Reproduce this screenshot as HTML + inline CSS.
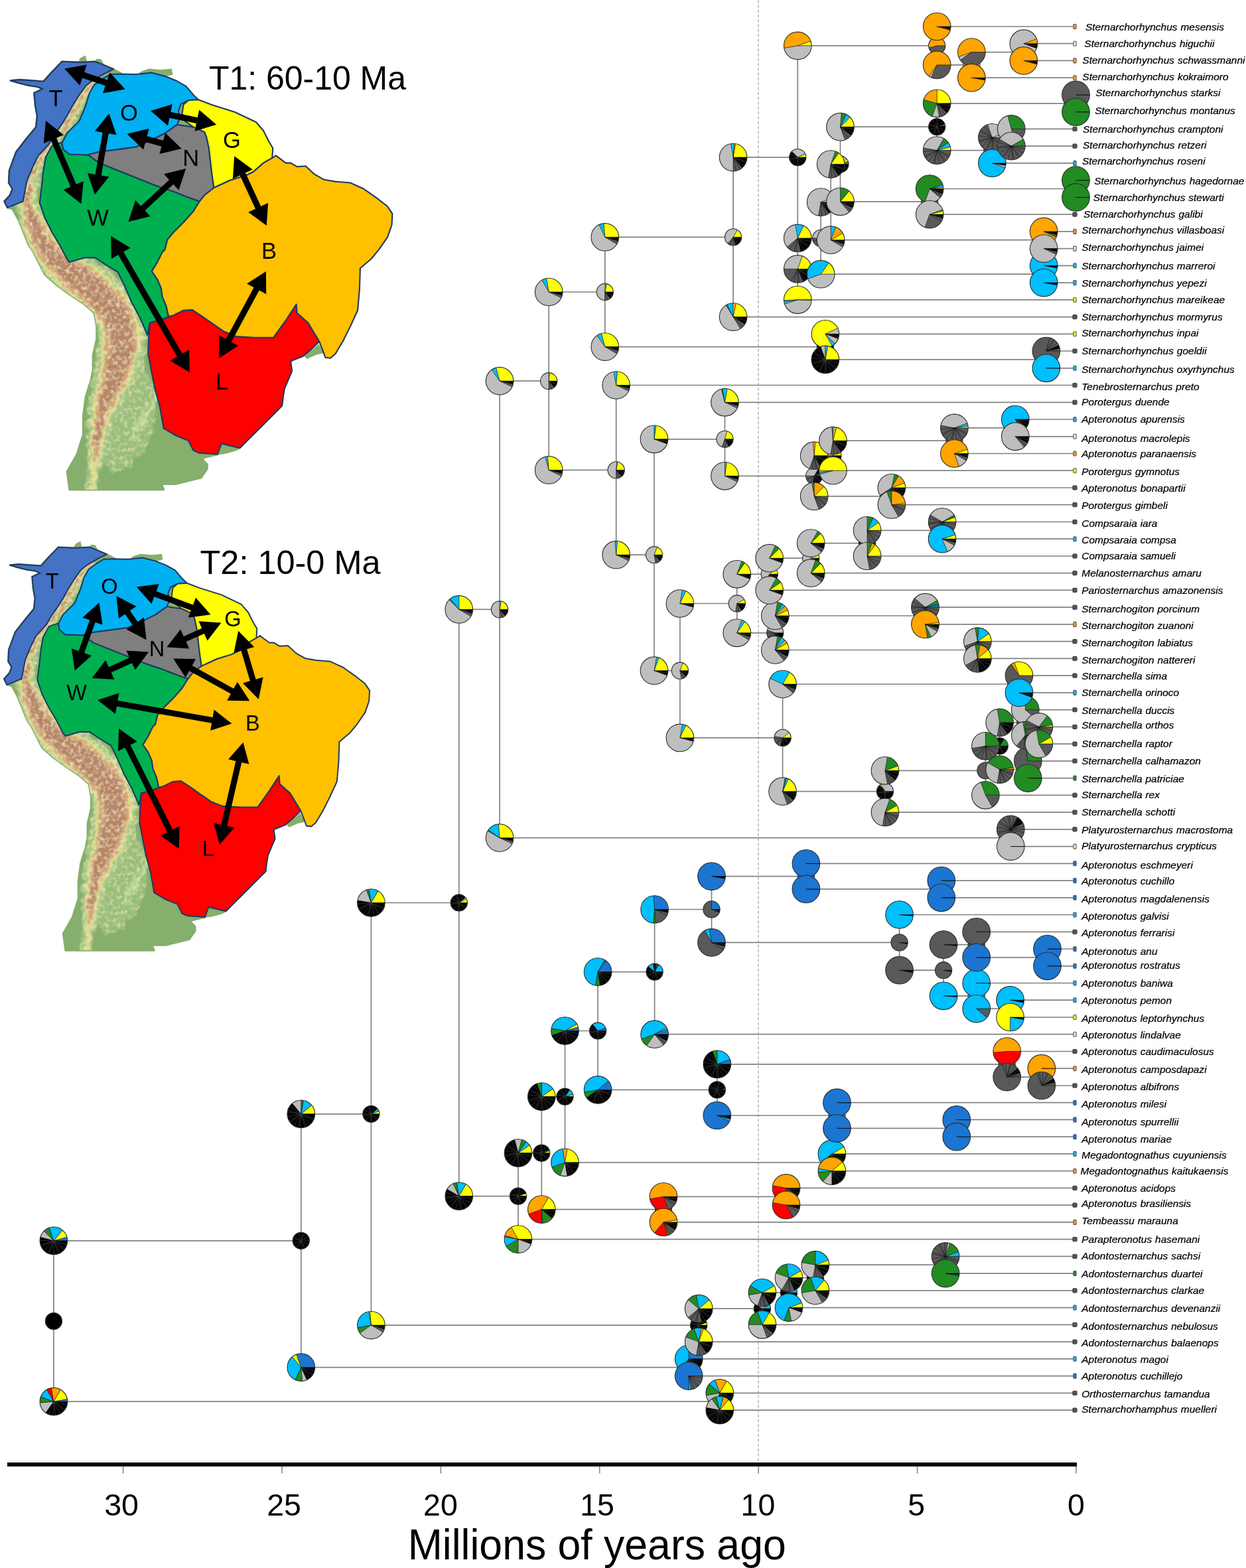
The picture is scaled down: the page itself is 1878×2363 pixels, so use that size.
<!DOCTYPE html>
<html lang="en"><head><meta charset="utf-8"><title>Apteronotidae biogeography</title>
<style>html,body{margin:0;padding:0;background:#fff;overflow:hidden}svg{display:block}</style></head>
<body><svg width="1878" height="2363" viewBox="0 0 1878 2363">
<rect width="1878" height="2363" fill="#fff"/>
<defs><filter id="tb" x="-5%" y="-5%" width="110%" height="110%"><feTurbulence type="fractalNoise" baseFrequency=".09" numOctaves="3" seed="4" result="n"/><feDisplacementMap in="SourceGraphic" in2="n" scale="14" xChannelSelector="R" yChannelSelector="G" result="d"/><feGaussianBlur in="d" stdDeviation="1.2" result="b"/><feTurbulence type="fractalNoise" baseFrequency=".16" numOctaves="2" seed="9" result="n2"/><feColorMatrix in="n2" type="matrix" values="0 0 0 0 .87  0 0 0 0 .78  0 0 0 0 .5  2.2 0 0 0 -1.0" result="sp"/><feComposite in="sp" in2="b" operator="in" result="sp2"/><feMerge><feMergeNode in="b"/><feMergeNode in="sp2"/></feMerge></filter><clipPath id="tc"><path d="M11.2 312.9L18.7 314.7L28 331.5L35.5 350.2L43 368.9L50.4 380L67.3 413.6L84.1 428.6L104.6 443.5L127 458.5L142 471.5L145.7 492.1L145.7 510.8L140.1 535.1L140.1 557.5L136.4 576.2L134.7 580L129.1 598.7L125.4 626.7L125.4 654.7L116 684.6L101.1 710.8L104.8 737.9L246.8 737.9L243.1 729.4L265.5 729.4L302.9 720.1L312.2 707L312.2 699.6L304.7 692.1L308.5 689.3L329 684.6L340 600L320 500L330 300L340 200L280 150L200 120L172 105L170.9 104.2L156.9 111.1L139.2 121.4L128.9 129.8L119.6 142.9L110.2 157.8L100.9 174.6L91.5 189.6L82.2 202.6L74.7 215.7L68.2 223.2L57.9 234.4L50.4 249.3L44.8 262.4L40.2 273.6L37.4 288.6L34.6 303.5Z"/></clipPath><g id="mp"><g fill="#86ae6c" stroke="#86ae6c" stroke-width="3" stroke-linejoin="round"><path d="M11.2 312.9L18.7 314.7L28 331.5L35.5 350.2L43 368.9L50.4 380L67.3 413.6L84.1 428.6L104.6 443.5L127 458.5L142 471.5L145.7 492.1L145.7 510.8L140.1 535.1L140.1 557.5L136.4 576.2L134.7 580L129.1 598.7L125.4 626.7L125.4 654.7L116 684.6L101.1 710.8L104.8 737.9L246.8 737.9L243.1 729.4L265.5 729.4L302.9 720.1L312.2 707L312.2 699.6L304.7 692.1L308.5 689.3L329 684.6L340 600L320 500L330 300L340 200L280 150L200 120L172 105L170.9 104.2L156.9 111.1L139.2 121.4L128.9 129.8L119.6 142.9L110.2 157.8L100.9 174.6L91.5 189.6L82.2 202.6L74.7 215.7L68.2 223.2L57.9 234.4L50.4 249.3L44.8 262.4L40.2 273.6L37.4 288.6L34.6 303.5Z"/><path d="M93.4 92.8L119.6 93.9L143.8 92.8L170.9 104.2L156.9 111.1L139.2 121.4L128.9 129.8L119.6 142.9L110.2 157.8L100.9 174.6L91.5 189.6L82.2 202.6L74.7 215.7L68.2 223.2L57.9 234.4L50.4 249.3L44.8 262.4L40.2 273.6L37.4 288.6L34.6 303.5L11.2 312.9L6.5 303.5L14.9 294.2L18.7 284.8L13.1 275.5L14 256.8L24.3 228.8L37.4 212L54.2 191.4L56 174.6L53.2 159.7L51.4 140.1L64.4 133.9L56 130.7L43 128.8L28 125.1L15.9 121.4L29.9 120.1L48.6 121.4L65.4 122.7L76.6 110.2Z"/></g><g fill="#86ae6c"><path d="M458.8 536.9L469.1 528.5L480.3 518.2L487.7 532.3L476.5 534.7L462.5 541Z"/><path d="M207.4 112L213 107.4L224.2 103.6L242.9 105.1L258.7 103.6L260.6 112.6L248.5 115.8L227.9 110.2Z"/><path d="M117.7 93.4L121.1 87.2L128.9 83.5L130.8 92.4Z"/><path d="M142.9 93.4L145.3 88.7L152.3 89.1L156.9 97.1Z"/><path d="M329 685L333.7 668.7L362.6 675.6L357 679L347.7 681.8L336.5 684.6Z"/></g><g clip-path="url(#tc)"><g filter="url(#tb)"><path d="M150 575L178 548L212 545L232 580L236 630L222 672L196 705L166 712L150 690L156 640Z" fill="#9cc27e" opacity=".8"/><path d="M143.5 112.2L127.2 126.1L112.5 144.7L103.2 162.3L95.6 176.6L86.2 191.1L68 209.3L50 235.9L36.4 267.1L23 305.8L26.8 344.3L37.6 373.8L52.1 399.2L70.6 423L114.8 464.4L143 493L147 512.2L144.4 539.8L139.6 575.9L133.1 604.9L131.3 636.7L131.1 666.1L132.1 693.7L131.1 719L130 739.2L146 740.8L148.9 721L153.9 696.3L160.9 669.9L168.7 643.3L178.9 619.1L194.4 595.1L212.4 556.2L223 509.4L208.2 453.8L165.2 407.6L112.4 374.4L99.9 362.8L86.4 346.2L73.2 325.7L57 304.2L57.6 272.9L66 244.1L82 220.7L99.8 202.9L112.4 187.4L120.8 171.7L129.5 155.3L140.8 137.9L154.5 123.8Z" fill="#a3c683"/><path d="M146.1 114.9L130.2 128.7L116.2 147L107 164.3L99.2 178.9L89.2 193.7L71.1 211.8L53.5 237.7L40.8 268.3L29.3 305.5L34.2 341.3L44.6 369.8L58.5 394.3L75.9 416.9L120.1 458.4L149.9 488.9L155 511.9L152.2 541.7L147.2 578.6L140.7 607.2L138 637.9L136.8 666.8L136.6 694.3L135 719.4L133.7 739.6L142.3 740.4L145 720.6L149.4 695.7L155.2 669.2L162 642.1L171.3 616.8L186.8 592.4L204.6 554.3L215 509.7L201.3 457.9L159.9 413.6L107.1 380.5L93.5 367.7L79.4 350.2L65.8 328.7L50.7 304.5L53.2 271.7L62.5 242.3L78.9 218.2L96.8 200.3L108.8 185.1L117 169.7L125.8 153L137.8 135.3L151.9 121.1Z" fill="#d9dc8c"/><path d="M147.7 116.6L132.1 130.4L118.4 148.4L109.3 165.6L101.4 180.4L91.1 195.3L73.1 213.4L55.8 238.9L43.6 269L33.2 305.3L38.9 339.5L48.9 367.4L62.5 391.3L79.1 413.1L123.4 454.7L154.2 486.3L160 511.7L157 542.8L151.9 580.2L145.5 608.7L142.3 638.6L140.3 667.3L139.5 694.6L146.5 695.4L151.7 668.7L157.7 641.4L166.5 615.3L182.1 590.8L199.8 553.2L210 509.9L197 460.5L156.6 417.3L103.9 384.3L89.5 370.7L75.1 352.6L61.1 330.5L46.8 304.7L50.4 271L60.2 241.1L76.9 216.6L94.9 198.7L106.6 183.6L114.7 168.4L123.6 151.6L135.9 133.6L150.3 119.4Z" fill="#d2a679"/><path d="M148.8 117.8L133.5 131.6L120.2 149.5L111.2 166.6L103.2 181.5L92.5 196.6L74.5 214.6L57.5 239.7L45.8 269.7L36.8 305.1L43.7 337.5L54 364.5L67.4 387.5L83.4 408.1L128.6 448.9L160.9 482.3L167.8 511.4L164 544.5L157.6 582.2L150.3 610.2L146.2 639.3L143.4 667.7L148.6 668.3L153.8 640.7L161.7 613.8L176.4 588.8L192.8 551.5L202.2 510.2L190.3 464.5L151.4 423.1L99.6 389.3L84.6 374.5L70 355.5L56.3 332.5L43.2 304.9L48.2 270.3L58.5 240.3L75.5 215.4L93.5 197.4L104.8 182.5L112.8 167.4L121.8 150.5L134.5 132.4L149.2 118.2Z" fill="#b78669"/><path d="M215 640L235 600L250 560M200 660L215 625M260 640L275 610" stroke="#b7d890" stroke-width="6" fill="none" stroke-linecap="round"/></g></g><path d="M93.4 92.8L119.6 93.9L143.8 92.8L170.9 104.2L156.9 111.1L139.2 121.4L128.9 129.8L119.6 142.9L110.2 157.8L100.9 174.6L91.5 189.6L82.2 202.6L74.7 215.7L68.2 223.2L57.9 234.4L50.4 249.3L44.8 262.4L40.2 273.6L37.4 288.6L34.6 303.5L11.2 312.9L6.5 303.5L14.9 294.2L18.7 284.8L13.1 275.5L14 256.8L24.3 228.8L37.4 212L54.2 191.4L56 174.6L53.2 159.7L51.4 140.1L64.4 133.9L56 130.7L43 128.8L28 125.1L15.9 121.4L29.9 120.1L48.6 121.4L65.4 122.7L76.6 110.2Z" fill="#4472C4" stroke="#1F3864" stroke-width="2.1" stroke-linejoin="round"/><path d="M78.5 219.4L69.1 236.3L65.4 256.8L63.5 275.5L59.8 305.4L67.3 327.8L78.5 350.2L89.7 368.9L100.9 390L104.6 394.9L127 388.4L143.8 388.4L158.8 398.7L177.5 409.9L186.8 428.6L198 454.7L211.1 479L222.3 505.2L226 486.5L242.9 481.8L254.1 477.1L250.3 460.3L244.7 447.3L242.9 434.2L237.3 421.1L228.8 409L237.3 394.9L244.7 380L248.5 376.4L252.2 361.4L261.5 350.2L276.5 335.3L291.4 318.5L300.8 303.5L280.2 296L261.5 288.6L233.5 279.2L205.5 268L177.5 256.8L149.4 245.6L134.5 234.4L130.8 233.5L104.6 232.5L95.3 225.1L93.4 215.7L95.3 213.8Z" fill="#00B050" stroke="#1F3864" stroke-width="2.1" stroke-linejoin="round"/><path d="M267.1 187.7L248.5 200.8L233.5 208.2L205.5 221.3L177.5 225.1L149.4 228.8L130.8 233.5L134.5 234.4L149.4 245.6L177.5 256.8L205.5 268L233.5 279.2L261.5 288.6L280.2 296L300.8 303.5L308.2 294.2L322.4 283L318.7 256.8L315 223.2L311.2 206.4L308.2 198.9L291.4 191.4L278.3 189.6Z" fill="#7F7F7F" stroke="#1F3864" stroke-width="2.1" stroke-linejoin="round"/><path d="M179.3 111.5L205.5 112L227.9 109.6L248.5 114.8L265.3 121.4L280.2 129.8L291.4 142.9L298.9 150.3L284 151.3L272.7 156.9L269 167.1L270.9 178.4L267.1 187.7L248.5 200.8L233.5 208.2L205.5 221.3L177.5 225.1L149.4 228.8L130.8 233.5L104.6 232.5L95.3 225.1L93.4 215.7L100.9 200.8L112.1 189.6L119.6 182.1L128.9 159.7L134.5 141L142 127.9L155.1 118.6L166.3 112Z" fill="#00B0F0" stroke="#1F3864" stroke-width="2.1" stroke-linejoin="round"/><path d="M298.9 150.3L318.7 157.8L354.2 169L385.9 184L397.1 197L404.6 212L411.2 223.2L410.2 238.1L397.1 245.6L382.2 258.7L371 264.3L346.7 271.8L322.4 283L318.7 256.8L314.9 223.2L311.2 206.4L308.2 198.9L291.4 191.4L278.3 182.1L274.6 170.9L276.5 157.8L283.9 151.3Z" fill="#FFFF00" stroke="#1F3864" stroke-width="2.1" stroke-linejoin="round"/><path d="M226 486.5L242.9 481.8L261.5 475.3L276.5 467.8L289.6 466.9L302.6 475.3L318.7 486.5L337.4 499.6L356 507L384.1 508.9L412.1 508.9L430.8 482.7L446.6 458.5L447.6 471.5L464.4 486.5L481.2 514.5L468.1 527.6L456.9 536.9L438.2 544.4L440.1 559.3L428.9 585.5L427 596.7L425.2 611.6L412.1 624.7L393.4 643.4L374.7 662.1L361.6 675.2L333.6 668.6L328 684.5L300 682.6L291.4 678.9L284 664L265.3 656.5L246.6 645.3L241 613.5L233.5 585.5L227.9 557.5L223.2 533.2L224.2 510.8Z" fill="#FF0000" stroke="#1F3864" stroke-width="2.1" stroke-linejoin="round"/><path d="M410.2 238.1L415.8 234.4L430.8 245.6L438.2 245.6L447.6 251.2L460.7 250.3L473.7 262.4L488.7 270.8L505.5 273.6L527.9 275.5L548.5 284.8L567.1 297.9L584 311L591.4 322.2L590.5 339L584 357.7L570.9 376.4L559.7 390L542.9 404.3L541.9 436L539.1 467.8L527.9 492.1L516.7 514.5L505.5 533.2L498 539.7L490.5 538.8L481.2 514.5L464.4 486.5L447.6 471.5L446.6 458.5L430.8 482.7L412.1 508.9L384.1 508.9L356 507L337.4 499.6L318.7 486.5L302.6 475.3L289.6 466.9L276.5 467.8L261.5 475.3L254.1 477.1L250.3 460.3L244.7 447.3L242.9 434.2L237.3 421.1L228.8 409L237.3 394.9L244.7 380L248.5 376.4L252.2 361.4L261.5 350.2L276.5 335.3L291.4 318.5L300.8 303.5L308.2 294.2L322.4 283L346.7 271.8L371 264.3L382.2 258.7L397.1 245.6Z" fill="#FFC000" stroke="#1F3864" stroke-width="2.1" stroke-linejoin="round"/></g></defs>
<g id="map1"><use href="#mp"/>
<path d="M97.1 103.6L120.3 128.8L124.1 117.5L158.8 129.3L155 140.5L188.7 134.5L165.5 109.3L161.7 120.6L127 108.8L130.8 97.6ZM227 167.1L253 189.4L255.4 177.7L295.9 186.1L293.5 197.8L326.2 187.7L300.2 165.4L297.8 177.1L257.3 168.7L259.7 157ZM191.5 201.7L216.1 225.5L219.2 214L243.5 220.7L240.4 232.1L273.7 224.1L249.1 200.3L246 211.8L221.7 205.1L224.8 193.7ZM164.4 170.9L143 197.6L154.7 199.7L143.6 262.9L131.8 260.8L142.9 293.2L164.3 266.5L152.6 264.4L163.7 201.2L175.5 203.3ZM69.1 182.1L65.7 216.2L76.6 211.5L106.4 281.4L95.5 286.1L122.4 307.2L125.8 273.1L114.9 277.8L85.1 207.9L96 203.2ZM280.2 254L247 262.3L255.1 271L212.3 310.6L204.2 301.8L193.4 334.3L226.6 326L218.5 317.3L261.3 277.7L269.4 286.5ZM353.2 235.3L350.9 269.5L361.7 264.4L385 314.7L374.2 319.7L401.8 340L404.1 305.8L393.3 310.9L370 260.6L380.8 255.6ZM167.2 355.8L167.9 390L178.2 384.1L266.8 537.5L256.5 543.5L285.8 561.2L285.1 527L274.8 532.9L186.2 379.5L196.5 373.5ZM400.9 409L372.1 427.6L382.6 433.2L340.5 511.1L330 505.5L330.3 539.7L359.1 521.1L348.6 515.5L390.7 437.6L401.2 443.2Z" fill="#000"/>
<g font-family="'Liberation Sans',sans-serif" font-size="34.5" text-anchor="middle" fill="#000">
<text x="84" y="159.9">T</text>
<text x="194.3" y="182.4">O</text>
<text x="287.7" y="250.4">N</text>
<text x="147.6" y="340.2">W</text>
<text x="349.5" y="223.4">G</text>
<text x="405.5" y="390.4">B</text>
<text x="334.6" y="586.7">L</text>
</g>
<text x="315" y="135.4" font-family="'Liberation Sans',sans-serif" font-size="50" textLength="297" lengthAdjust="spacingAndGlyphs" fill="#000">T1: 60-10 Ma</text>
</g>
<g id="map2"><use href="#mp" transform="translate(0 737.2) scale(.942)"/>
<path d="M205.9 884.6L228.4 910.1L232.4 899.3L287.8 920L283.8 930.8L317.5 926.3L295 900.8L291 911.6L235.6 890.9L239.6 880.1ZM149.5 907.9L124.4 930.8L135.2 934.6L118.6 981L107.8 977.2L112.8 1010.8L137.9 987.9L127.1 984.1L143.7 937.7L154.5 941.5ZM175.3 898.1L179 931.9L188.5 925.4L199.9 942.1L190.5 948.6L220.6 964.3L216.9 930.5L207.4 937L196 920.3L205.4 913.8ZM251.3 975.3L285.2 977.6L280.5 967.1L307.9 954.9L312.6 965.4L333.4 938.5L299.5 936.2L304.2 946.7L276.8 958.9L272.1 948.4ZM224.3 982.6L190.4 980.5L195.2 991L163.9 1005.3L159.1 994.9L138.5 1021.9L172.4 1024L167.6 1013.5L198.9 999.2L203.7 1009.6ZM261.1 992.4L279.6 1020.9L285.2 1010.9L347.9 1045.6L342.3 1055.7L376.3 1056.2L357.8 1027.7L352.2 1037.7L289.5 1003L295.1 992.9ZM359.2 950.8L352.4 984.1L363.4 980.8L376.9 1026.2L365.9 1029.5L389.8 1053.7L396.6 1020.4L385.6 1023.7L372.1 978.3L383.1 975ZM147.1 1055L173.9 1075.9L175.9 1064.6L319.1 1089.7L317.1 1101.1L349.4 1090.5L322.6 1069.6L320.6 1080.9L177.4 1055.8L179.4 1044.4ZM179 1097.9L178.1 1131.9L188.4 1126.7L252.2 1254.2L242 1259.3L269.7 1279L270.6 1245L260.3 1250.2L196.5 1122.7L206.7 1117.6ZM366.5 1118.7L344.2 1144.3L355.4 1146.9L333.3 1242.7L322.1 1240.1L331 1272.9L353.3 1247.3L342.1 1244.7L364.2 1148.9L375.4 1151.5Z" fill="#000"/>
<g font-family="'Liberation Sans',sans-serif" font-size="32.5" text-anchor="middle" fill="#000">
<text x="78.8" y="886.7">T</text>
<text x="165" y="895.2">O</text>
<text x="351" y="944.1">G</text>
<text x="236.6" y="989.2">N</text>
<text x="115.5" y="1055.3">W</text>
<text x="380.8" y="1101">B</text>
<text x="313.9" y="1289.7">L</text>
</g>
<text x="301.5" y="864.8" font-family="'Liberation Sans',sans-serif" font-size="50" textLength="272" lengthAdjust="spacingAndGlyphs" fill="#000">T2: 10-0 Ma</text>
</g>
<g id="tree">
<path d="M1143 0V2204" stroke="#a8a8a8" stroke-width="1.3" stroke-dasharray="4.4 2.9" fill="none"/>
<path d="M1084.8 2099.3V2125.1M1084.8 2099.3H1619.8M1084.8 2125.1H1619.8M1038.2 2047.8V2073.6M1038.2 2047.8H1619.8M1038.2 2073.6H1619.8M1425.1 1893.4V1919.1M1425.1 1893.4H1619.8M1425.1 1919.1H1619.8M1228.9 1906.2V1944.9M1228.9 1906.2H1425.1M1228.9 1944.9H1619.8M1189 1925.6V1970.6M1189 1925.6H1228.9M1189 1970.6H1619.8M1149 1948.1V1996.3M1149 1948.1H1189M1149 1996.3H1619.8M1053.2 1972.2V2022.1M1053.2 1972.2H1149M1053.2 2022.1H1619.8M1185 1790.4V1816.1M1185 1790.4H1619.8M1185 1816.1H1619.8M1000 1803.3V1841.9M1000 1803.3H1185M1000 1841.9H1619.8M1253.9 1738.9V1764.7M1253.9 1738.9H1619.8M1253.9 1764.7H1619.8M1441.8 1687.4V1713.2M1441.8 1687.4H1619.8M1441.8 1713.2H1619.8M1261.5 1661.7V1700.3M1261.5 1661.7H1619.8M1261.5 1700.3H1441.8M1569.9 1610.2V1636M1569.9 1610.2H1619.8M1569.9 1636H1619.8M1517.7 1584.5V1623.1M1517.7 1584.5H1619.8M1517.7 1623.1H1569.9M1080.8 1603.8V1681M1080.8 1603.8H1517.7M1080.8 1681H1261.5M1522.6 1507.2V1533M1522.6 1507.2H1619.8M1522.6 1533H1619.8M1471.7 1481.5V1520.1M1471.7 1481.5H1619.8M1471.7 1520.1H1522.6M1578.5 1430V1455.8M1578.5 1430H1619.8M1578.5 1455.8H1619.8M1471.7 1404.3V1442.9M1471.7 1404.3H1619.8M1471.7 1442.9H1578.5M1422.1 1423.6V1500.8M1422.1 1423.6H1471.7M1422.1 1500.8H1471.7M1355.6 1378.5V1462.2M1355.6 1378.5H1619.8M1355.6 1462.2H1422.1M1418.8 1327.1V1352.8M1418.8 1327.1H1619.8M1418.8 1352.8H1619.8M1214.9 1301.3V1339.9M1214.9 1301.3H1619.8M1214.9 1339.9H1418.8M1072.5 1320.6V1420.4M1072.5 1320.6H1214.9M1072.5 1420.4H1355.6M986.6 1370.5V1558.7M986.6 1370.5H1072.5M986.6 1558.7H1619.8M901.1 1464.6V1642.4M901.1 1464.6H986.6M901.1 1642.4H1080.8M851.5 1553.5V1751.8M851.5 1553.5H901.1M851.5 1751.8H1253.9M816.3 1652.6V1822.6M816.3 1652.6H851.5M816.3 1822.6H1000M781 1737.6V1867.6M781 1737.6H816.3M781 1867.6H1619.8M1523.3 1249.8V1275.6M1523.3 1249.8H1619.8M1523.3 1275.6H1619.8M1549.3 1146.9V1172.6M1549.3 1146.9H1619.8M1549.3 1172.6H1619.8M1565.9 1095.4V1121.1M1565.9 1095.4H1619.8M1565.9 1121.1H1619.8M1545.3 1069.6V1108.2M1545.3 1069.6H1619.8M1545.3 1108.2H1565.9M1506.7 1088.9V1159.7M1506.7 1088.9H1545.3M1506.7 1159.7H1549.3M1485.4 1124.3V1198.3M1485.4 1124.3H1506.7M1485.4 1198.3H1619.8M1334 1161.3V1224.1M1334 1161.3H1485.4M1334 1224.1H1619.8M1536 1018.1V1043.9M1536 1018.1H1619.8M1536 1043.9H1619.8M1179.6 1031V1192.7M1179.6 1031H1536M1179.6 1192.7H1334M1473.4 966.7V992.4M1473.4 966.7H1619.8M1473.4 992.4H1619.8M1394.5 915.2V940.9M1394.5 915.2H1619.8M1394.5 940.9H1619.8M1168.3 928V979.5M1168.3 928H1394.5M1168.3 979.5H1473.4M1420.1 786.5V812.2M1420.1 786.5H1619.8M1420.1 812.2H1619.8M1307.1 799.3V838M1307.1 799.3H1420.1M1307.1 838H1619.8M1222.2 818.6V863.7M1222.2 818.6H1307.1M1222.2 863.7H1619.8M1159.7 841.2V889.4M1159.7 841.2H1222.2M1159.7 889.4H1619.8M1110.8 865.3V953.8M1110.8 865.3H1159.7M1110.8 953.8H1168.3M1024.9 909.5V1111.9M1024.9 909.5H1110.8M1024.9 1111.9H1179.6M1343.9 735V760.7M1343.9 735H1619.8M1343.9 760.7H1619.8M1530.3 632V657.8M1530.3 632H1619.8M1530.3 657.8H1619.8M1438.4 644.9V683.5M1438.4 644.9H1530.3M1438.4 683.5H1619.8M1255.5 664.2V709.2M1255.5 664.2H1438.4M1255.5 709.2H1619.8M1227.2 686.7V747.9M1227.2 686.7H1255.5M1227.2 747.9H1343.9M1092.5 606.3V717.3M1092.5 606.3H1619.8M1092.5 717.3H1227.2M986 661.8V1010.7M986 661.8H1092.5M986 1010.7H1024.9M928.7 580.5V836.2M928.7 580.5H1619.8M928.7 836.2H986M1576.9 529V554.8M1576.9 529H1619.8M1576.9 554.8H1619.8M1243.9 503.3V541.9M1243.9 503.3H1619.8M1243.9 541.9H1576.9M1573.2 400.3V426.1M1573.2 400.3H1619.8M1573.2 426.1H1619.8M1573.2 348.9V374.6M1573.2 348.9H1619.8M1573.2 374.6H1619.8M1621.5 271.6V297.4M1621.5 271.6H1619.8M1621.5 297.4H1619.8M1401.2 284.5V323.1M1401.2 284.5H1621.5M1401.2 323.1H1619.8M1524.3 194.4V220.1M1524.3 194.4H1619.8M1524.3 220.1H1619.8M1495.4 207.3V245.9M1495.4 207.3H1524.3M1495.4 245.9H1619.8M1621.5 142.9V168.7M1621.5 142.9H1619.8M1621.5 168.7H1619.8M1412.2 155.8V226.6M1412.2 155.8H1621.5M1412.2 226.6H1495.4M1266.5 191.2V303.8M1266.5 191.2H1412.2M1266.5 303.8H1401.2M1252.2 247.5V361.7M1252.2 247.5H1266.5M1252.2 361.7H1573.2M1237.2 304.6V413.2M1237.2 304.6H1252.2M1237.2 413.2H1573.2M1202.3 358.9V451.8M1202.3 358.9H1237.2M1202.3 451.8H1619.8M1542.9 65.7V91.4M1542.9 65.7H1619.8M1542.9 91.4H1619.8M1464.4 78.6V117.2M1464.4 78.6H1542.9M1464.4 117.2H1619.8M1412.2 40V97.9M1412.2 40H1619.8M1412.2 97.9H1464.4M1202.3 68.9V405.4M1202.3 68.9H1412.2M1202.3 405.4H1202.3M1105.1 237.1V477.6M1105.1 237.1H1202.3M1105.1 477.6H1619.8M911.8 357.4V522.6M911.8 357.4H1105.1M911.8 522.6H1243.9M827.2 440V708.4M827.2 440H911.8M827.2 708.4H928.7M753.1 574.2V1262.7M753.1 574.2H827.2M753.1 1262.7H1523.3M691.8 918.4V1802.6M691.8 918.4H753.1M691.8 1802.6H781M559.4 1360.5V1997.1M559.4 1360.5H691.8M559.4 1997.1H1053.2M453.8 1678.8V2060.7M453.8 1678.8H559.4M453.8 2060.7H1038.2M80.9 1869.8V2112.2M80.9 1869.8H453.8M80.9 2112.2H1084.8" stroke="#828282" stroke-width="1.7" fill="none"/>
<rect x="1617.9" y="36.5" width="4.2" height="7" rx="1" fill="#FFA500" stroke="#555" stroke-width="1.1"/>
<rect x="1617.9" y="62.2" width="4.2" height="7" rx="1" fill="#E8E8E8" stroke="#555" stroke-width="1.1"/>
<rect x="1617.9" y="87.9" width="4.2" height="7" rx="1" fill="#FFA500" stroke="#555" stroke-width="1.1"/>
<rect x="1617.9" y="113.7" width="4.2" height="7" rx="1" fill="#FFA500" stroke="#555" stroke-width="1.1"/>
<rect x="1616.9" y="139.8" width="6.2" height="6.2" rx="1" fill="#555" stroke="#3a3a3a" stroke-width="1"/>
<rect x="1617.9" y="165.2" width="4.2" height="7" rx="1" fill="#228B22" stroke="#555" stroke-width="1.1"/>
<rect x="1616.9" y="191.3" width="6.2" height="6.2" rx="1" fill="#555" stroke="#3a3a3a" stroke-width="1"/>
<rect x="1616.9" y="217" width="6.2" height="6.2" rx="1" fill="#555" stroke="#3a3a3a" stroke-width="1"/>
<rect x="1617.9" y="242.4" width="4.2" height="7" rx="1" fill="#00BFFF" stroke="#555" stroke-width="1.1"/>
<rect x="1617.9" y="268.1" width="4.2" height="7" rx="1" fill="#228B22" stroke="#555" stroke-width="1.1"/>
<rect x="1617.9" y="293.9" width="4.2" height="7" rx="1" fill="#228B22" stroke="#555" stroke-width="1.1"/>
<rect x="1616.9" y="320" width="6.2" height="6.2" rx="1" fill="#555" stroke="#3a3a3a" stroke-width="1"/>
<rect x="1617.9" y="345.4" width="4.2" height="7" rx="1" fill="#FFA500" stroke="#555" stroke-width="1.1"/>
<rect x="1617.9" y="371.1" width="4.2" height="7" rx="1" fill="#E8E8E8" stroke="#555" stroke-width="1.1"/>
<rect x="1617.9" y="396.8" width="4.2" height="7" rx="1" fill="#00BFFF" stroke="#555" stroke-width="1.1"/>
<rect x="1617.9" y="422.6" width="4.2" height="7" rx="1" fill="#00BFFF" stroke="#555" stroke-width="1.1"/>
<rect x="1617.9" y="448.3" width="4.2" height="7" rx="1" fill="#FFFF00" stroke="#555" stroke-width="1.1"/>
<rect x="1616.9" y="474.5" width="6.2" height="6.2" rx="1" fill="#555" stroke="#3a3a3a" stroke-width="1"/>
<rect x="1617.9" y="499.8" width="4.2" height="7" rx="1" fill="#FFFF00" stroke="#555" stroke-width="1.1"/>
<rect x="1616.9" y="525.9" width="6.2" height="6.2" rx="1" fill="#555" stroke="#3a3a3a" stroke-width="1"/>
<rect x="1617.9" y="551.3" width="4.2" height="7" rx="1" fill="#00BFFF" stroke="#555" stroke-width="1.1"/>
<rect x="1616.9" y="577.4" width="6.2" height="6.2" rx="1" fill="#555" stroke="#3a3a3a" stroke-width="1"/>
<rect x="1616.9" y="603.2" width="6.2" height="6.2" rx="1" fill="#555" stroke="#3a3a3a" stroke-width="1"/>
<rect x="1617.9" y="628.5" width="4.2" height="7" rx="1" fill="#00BFFF" stroke="#555" stroke-width="1.1"/>
<rect x="1617.9" y="654.3" width="4.2" height="7" rx="1" fill="#E8E8E8" stroke="#555" stroke-width="1.1"/>
<rect x="1617.9" y="680" width="4.2" height="7" rx="1" fill="#FFA500" stroke="#555" stroke-width="1.1"/>
<rect x="1617.9" y="705.7" width="4.2" height="7" rx="1" fill="#FFFF00" stroke="#555" stroke-width="1.1"/>
<rect x="1616.9" y="731.9" width="6.2" height="6.2" rx="1" fill="#555" stroke="#3a3a3a" stroke-width="1"/>
<rect x="1616.9" y="757.6" width="6.2" height="6.2" rx="1" fill="#555" stroke="#3a3a3a" stroke-width="1"/>
<rect x="1616.9" y="783.4" width="6.2" height="6.2" rx="1" fill="#555" stroke="#3a3a3a" stroke-width="1"/>
<rect x="1617.9" y="808.7" width="4.2" height="7" rx="1" fill="#00BFFF" stroke="#555" stroke-width="1.1"/>
<rect x="1616.9" y="834.9" width="6.2" height="6.2" rx="1" fill="#555" stroke="#3a3a3a" stroke-width="1"/>
<rect x="1616.9" y="860.6" width="6.2" height="6.2" rx="1" fill="#555" stroke="#3a3a3a" stroke-width="1"/>
<rect x="1616.9" y="886.3" width="6.2" height="6.2" rx="1" fill="#555" stroke="#3a3a3a" stroke-width="1"/>
<rect x="1616.9" y="912.1" width="6.2" height="6.2" rx="1" fill="#555" stroke="#3a3a3a" stroke-width="1"/>
<rect x="1617.9" y="937.4" width="4.2" height="7" rx="1" fill="#FFA500" stroke="#555" stroke-width="1.1"/>
<rect x="1616.9" y="963.6" width="6.2" height="6.2" rx="1" fill="#555" stroke="#3a3a3a" stroke-width="1"/>
<rect x="1616.9" y="989.3" width="6.2" height="6.2" rx="1" fill="#555" stroke="#3a3a3a" stroke-width="1"/>
<rect x="1616.9" y="1015" width="6.2" height="6.2" rx="1" fill="#555" stroke="#3a3a3a" stroke-width="1"/>
<rect x="1617.9" y="1040.4" width="4.2" height="7" rx="1" fill="#00BFFF" stroke="#555" stroke-width="1.1"/>
<rect x="1616.9" y="1066.5" width="6.2" height="6.2" rx="1" fill="#555" stroke="#3a3a3a" stroke-width="1"/>
<rect x="1616.9" y="1092.3" width="6.2" height="6.2" rx="1" fill="#555" stroke="#3a3a3a" stroke-width="1"/>
<rect x="1616.9" y="1118" width="6.2" height="6.2" rx="1" fill="#555" stroke="#3a3a3a" stroke-width="1"/>
<rect x="1616.9" y="1143.8" width="6.2" height="6.2" rx="1" fill="#555" stroke="#3a3a3a" stroke-width="1"/>
<rect x="1617.9" y="1169.1" width="4.2" height="7" rx="1" fill="#228B22" stroke="#555" stroke-width="1.1"/>
<rect x="1616.9" y="1195.2" width="6.2" height="6.2" rx="1" fill="#555" stroke="#3a3a3a" stroke-width="1"/>
<rect x="1616.9" y="1221" width="6.2" height="6.2" rx="1" fill="#555" stroke="#3a3a3a" stroke-width="1"/>
<rect x="1616.9" y="1246.7" width="6.2" height="6.2" rx="1" fill="#555" stroke="#3a3a3a" stroke-width="1"/>
<rect x="1617.9" y="1272.1" width="4.2" height="7" rx="1" fill="#E8E8E8" stroke="#555" stroke-width="1.1"/>
<rect x="1617.9" y="1297.8" width="4.2" height="7" rx="1" fill="#1C75D0" stroke="#555" stroke-width="1.1"/>
<rect x="1617.9" y="1323.6" width="4.2" height="7" rx="1" fill="#1C75D0" stroke="#555" stroke-width="1.1"/>
<rect x="1617.9" y="1349.3" width="4.2" height="7" rx="1" fill="#1C75D0" stroke="#555" stroke-width="1.1"/>
<rect x="1617.9" y="1375" width="4.2" height="7" rx="1" fill="#00BFFF" stroke="#555" stroke-width="1.1"/>
<rect x="1616.9" y="1401.2" width="6.2" height="6.2" rx="1" fill="#555" stroke="#3a3a3a" stroke-width="1"/>
<rect x="1617.9" y="1426.5" width="4.2" height="7" rx="1" fill="#1C75D0" stroke="#555" stroke-width="1.1"/>
<rect x="1617.9" y="1452.3" width="4.2" height="7" rx="1" fill="#1C75D0" stroke="#555" stroke-width="1.1"/>
<rect x="1617.9" y="1478" width="4.2" height="7" rx="1" fill="#00BFFF" stroke="#555" stroke-width="1.1"/>
<rect x="1617.9" y="1503.7" width="4.2" height="7" rx="1" fill="#00BFFF" stroke="#555" stroke-width="1.1"/>
<rect x="1617.9" y="1529.5" width="4.2" height="7" rx="1" fill="#FFFF00" stroke="#555" stroke-width="1.1"/>
<rect x="1617.9" y="1555.2" width="4.2" height="7" rx="1" fill="#E8E8E8" stroke="#555" stroke-width="1.1"/>
<rect x="1616.9" y="1581.4" width="6.2" height="6.2" rx="1" fill="#555" stroke="#3a3a3a" stroke-width="1"/>
<rect x="1617.9" y="1606.7" width="4.2" height="7" rx="1" fill="#FFA500" stroke="#555" stroke-width="1.1"/>
<rect x="1616.9" y="1632.9" width="6.2" height="6.2" rx="1" fill="#555" stroke="#3a3a3a" stroke-width="1"/>
<rect x="1617.9" y="1658.2" width="4.2" height="7" rx="1" fill="#1C75D0" stroke="#555" stroke-width="1.1"/>
<rect x="1617.9" y="1683.9" width="4.2" height="7" rx="1" fill="#1C75D0" stroke="#555" stroke-width="1.1"/>
<rect x="1617.9" y="1709.7" width="4.2" height="7" rx="1" fill="#1C75D0" stroke="#555" stroke-width="1.1"/>
<rect x="1617.9" y="1735.4" width="4.2" height="7" rx="1" fill="#00BFFF" stroke="#555" stroke-width="1.1"/>
<rect x="1617.9" y="1761.2" width="4.2" height="7" rx="1" fill="#FFA500" stroke="#555" stroke-width="1.1"/>
<rect x="1616.9" y="1787.3" width="6.2" height="6.2" rx="1" fill="#555" stroke="#3a3a3a" stroke-width="1"/>
<rect x="1616.9" y="1813" width="6.2" height="6.2" rx="1" fill="#555" stroke="#3a3a3a" stroke-width="1"/>
<rect x="1617.9" y="1838.4" width="4.2" height="7" rx="1" fill="#FFA500" stroke="#555" stroke-width="1.1"/>
<rect x="1616.9" y="1864.5" width="6.2" height="6.2" rx="1" fill="#555" stroke="#3a3a3a" stroke-width="1"/>
<rect x="1616.9" y="1890.3" width="6.2" height="6.2" rx="1" fill="#555" stroke="#3a3a3a" stroke-width="1"/>
<rect x="1617.9" y="1915.6" width="4.2" height="7" rx="1" fill="#228B22" stroke="#555" stroke-width="1.1"/>
<rect x="1616.9" y="1941.8" width="6.2" height="6.2" rx="1" fill="#555" stroke="#3a3a3a" stroke-width="1"/>
<rect x="1617.9" y="1967.1" width="4.2" height="7" rx="1" fill="#00BFFF" stroke="#555" stroke-width="1.1"/>
<rect x="1616.9" y="1993.2" width="6.2" height="6.2" rx="1" fill="#555" stroke="#3a3a3a" stroke-width="1"/>
<rect x="1616.9" y="2019" width="6.2" height="6.2" rx="1" fill="#555" stroke="#3a3a3a" stroke-width="1"/>
<rect x="1617.9" y="2044.3" width="4.2" height="7" rx="1" fill="#00BFFF" stroke="#555" stroke-width="1.1"/>
<rect x="1617.9" y="2070.1" width="4.2" height="7" rx="1" fill="#1C75D0" stroke="#555" stroke-width="1.1"/>
<rect x="1616.9" y="2096.2" width="6.2" height="6.2" rx="1" fill="#555" stroke="#3a3a3a" stroke-width="1"/>
<rect x="1616.9" y="2122" width="6.2" height="6.2" rx="1" fill="#555" stroke="#3a3a3a" stroke-width="1"/>
<circle cx="1084.8" cy="2112.2" r="12.6" fill="#000000"/><circle cx="1084.8" cy="2112.2" r="12.6" fill="none" stroke="#2e2e2e" stroke-width="1.1"/>
<circle cx="1038.2" cy="2060.7" r="12.6" fill="#1C75D0"/><path d="M1038.2 2060.7L1050.8 2060.7A12.6 12.6 0 0 0 1025.6 2060.7Z" fill="#1C75D0"/><path d="M1038.2 2060.7L1025.6 2060.7A12.6 12.6 0 0 0 1036.2 2073.1Z" fill="#595959"/><path d="M1038.2 2060.7L1026.8 2066M1038.2 2060.7L1031.9 2071.6" stroke="#111" stroke-width=".6" fill="none"/><path d="M1038.2 2060.7L1036.2 2073.1A12.6 12.6 0 0 0 1050.8 2060.7Z" fill="#000000"/><path d="M1038.2 2060.7L1041.2 2072.9M1038.2 2060.7L1047.2 2069.5M1038.2 2060.7L1048.9 2067.3" stroke="#4a4a4a" stroke-width=".6" fill="none"/><path d="M1038.2 2060.7L1050.8 2060.7M1038.2 2060.7L1025.6 2060.7M1038.2 2060.7L1036.2 2073.1" stroke="#111" stroke-width=".7" fill="none"/><circle cx="1038.2" cy="2060.7" r="12.6" fill="none" stroke="#2e2e2e" stroke-width="1.1"/>
<circle cx="1425.1" cy="1906.2" r="12.6" fill="#595959"/><circle cx="1425.1" cy="1906.2" r="12.6" fill="none" stroke="#2e2e2e" stroke-width="1.1"/>
<circle cx="1228.9" cy="1925.6" r="12.6" fill="#000000"/><path d="M1228.9 1925.6L1241.5 1925.6A12.6 12.6 0 0 0 1240.7 1921.2Z" fill="#FFFF00"/><path d="M1228.9 1925.6L1240.7 1921.2A12.6 12.6 0 1 0 1241.5 1925.6Z" fill="#000000"/><path d="M1228.9 1925.6L1237.9 1916.8M1228.9 1925.6L1231.5 1913.2M1228.9 1925.6L1228.7 1913M1228.9 1925.6L1221.7 1915.2M1228.9 1925.6L1217.2 1920.9M1228.9 1925.6L1216.4 1923.6M1228.9 1925.6L1217.5 1930.9M1228.9 1925.6L1222.3 1936.3M1228.9 1925.6L1224.9 1937.5M1228.9 1925.6L1232.2 1937.7M1228.9 1925.6L1234.9 1936.6M1228.9 1925.6L1240 1931.5" stroke="#4a4a4a" stroke-width=".6" fill="none"/><path d="M1228.9 1925.6L1241.5 1925.6M1228.9 1925.6L1240.7 1921.2" stroke="#111" stroke-width=".7" fill="none"/><circle cx="1228.9" cy="1925.6" r="12.6" fill="none" stroke="#2e2e2e" stroke-width="1.1"/>
<circle cx="1189" cy="1948.1" r="12.6" fill="#000000"/><path d="M1189 1948.1L1201.6 1948.1A12.6 12.6 0 0 0 1198.7 1940Z" fill="#00BFFF"/><path d="M1189 1948.1L1198.7 1940A12.6 12.6 0 0 0 1179.3 1940Z" fill="#BEBEBE"/><path d="M1189 1948.1L1179.3 1940A12.6 12.6 0 1 0 1201.6 1948.1Z" fill="#000000"/><path d="M1189 1948.1L1176.8 1944.9M1189 1948.1L1177.2 1952.6M1189 1948.1L1178.6 1955.2M1189 1948.1L1184.7 1959.9M1189 1948.1L1192.3 1960.2M1189 1948.1L1195.1 1959.1M1189 1948.1L1200.4 1953.5" stroke="#4a4a4a" stroke-width=".6" fill="none"/><path d="M1189 1948.1L1201.6 1948.1M1189 1948.1L1198.7 1940M1189 1948.1L1179.3 1940" stroke="#111" stroke-width=".7" fill="none"/><circle cx="1189" cy="1948.1" r="12.6" fill="none" stroke="#2e2e2e" stroke-width="1.1"/>
<circle cx="1149" cy="1972.2" r="12.6" fill="#000000"/><path d="M1149 1972.2L1161.6 1972.2A12.6 12.6 0 0 0 1159.9 1965.9Z" fill="#00BFFF"/><path d="M1149 1972.2L1159.9 1965.9A12.6 12.6 0 0 0 1138.1 1965.9Z" fill="#BEBEBE"/><path d="M1149 1972.2L1138.1 1965.9A12.6 12.6 0 1 0 1161.6 1972.2Z" fill="#000000"/><path d="M1149 1972.2L1136.5 1971M1149 1972.2L1137.9 1978.1M1149 1972.2L1139.5 1980.5M1149 1972.2L1145.7 1984.4M1149 1972.2L1153.1 1984.1M1149 1972.2L1155.7 1982.9M1149 1972.2L1160.5 1977.4" stroke="#4a4a4a" stroke-width=".6" fill="none"/><path d="M1149 1972.2L1161.6 1972.2M1149 1972.2L1159.9 1965.9M1149 1972.2L1138.1 1965.9" stroke="#111" stroke-width=".7" fill="none"/><circle cx="1149" cy="1972.2" r="12.6" fill="none" stroke="#2e2e2e" stroke-width="1.1"/>
<circle cx="1053.2" cy="1997.1" r="12.6" fill="#000000"/><path d="M1053.2 1997.1L1065.8 1997.1A12.6 12.6 0 0 0 1065 1992.8Z" fill="#FFFF00"/><path d="M1053.2 1997.1L1065 1992.8A12.6 12.6 0 1 0 1065.8 1997.1Z" fill="#000000"/><path d="M1053.2 1997.1L1062.2 1988.3M1053.2 1997.1L1055.8 1984.8M1053.2 1997.1L1053 1984.5M1053.2 1997.1L1046 1986.8M1053.2 1997.1L1041.5 1992.5M1053.2 1997.1L1040.7 1995.2M1053.2 1997.1L1041.8 2002.5M1053.2 1997.1L1046.6 2007.9M1053.2 1997.1L1049.2 2009.1M1053.2 1997.1L1056.5 2009.3M1053.2 1997.1L1059.2 2008.2M1053.2 1997.1L1064.3 2003.1" stroke="#4a4a4a" stroke-width=".6" fill="none"/><path d="M1053.2 1997.1L1065.8 1997.1M1053.2 1997.1L1065 1992.8" stroke="#111" stroke-width=".7" fill="none"/><circle cx="1053.2" cy="1997.1" r="12.6" fill="none" stroke="#2e2e2e" stroke-width="1.1"/>
<circle cx="1185" cy="1803.3" r="12.6" fill="#FF0000"/><circle cx="1185" cy="1803.3" r="12.6" fill="none" stroke="#2e2e2e" stroke-width="1.1"/>
<circle cx="1000" cy="1822.6" r="12.6" fill="#FF0000"/><circle cx="1000" cy="1822.6" r="12.6" fill="none" stroke="#2e2e2e" stroke-width="1.1"/>
<circle cx="1253.9" cy="1751.8" r="12.6" fill="#000000"/><circle cx="1253.9" cy="1751.8" r="12.6" fill="none" stroke="#2e2e2e" stroke-width="1.1"/>
<circle cx="1441.8" cy="1700.3" r="12.6" fill="#1C75D0"/><circle cx="1441.8" cy="1700.3" r="12.6" fill="none" stroke="#2e2e2e" stroke-width="1.1"/>
<circle cx="1261.5" cy="1681" r="12.6" fill="#1C75D0"/><circle cx="1261.5" cy="1681" r="12.6" fill="none" stroke="#2e2e2e" stroke-width="1.1"/>
<circle cx="1569.9" cy="1623.1" r="12.6" fill="#595959"/><circle cx="1569.9" cy="1623.1" r="12.6" fill="none" stroke="#2e2e2e" stroke-width="1.1"/>
<circle cx="1517.7" cy="1603.8" r="12.6" fill="#595959"/><circle cx="1517.7" cy="1603.8" r="12.6" fill="none" stroke="#2e2e2e" stroke-width="1.1"/>
<circle cx="1080.8" cy="1642.4" r="12.6" fill="#000000"/><path d="M1080.8 1642.4L1093.4 1642.4A12.6 12.6 0 0 0 1093.2 1640.2Z" fill="#1C75D0"/><path d="M1080.8 1642.4L1093.2 1640.2A12.6 12.6 0 1 0 1093.4 1642.4Z" fill="#000000"/><path d="M1080.8 1642.4L1091.1 1635.2M1080.8 1642.4L1085.2 1630.6M1080.8 1642.4L1082.3 1629.9M1080.8 1642.4L1074.9 1631.2M1080.8 1642.4L1069.6 1636.5M1080.8 1642.4L1068.6 1639.3M1080.8 1642.4L1069 1646.8M1080.8 1642.4L1073.6 1652.7M1080.8 1642.4L1076.2 1654.1M1080.8 1642.4L1083.7 1654.7M1080.8 1642.4L1086.4 1653.7M1080.8 1642.4L1091.8 1648.5" stroke="#4a4a4a" stroke-width=".6" fill="none"/><path d="M1080.8 1642.4L1093.4 1642.4M1080.8 1642.4L1093.2 1640.2" stroke="#111" stroke-width=".7" fill="none"/><circle cx="1080.8" cy="1642.4" r="12.6" fill="none" stroke="#2e2e2e" stroke-width="1.1"/>
<circle cx="1522.6" cy="1520.1" r="12.6" fill="#00BFFF"/><circle cx="1522.6" cy="1520.1" r="12.6" fill="none" stroke="#2e2e2e" stroke-width="1.1"/>
<circle cx="1471.7" cy="1500.8" r="12.6" fill="#00BFFF"/><circle cx="1471.7" cy="1500.8" r="12.6" fill="none" stroke="#2e2e2e" stroke-width="1.1"/>
<circle cx="1578.5" cy="1442.9" r="12.6" fill="#1C75D0"/><circle cx="1578.5" cy="1442.9" r="12.6" fill="none" stroke="#2e2e2e" stroke-width="1.1"/>
<circle cx="1471.7" cy="1423.6" r="12.6" fill="#595959"/><circle cx="1471.7" cy="1423.6" r="12.6" fill="none" stroke="#2e2e2e" stroke-width="1.1"/>
<circle cx="1422.1" cy="1462.2" r="12.6" fill="#595959"/><path d="M1422.1 1462.2L1434.7 1462.2A12.6 12.6 0 1 0 1434.5 1464.4Z" fill="#595959"/><path d="M1422.1 1462.2L1434.5 1464.4A12.6 12.6 0 0 0 1434.7 1462.2Z" fill="#000000"/><path d="M1422.1 1462.2L1434.7 1462.2M1422.1 1462.2L1434.5 1464.4" stroke="#111" stroke-width=".7" fill="none"/><circle cx="1422.1" cy="1462.2" r="12.6" fill="none" stroke="#2e2e2e" stroke-width="1.1"/>
<circle cx="1355.6" cy="1420.4" r="12.6" fill="#595959"/><path d="M1355.6 1420.4L1368.2 1420.4A12.6 12.6 0 1 0 1368 1422.6Z" fill="#595959"/><path d="M1355.6 1420.4L1368 1422.6A12.6 12.6 0 0 0 1368.2 1420.4Z" fill="#000000"/><path d="M1355.6 1420.4L1368.2 1420.4M1355.6 1420.4L1368 1422.6" stroke="#111" stroke-width=".7" fill="none"/><circle cx="1355.6" cy="1420.4" r="12.6" fill="none" stroke="#2e2e2e" stroke-width="1.1"/>
<circle cx="1418.8" cy="1339.9" r="12.6" fill="#1C75D0"/><circle cx="1418.8" cy="1339.9" r="12.6" fill="none" stroke="#2e2e2e" stroke-width="1.1"/>
<circle cx="1214.9" cy="1320.6" r="12.6" fill="#1C75D0"/><circle cx="1214.9" cy="1320.6" r="12.6" fill="none" stroke="#2e2e2e" stroke-width="1.1"/>
<circle cx="1072.5" cy="1370.5" r="12.6" fill="#595959"/><path d="M1072.5 1370.5L1085.1 1370.5A12.6 12.6 0 0 0 1072.5 1357.9Z" fill="#1C75D0"/><path d="M1072.5 1370.5L1072.5 1357.9A12.6 12.6 0 1 0 1084.3 1374.8Z" fill="#595959"/><path d="M1072.5 1370.5L1084.3 1374.8A12.6 12.6 0 0 0 1085.1 1370.5Z" fill="#000000"/><path d="M1072.5 1370.5L1084.9 1372.8" stroke="#4a4a4a" stroke-width=".6" fill="none"/><path d="M1072.5 1370.5L1085.1 1370.5M1072.5 1370.5L1072.5 1357.9M1072.5 1370.5L1084.3 1374.8" stroke="#111" stroke-width=".7" fill="none"/><circle cx="1072.5" cy="1370.5" r="12.6" fill="none" stroke="#2e2e2e" stroke-width="1.1"/>
<circle cx="986.6" cy="1464.6" r="12.6" fill="#000000"/><path d="M986.6 1464.6L999.2 1464.6A12.6 12.6 0 0 0 992.9 1453.7Z" fill="#00BFFF"/><path d="M986.6 1464.6L992.9 1453.7A12.6 12.6 0 0 0 989.2 1452.3Z" fill="#595959"/><path d="M986.6 1464.6L991.2 1452.9" stroke="#111" stroke-width=".6" fill="none"/><path d="M986.6 1464.6L989.2 1452.3A12.6 12.6 0 0 0 984.4 1452.2Z" fill="#000000"/><path d="M986.6 1464.6L987 1452" stroke="#4a4a4a" stroke-width=".6" fill="none"/><path d="M986.6 1464.6L984.4 1452.2A12.6 12.6 0 0 0 976.9 1456.5Z" fill="#00BFFF"/><path d="M986.6 1464.6L976.9 1456.5A12.6 12.6 0 1 0 999.2 1464.6Z" fill="#000000"/><path d="M986.6 1464.6L974.4 1461.5M986.6 1464.6L974.8 1469.1M986.6 1464.6L976.2 1471.8M986.6 1464.6L982.3 1476.4M986.6 1464.6L989.9 1476.8M986.6 1464.6L992.7 1475.6M986.6 1464.6L998 1470" stroke="#4a4a4a" stroke-width=".6" fill="none"/><path d="M986.6 1464.6L999.2 1464.6M986.6 1464.6L992.9 1453.7M986.6 1464.6L989.2 1452.3M986.6 1464.6L984.4 1452.2M986.6 1464.6L976.9 1456.5" stroke="#111" stroke-width=".7" fill="none"/><circle cx="986.6" cy="1464.6" r="12.6" fill="none" stroke="#2e2e2e" stroke-width="1.1"/>
<circle cx="901.1" cy="1553.5" r="12.6" fill="#000000"/><path d="M901.1 1553.5L913.7 1553.5A12.6 12.6 0 0 0 912.9 1549.2Z" fill="#1C75D0"/><path d="M901.1 1553.5L912.9 1549.2A12.6 12.6 0 0 0 893 1543.8Z" fill="#00BFFF"/><path d="M901.1 1553.5L893 1543.8A12.6 12.6 0 1 0 913.7 1553.5Z" fill="#000000"/><path d="M901.1 1553.5L889.8 1547.9M901.1 1553.5L888.6 1554.9M901.1 1553.5L889.2 1557.7M901.1 1553.5L893.4 1563.5M901.1 1553.5L900 1566.1M901.1 1553.5L902.8 1566M901.1 1553.5L909.3 1563M901.1 1553.5L913.2 1557.1" stroke="#4a4a4a" stroke-width=".6" fill="none"/><path d="M901.1 1553.5L913.7 1553.5M901.1 1553.5L912.9 1549.2M901.1 1553.5L893 1543.8" stroke="#111" stroke-width=".7" fill="none"/><circle cx="901.1" cy="1553.5" r="12.6" fill="none" stroke="#2e2e2e" stroke-width="1.1"/>
<circle cx="851.5" cy="1652.6" r="12.6" fill="#000000"/><path d="M851.5 1652.6L864.1 1652.6A12.6 12.6 0 0 0 863.7 1649.4Z" fill="#FFFF00"/><path d="M851.5 1652.6L863.7 1649.4A12.6 12.6 0 0 0 858.7 1642.3Z" fill="#00BFFF"/><path d="M851.5 1652.6L858.7 1642.3A12.6 12.6 0 1 0 864.1 1652.6Z" fill="#000000"/><path d="M851.5 1652.6L853.5 1640.2M851.5 1652.6L845.9 1641.4M851.5 1652.6L843.4 1643M851.5 1652.6L839.3 1649.6M851.5 1652.6L839.8 1657.3M851.5 1652.6L841.2 1659.9M851.5 1652.6L847.4 1664.6M851.5 1652.6L855.1 1664.7M851.5 1652.6L857.9 1663.5M851.5 1652.6L863 1657.7" stroke="#4a4a4a" stroke-width=".6" fill="none"/><path d="M851.5 1652.6L864.1 1652.6M851.5 1652.6L863.7 1649.4M851.5 1652.6L858.7 1642.3" stroke="#111" stroke-width=".7" fill="none"/><circle cx="851.5" cy="1652.6" r="12.6" fill="none" stroke="#2e2e2e" stroke-width="1.1"/>
<circle cx="816.3" cy="1737.6" r="12.6" fill="#000000"/><path d="M816.3 1737.6L828.9 1737.6A12.6 12.6 0 0 0 828.5 1734.4Z" fill="#FFFF00"/><path d="M816.3 1737.6L828.5 1734.4A12.6 12.6 0 0 0 827.7 1732.3Z" fill="#228B22"/><path d="M816.3 1737.6L827.7 1732.3A12.6 12.6 0 1 0 828.9 1737.6Z" fill="#000000"/><path d="M816.3 1737.6L824.2 1727.8M816.3 1737.6L817 1725M816.3 1737.6L813.9 1725.2M816.3 1737.6L807.1 1729M816.3 1737.6L803.8 1736M816.3 1737.6L803.8 1739M816.3 1737.6L807 1746.1M816.3 1737.6L813.7 1750M816.3 1737.6L816.8 1750.2M816.3 1737.6L824.1 1747.5M816.3 1737.6L826.2 1745.4" stroke="#4a4a4a" stroke-width=".6" fill="none"/><path d="M816.3 1737.6L828.9 1737.6M816.3 1737.6L828.5 1734.4M816.3 1737.6L827.7 1732.3" stroke="#111" stroke-width=".7" fill="none"/><circle cx="816.3" cy="1737.6" r="12.6" fill="none" stroke="#2e2e2e" stroke-width="1.1"/>
<circle cx="781" cy="1802.6" r="12.6" fill="#000000"/><path d="M781 1802.6L793.6 1802.6A12.6 12.6 0 0 0 792.8 1798.3Z" fill="#FFFF00"/><path d="M781 1802.6L792.8 1798.3A12.6 12.6 0 1 0 793.6 1802.6Z" fill="#000000"/><path d="M781 1802.6L790 1793.8M781 1802.6L783.6 1790.3M781 1802.6L780.8 1790M781 1802.6L773.8 1792.3M781 1802.6L769.3 1798M781 1802.6L768.5 1800.7M781 1802.6L769.6 1807.9M781 1802.6L774.4 1813.4M781 1802.6L777 1814.6M781 1802.6L784.3 1814.8M781 1802.6L787 1813.7M781 1802.6L792.1 1808.5" stroke="#4a4a4a" stroke-width=".6" fill="none"/><path d="M781 1802.6L793.6 1802.6M781 1802.6L792.8 1798.3" stroke="#111" stroke-width=".7" fill="none"/><circle cx="781" cy="1802.6" r="12.6" fill="none" stroke="#2e2e2e" stroke-width="1.1"/>
<circle cx="1523.3" cy="1262.7" r="12.6" fill="#595959"/><circle cx="1523.3" cy="1262.7" r="12.6" fill="none" stroke="#2e2e2e" stroke-width="1.1"/>
<circle cx="1549.3" cy="1159.7" r="12.6" fill="#595959"/><circle cx="1549.3" cy="1159.7" r="12.6" fill="none" stroke="#2e2e2e" stroke-width="1.1"/>
<circle cx="1565.9" cy="1108.2" r="12.6" fill="#595959"/><circle cx="1565.9" cy="1108.2" r="12.6" fill="none" stroke="#2e2e2e" stroke-width="1.1"/>
<circle cx="1545.3" cy="1088.9" r="12.6" fill="#595959"/><circle cx="1545.3" cy="1088.9" r="12.6" fill="none" stroke="#2e2e2e" stroke-width="1.1"/>
<circle cx="1506.7" cy="1124.3" r="12.6" fill="#000000"/><path d="M1506.7 1124.3L1519.3 1124.3A12.6 12.6 0 0 0 1513 1113.4Z" fill="#228B22"/><path d="M1506.7 1124.3L1513 1113.4A12.6 12.6 0 1 0 1519.3 1124.3Z" fill="#000000"/><path d="M1506.7 1124.3L1507.7 1111.8M1506.7 1124.3L1500.3 1113.5M1506.7 1124.3L1497.9 1115.3M1506.7 1124.3L1494.3 1121.9M1506.7 1124.3L1495.2 1129.5M1506.7 1124.3L1496.7 1132.1M1506.7 1124.3L1503 1136.4M1506.7 1124.3L1510.6 1136.3M1506.7 1124.3L1513.3 1135.1M1506.7 1124.3L1518.3 1129.3" stroke="#4a4a4a" stroke-width=".6" fill="none"/><path d="M1506.7 1124.3L1519.3 1124.3M1506.7 1124.3L1513 1113.4" stroke="#111" stroke-width=".7" fill="none"/><circle cx="1506.7" cy="1124.3" r="12.6" fill="none" stroke="#2e2e2e" stroke-width="1.1"/>
<circle cx="1485.4" cy="1161.3" r="12.6" fill="#595959"/><circle cx="1485.4" cy="1161.3" r="12.6" fill="none" stroke="#2e2e2e" stroke-width="1.1"/>
<circle cx="1334" cy="1192.7" r="12.6" fill="#000000"/><path d="M1334 1192.7L1346.6 1192.7A12.6 12.6 0 0 0 1327.7 1181.8Z" fill="#BEBEBE"/><path d="M1334 1192.7L1327.7 1181.8A12.6 12.6 0 0 0 1325.9 1183.1Z" fill="#FFFF00"/><path d="M1334 1192.7L1325.9 1183.1A12.6 12.6 0 1 0 1346.6 1192.7Z" fill="#000000"/><path d="M1334 1192.7L1322.7 1187.1M1334 1192.7L1321.5 1194.2M1334 1192.7L1322.1 1196.9M1334 1192.7L1326.3 1202.7M1334 1192.7L1332.9 1205.3M1334 1192.7L1335.7 1205.2M1334 1192.7L1342.2 1202.3M1334 1192.7L1346.1 1196.3" stroke="#4a4a4a" stroke-width=".6" fill="none"/><path d="M1334 1192.7L1346.6 1192.7M1334 1192.7L1327.7 1181.8M1334 1192.7L1325.9 1183.1" stroke="#111" stroke-width=".7" fill="none"/><circle cx="1334" cy="1192.7" r="12.6" fill="none" stroke="#2e2e2e" stroke-width="1.1"/>
<circle cx="1536" cy="1031" r="12.6" fill="#595959"/><circle cx="1536" cy="1031" r="12.6" fill="none" stroke="#2e2e2e" stroke-width="1.1"/>
<circle cx="1179.6" cy="1111.9" r="12.6" fill="#BEBEBE"/><path d="M1179.6 1111.9L1192.2 1111.9A12.6 12.6 0 0 0 1189.3 1103.8Z" fill="#FFFF00"/><path d="M1179.6 1111.9L1189.3 1103.8A12.6 12.6 0 0 0 1167.2 1109.7Z" fill="#BEBEBE"/><path d="M1179.6 1111.9L1167.2 1109.7A12.6 12.6 0 0 0 1176.4 1124.1Z" fill="#595959"/><path d="M1179.6 1111.9L1167.2 1114M1179.6 1111.9L1169.6 1119.5M1179.6 1111.9L1171.2 1121.2" stroke="#111" stroke-width=".6" fill="none"/><path d="M1179.6 1111.9L1176.4 1124.1A12.6 12.6 0 0 0 1192.2 1111.9Z" fill="#000000"/><path d="M1179.6 1111.9L1181.7 1124.3M1179.6 1111.9L1188.2 1121M1179.6 1111.9L1190.1 1118.8" stroke="#4a4a4a" stroke-width=".6" fill="none"/><path d="M1179.6 1111.9L1192.2 1111.9M1179.6 1111.9L1189.3 1103.8M1179.6 1111.9L1167.2 1109.7M1179.6 1111.9L1176.4 1124.1" stroke="#111" stroke-width=".7" fill="none"/><circle cx="1179.6" cy="1111.9" r="12.6" fill="none" stroke="#2e2e2e" stroke-width="1.1"/>
<circle cx="1473.4" cy="979.5" r="12.6" fill="#595959"/><circle cx="1473.4" cy="979.5" r="12.6" fill="none" stroke="#2e2e2e" stroke-width="1.1"/>
<circle cx="1394.5" cy="928" r="12.6" fill="#595959"/><circle cx="1394.5" cy="928" r="12.6" fill="none" stroke="#2e2e2e" stroke-width="1.1"/>
<circle cx="1168.3" cy="953.8" r="12.6" fill="#BEBEBE"/><path d="M1168.3 953.8L1180.9 953.8A12.6 12.6 0 0 0 1156.5 949.5Z" fill="#BEBEBE"/><path d="M1168.3 953.8L1156.5 949.5A12.6 12.6 0 0 0 1164 965.6Z" fill="#595959"/><path d="M1168.3 953.8L1155.7 954M1168.3 953.8L1157.4 960.1M1168.3 953.8L1158.8 962.1" stroke="#111" stroke-width=".6" fill="none"/><path d="M1168.3 953.8L1164 965.6A12.6 12.6 0 0 0 1180.9 953.8Z" fill="#000000"/><path d="M1168.3 953.8L1169.5 966.3M1168.3 953.8L1176.5 963.3M1168.3 953.8L1178.6 961.1" stroke="#4a4a4a" stroke-width=".6" fill="none"/><path d="M1168.3 953.8L1180.9 953.8M1168.3 953.8L1156.5 949.5M1168.3 953.8L1164 965.6" stroke="#111" stroke-width=".7" fill="none"/><circle cx="1168.3" cy="953.8" r="12.6" fill="none" stroke="#2e2e2e" stroke-width="1.1"/>
<circle cx="1420.1" cy="799.3" r="12.6" fill="#595959"/><circle cx="1420.1" cy="799.3" r="12.6" fill="none" stroke="#2e2e2e" stroke-width="1.1"/>
<circle cx="1307.1" cy="818.6" r="12.6" fill="#000000"/><path d="M1307.1 818.6L1319.7 818.6A12.6 12.6 0 0 0 1300.8 807.7Z" fill="#BEBEBE"/><path d="M1307.1 818.6L1300.8 807.7A12.6 12.6 0 1 0 1319.7 818.6Z" fill="#000000"/><path d="M1307.1 818.6L1296.8 811.4M1307.1 818.6L1294.5 818.4M1307.1 818.6L1294.8 821.3M1307.1 818.6L1298.5 827.8M1307.1 818.6L1305.1 831.1M1307.1 818.6L1308 831.2M1307.1 818.6L1315 828.5M1307.1 818.6L1319.1 822.4" stroke="#4a4a4a" stroke-width=".6" fill="none"/><path d="M1307.1 818.6L1319.7 818.6M1307.1 818.6L1300.8 807.7" stroke="#111" stroke-width=".7" fill="none"/><circle cx="1307.1" cy="818.6" r="12.6" fill="none" stroke="#2e2e2e" stroke-width="1.1"/>
<circle cx="1222.2" cy="841.2" r="12.6" fill="#BEBEBE"/><path d="M1222.2 841.2L1234.8 841.2A12.6 12.6 0 0 0 1231.9 833.1Z" fill="#FFFF00"/><path d="M1222.2 841.2L1231.9 833.1A12.6 12.6 0 1 0 1215.9 852.1Z" fill="#BEBEBE"/><path d="M1222.2 841.2L1215.9 852.1A12.6 12.6 0 0 0 1227.3 852.7Z" fill="#595959"/><path d="M1222.2 841.2L1221.1 853.7" stroke="#111" stroke-width=".6" fill="none"/><path d="M1222.2 841.2L1227.3 852.7A12.6 12.6 0 0 0 1234.8 841.2Z" fill="#000000"/><path d="M1222.2 841.2L1231 850.2M1222.2 841.2L1234.2 844.9" stroke="#4a4a4a" stroke-width=".6" fill="none"/><path d="M1222.2 841.2L1234.8 841.2M1222.2 841.2L1231.9 833.1M1222.2 841.2L1215.9 852.1M1222.2 841.2L1227.3 852.7" stroke="#111" stroke-width=".7" fill="none"/><circle cx="1222.2" cy="841.2" r="12.6" fill="none" stroke="#2e2e2e" stroke-width="1.1"/>
<circle cx="1159.7" cy="865.3" r="12.6" fill="#BEBEBE"/><path d="M1159.7 865.3L1172.3 865.3A12.6 12.6 0 0 0 1169.4 857.2Z" fill="#FFFF00"/><path d="M1159.7 865.3L1169.4 857.2A12.6 12.6 0 1 0 1153.4 876.2Z" fill="#BEBEBE"/><path d="M1159.7 865.3L1153.4 876.2A12.6 12.6 0 0 0 1164.8 876.8Z" fill="#595959"/><path d="M1159.7 865.3L1158.6 877.9" stroke="#111" stroke-width=".6" fill="none"/><path d="M1159.7 865.3L1164.8 876.8A12.6 12.6 0 0 0 1172.3 865.3Z" fill="#000000"/><path d="M1159.7 865.3L1168.5 874.3M1159.7 865.3L1171.7 869" stroke="#4a4a4a" stroke-width=".6" fill="none"/><path d="M1159.7 865.3L1172.3 865.3M1159.7 865.3L1169.4 857.2M1159.7 865.3L1153.4 876.2M1159.7 865.3L1164.8 876.8" stroke="#111" stroke-width=".7" fill="none"/><circle cx="1159.7" cy="865.3" r="12.6" fill="none" stroke="#2e2e2e" stroke-width="1.1"/>
<circle cx="1110.8" cy="909.5" r="12.6" fill="#BEBEBE"/><path d="M1110.8 909.5L1123.4 909.5A12.6 12.6 0 0 0 1121.7 903.2Z" fill="#FFFF00"/><path d="M1110.8 909.5L1121.7 903.2A12.6 12.6 0 1 0 1108.6 922Z" fill="#BEBEBE"/><path d="M1110.8 909.5L1108.6 922A12.6 12.6 0 0 0 1118 919.9Z" fill="#595959"/><path d="M1110.8 909.5L1113.2 921.9" stroke="#111" stroke-width=".6" fill="none"/><path d="M1110.8 909.5L1118 919.9A12.6 12.6 0 0 0 1123.4 909.5Z" fill="#000000"/><path d="M1110.8 909.5L1121.8 915.7" stroke="#4a4a4a" stroke-width=".6" fill="none"/><path d="M1110.8 909.5L1123.4 909.5M1110.8 909.5L1121.7 903.2M1110.8 909.5L1108.6 922M1110.8 909.5L1118 919.9" stroke="#111" stroke-width=".7" fill="none"/><circle cx="1110.8" cy="909.5" r="12.6" fill="none" stroke="#2e2e2e" stroke-width="1.1"/>
<circle cx="1024.9" cy="1010.7" r="12.6" fill="#BEBEBE"/><path d="M1024.9 1010.7L1037.5 1010.7A12.6 12.6 0 0 0 1029.2 998.9Z" fill="#FFFF00"/><path d="M1024.9 1010.7L1029.2 998.9A12.6 12.6 0 1 0 1027.1 1023.1Z" fill="#BEBEBE"/><path d="M1024.9 1010.7L1027.1 1023.1A12.6 12.6 0 0 0 1034 1019.5Z" fill="#595959"/><path d="M1024.9 1010.7L1030.6 1022" stroke="#111" stroke-width=".6" fill="none"/><path d="M1024.9 1010.7L1034 1019.5A12.6 12.6 0 0 0 1037.5 1010.7Z" fill="#000000"/><path d="M1024.9 1010.7L1036.4 1015.7" stroke="#4a4a4a" stroke-width=".6" fill="none"/><path d="M1024.9 1010.7L1037.5 1010.7M1024.9 1010.7L1029.2 998.9M1024.9 1010.7L1027.1 1023.1M1024.9 1010.7L1034 1019.5" stroke="#111" stroke-width=".7" fill="none"/><circle cx="1024.9" cy="1010.7" r="12.6" fill="none" stroke="#2e2e2e" stroke-width="1.1"/>
<circle cx="1343.9" cy="747.9" r="12.6" fill="#595959"/><circle cx="1343.9" cy="747.9" r="12.6" fill="none" stroke="#2e2e2e" stroke-width="1.1"/>
<circle cx="1530.3" cy="644.9" r="12.6" fill="#BEBEBE"/><circle cx="1530.3" cy="644.9" r="12.6" fill="none" stroke="#2e2e2e" stroke-width="1.1"/>
<circle cx="1438.4" cy="664.2" r="12.6" fill="#595959"/><circle cx="1438.4" cy="664.2" r="12.6" fill="none" stroke="#2e2e2e" stroke-width="1.1"/>
<circle cx="1255.5" cy="686.7" r="12.6" fill="#BEBEBE"/><path d="M1255.5 686.7L1268.1 686.7A12.6 12.6 0 0 0 1261.8 675.8Z" fill="#FFFF00"/><path d="M1255.5 686.7L1261.8 675.8A12.6 12.6 0 0 0 1242.9 686.7Z" fill="#BEBEBE"/><path d="M1255.5 686.7L1242.9 686.7A12.6 12.6 0 0 0 1253.5 699.2Z" fill="#595959"/><path d="M1255.5 686.7L1244.1 692.1M1255.5 686.7L1249.2 697.6" stroke="#111" stroke-width=".6" fill="none"/><path d="M1255.5 686.7L1253.5 699.2A12.6 12.6 0 0 0 1268.1 686.7Z" fill="#000000"/><path d="M1255.5 686.7L1258.5 698.9M1255.5 686.7L1264.5 695.5M1255.5 686.7L1266.2 693.4" stroke="#4a4a4a" stroke-width=".6" fill="none"/><path d="M1255.5 686.7L1268.1 686.7M1255.5 686.7L1261.8 675.8M1255.5 686.7L1242.9 686.7M1255.5 686.7L1253.5 699.2" stroke="#111" stroke-width=".7" fill="none"/><circle cx="1255.5" cy="686.7" r="12.6" fill="none" stroke="#2e2e2e" stroke-width="1.1"/>
<circle cx="1227.2" cy="717.3" r="12.6" fill="#BEBEBE"/><path d="M1227.2 717.3L1239.8 717.3A12.6 12.6 0 0 0 1238.4 711.6Z" fill="#595959"/><path d="M1227.2 717.3L1239.5 714.6" stroke="#111" stroke-width=".6" fill="none"/><path d="M1227.2 717.3L1238.4 711.6A12.6 12.6 0 0 0 1233.5 706.4Z" fill="#000000"/><path d="M1227.2 717.3L1236.5 708.8" stroke="#4a4a4a" stroke-width=".6" fill="none"/><path d="M1227.2 717.3L1233.5 706.4A12.6 12.6 0 0 0 1214.6 717.3Z" fill="#BEBEBE"/><path d="M1227.2 717.3L1214.6 717.3A12.6 12.6 0 0 0 1225.2 729.7Z" fill="#595959"/><path d="M1227.2 717.3L1215.8 722.6M1227.2 717.3L1220.9 728.2" stroke="#111" stroke-width=".6" fill="none"/><path d="M1227.2 717.3L1225.2 729.7A12.6 12.6 0 0 0 1239.8 717.3Z" fill="#000000"/><path d="M1227.2 717.3L1230.2 729.5M1227.2 717.3L1236.2 726.1M1227.2 717.3L1237.9 723.9" stroke="#4a4a4a" stroke-width=".6" fill="none"/><path d="M1227.2 717.3L1239.8 717.3M1227.2 717.3L1238.4 711.6M1227.2 717.3L1233.5 706.4M1227.2 717.3L1214.6 717.3M1227.2 717.3L1225.2 729.7" stroke="#111" stroke-width=".7" fill="none"/><circle cx="1227.2" cy="717.3" r="12.6" fill="none" stroke="#2e2e2e" stroke-width="1.1"/>
<circle cx="1092.5" cy="661.8" r="12.6" fill="#BEBEBE"/><path d="M1092.5 661.8L1105.1 661.8A12.6 12.6 0 0 0 1095.8 649.6Z" fill="#FFFF00"/><path d="M1092.5 661.8L1095.8 649.6A12.6 12.6 0 0 0 1088.2 673.6Z" fill="#BEBEBE"/><path d="M1092.5 661.8L1088.2 673.6A12.6 12.6 0 0 0 1098.7 672.7Z" fill="#595959"/><path d="M1092.5 661.8L1093.2 674.4" stroke="#111" stroke-width=".6" fill="none"/><path d="M1092.5 661.8L1098.7 672.7A12.6 12.6 0 0 0 1105.1 661.8Z" fill="#000000"/><path d="M1092.5 661.8L1101.9 670.2M1092.5 661.8L1104.6 665.2" stroke="#4a4a4a" stroke-width=".6" fill="none"/><path d="M1092.5 661.8L1105.1 661.8M1092.5 661.8L1095.8 649.6M1092.5 661.8L1088.2 673.6M1092.5 661.8L1098.7 672.7" stroke="#111" stroke-width=".7" fill="none"/><circle cx="1092.5" cy="661.8" r="12.6" fill="none" stroke="#2e2e2e" stroke-width="1.1"/>
<circle cx="986" cy="836.2" r="12.6" fill="#BEBEBE"/><path d="M986 836.2L998.6 836.2A12.6 12.6 0 0 0 990.3 824.4Z" fill="#FFFF00"/><path d="M986 836.2L990.3 824.4A12.6 12.6 0 1 0 988.2 848.7Z" fill="#BEBEBE"/><path d="M986 836.2L988.2 848.7A12.6 12.6 0 0 0 995.1 845Z" fill="#595959"/><path d="M986 836.2L991.7 847.5" stroke="#111" stroke-width=".6" fill="none"/><path d="M986 836.2L995.1 845A12.6 12.6 0 0 0 998.6 836.2Z" fill="#000000"/><path d="M986 836.2L997.5 841.3" stroke="#4a4a4a" stroke-width=".6" fill="none"/><path d="M986 836.2L998.6 836.2M986 836.2L990.3 824.4M986 836.2L988.2 848.7M986 836.2L995.1 845" stroke="#111" stroke-width=".7" fill="none"/><circle cx="986" cy="836.2" r="12.6" fill="none" stroke="#2e2e2e" stroke-width="1.1"/>
<circle cx="928.7" cy="708.4" r="12.6" fill="#BEBEBE"/><path d="M928.7 708.4L941.3 708.4A12.6 12.6 0 0 0 930.9 696Z" fill="#FFFF00"/><path d="M928.7 708.4L930.9 696A12.6 12.6 0 0 0 929.8 695.8Z" fill="#00BFFF"/><path d="M928.7 708.4L929.8 695.8A12.6 12.6 0 1 0 928.7 721Z" fill="#BEBEBE"/><path d="M928.7 708.4L928.7 721A12.6 12.6 0 0 0 936.9 718Z" fill="#595959"/><path d="M928.7 708.4L932.8 720.3" stroke="#111" stroke-width=".6" fill="none"/><path d="M928.7 708.4L936.9 718A12.6 12.6 0 0 0 941.3 708.4Z" fill="#000000"/><path d="M928.7 708.4L940 714" stroke="#4a4a4a" stroke-width=".6" fill="none"/><path d="M928.7 708.4L941.3 708.4M928.7 708.4L930.9 696M928.7 708.4L929.8 695.8M928.7 708.4L928.7 721M928.7 708.4L936.9 718" stroke="#111" stroke-width=".7" fill="none"/><circle cx="928.7" cy="708.4" r="12.6" fill="none" stroke="#2e2e2e" stroke-width="1.1"/>
<circle cx="1576.9" cy="541.9" r="12.6" fill="#595959"/><circle cx="1576.9" cy="541.9" r="12.6" fill="none" stroke="#2e2e2e" stroke-width="1.1"/>
<circle cx="1243.9" cy="522.6" r="12.6" fill="#000000"/><circle cx="1243.9" cy="522.6" r="12.6" fill="none" stroke="#2e2e2e" stroke-width="1.1"/>
<circle cx="1573.2" cy="413.2" r="12.6" fill="#00BFFF"/><circle cx="1573.2" cy="413.2" r="12.6" fill="none" stroke="#2e2e2e" stroke-width="1.1"/>
<circle cx="1573.2" cy="361.7" r="12.6" fill="#BEBEBE"/><circle cx="1573.2" cy="361.7" r="12.6" fill="none" stroke="#2e2e2e" stroke-width="1.1"/>
<circle cx="1621.5" cy="284.5" r="12.6" fill="#228B22"/><circle cx="1621.5" cy="284.5" r="12.6" fill="none" stroke="#2e2e2e" stroke-width="1.1"/>
<circle cx="1401.2" cy="303.8" r="12.6" fill="#595959"/><circle cx="1401.2" cy="303.8" r="12.6" fill="none" stroke="#2e2e2e" stroke-width="1.1"/>
<circle cx="1524.3" cy="207.3" r="12.6" fill="#595959"/><circle cx="1524.3" cy="207.3" r="12.6" fill="none" stroke="#2e2e2e" stroke-width="1.1"/>
<circle cx="1495.4" cy="226.6" r="12.6" fill="#595959"/><circle cx="1495.4" cy="226.6" r="12.6" fill="none" stroke="#2e2e2e" stroke-width="1.1"/>
<circle cx="1621.5" cy="155.8" r="12.6" fill="#595959"/><circle cx="1621.5" cy="155.8" r="12.6" fill="none" stroke="#2e2e2e" stroke-width="1.1"/>
<circle cx="1412.2" cy="191.2" r="12.6" fill="#000000"/><path d="M1412.2 191.2L1424.8 191.2A12.6 12.6 0 0 0 1424.6 189Z" fill="#000000"/><path d="M1412.2 191.2L1424.6 189A12.6 12.6 0 0 0 1424.2 187.3Z" fill="#FFFF00"/><path d="M1412.2 191.2L1424.2 187.3A12.6 12.6 0 1 0 1424.8 191.2Z" fill="#000000"/><path d="M1412.2 191.2L1421.5 182.7M1412.2 191.2L1415.2 178.9M1412.2 191.2L1412.3 178.6M1412.2 191.2L1405.3 180.6M1412.2 191.2L1400.6 186.3M1412.2 191.2L1399.8 189M1412.2 191.2L1400.7 196.3M1412.2 191.2L1405.5 201.9M1412.2 191.2L1408.1 203.1M1412.2 191.2L1415.4 203.4M1412.2 191.2L1418.1 202.3M1412.2 191.2L1423.3 197.1" stroke="#4a4a4a" stroke-width=".6" fill="none"/><path d="M1412.2 191.2L1424.8 191.2M1412.2 191.2L1424.6 189M1412.2 191.2L1424.2 187.3" stroke="#111" stroke-width=".7" fill="none"/><circle cx="1412.2" cy="191.2" r="12.6" fill="none" stroke="#2e2e2e" stroke-width="1.1"/>
<circle cx="1266.5" cy="247.5" r="12.6" fill="#BEBEBE"/><path d="M1266.5 247.5L1279.1 247.5A12.6 12.6 0 0 0 1278.3 243.2Z" fill="#228B22"/><path d="M1266.5 247.5L1278.3 243.2A12.6 12.6 0 0 0 1276.2 239.4Z" fill="#FFFF00"/><path d="M1266.5 247.5L1276.2 239.4A12.6 12.6 0 0 0 1254.1 249.7Z" fill="#BEBEBE"/><path d="M1266.5 247.5L1254.1 249.7A12.6 12.6 0 0 0 1265.7 260.1Z" fill="#595959"/><path d="M1266.5 247.5L1256 254.5M1266.5 247.5L1261.5 259" stroke="#111" stroke-width=".6" fill="none"/><path d="M1266.5 247.5L1265.7 260.1A12.6 12.6 0 0 0 1279.1 247.5Z" fill="#000000"/><path d="M1266.5 247.5L1270.4 259.5M1266.5 247.5L1275.9 255.9M1266.5 247.5L1277.4 253.8" stroke="#4a4a4a" stroke-width=".6" fill="none"/><path d="M1266.5 247.5L1279.1 247.5M1266.5 247.5L1278.3 243.2M1266.5 247.5L1276.2 239.4M1266.5 247.5L1254.1 249.7M1266.5 247.5L1265.7 260.1" stroke="#111" stroke-width=".7" fill="none"/><circle cx="1266.5" cy="247.5" r="12.6" fill="none" stroke="#2e2e2e" stroke-width="1.1"/>
<circle cx="1252.2" cy="304.6" r="12.6" fill="#000000"/><path d="M1252.2 304.6L1264.8 304.6A12.6 12.6 0 0 0 1241.3 298.3Z" fill="#BEBEBE"/><path d="M1252.2 304.6L1241.3 298.3A12.6 12.6 0 1 0 1264.8 304.6Z" fill="#000000"/><path d="M1252.2 304.6L1239.7 303.4M1252.2 304.6L1241.1 310.5M1252.2 304.6L1242.7 312.9M1252.2 304.6L1248.9 316.8M1252.2 304.6L1256.3 316.5M1252.2 304.6L1258.9 315.3M1252.2 304.6L1263.7 309.8" stroke="#4a4a4a" stroke-width=".6" fill="none"/><path d="M1252.2 304.6L1264.8 304.6M1252.2 304.6L1241.3 298.3" stroke="#111" stroke-width=".7" fill="none"/><circle cx="1252.2" cy="304.6" r="12.6" fill="none" stroke="#2e2e2e" stroke-width="1.1"/>
<circle cx="1237.2" cy="358.9" r="12.6" fill="#BEBEBE"/><path d="M1237.2 358.9L1249.8 358.9A12.6 12.6 0 0 0 1224.6 358.9Z" fill="#BEBEBE"/><path d="M1237.2 358.9L1224.6 358.9A12.6 12.6 0 0 0 1235.2 371.4Z" fill="#595959"/><path d="M1237.2 358.9L1225.8 364.2M1237.2 358.9L1230.9 369.8" stroke="#111" stroke-width=".6" fill="none"/><path d="M1237.2 358.9L1235.2 371.4A12.6 12.6 0 0 0 1249.8 358.9Z" fill="#000000"/><path d="M1237.2 358.9L1240.2 371.1M1237.2 358.9L1246.2 367.7M1237.2 358.9L1247.9 365.6" stroke="#4a4a4a" stroke-width=".6" fill="none"/><path d="M1237.2 358.9L1249.8 358.9M1237.2 358.9L1224.6 358.9M1237.2 358.9L1235.2 371.4" stroke="#111" stroke-width=".7" fill="none"/><circle cx="1237.2" cy="358.9" r="12.6" fill="none" stroke="#2e2e2e" stroke-width="1.1"/>
<circle cx="1202.3" cy="405.4" r="12.6" fill="#000000"/><path d="M1202.3 405.4L1214.9 405.4A12.6 12.6 0 0 0 1191.4 399.1Z" fill="#BEBEBE"/><path d="M1202.3 405.4L1191.4 399.1A12.6 12.6 0 1 0 1214.9 405.4Z" fill="#000000"/><path d="M1202.3 405.4L1189.8 404.1M1202.3 405.4L1191.2 411.3M1202.3 405.4L1192.8 413.7M1202.3 405.4L1199 417.5M1202.3 405.4L1206.4 417.3M1202.3 405.4L1209 416.1M1202.3 405.4L1213.8 410.6" stroke="#4a4a4a" stroke-width=".6" fill="none"/><path d="M1202.3 405.4L1214.9 405.4M1202.3 405.4L1191.4 399.1" stroke="#111" stroke-width=".7" fill="none"/><circle cx="1202.3" cy="405.4" r="12.6" fill="none" stroke="#2e2e2e" stroke-width="1.1"/>
<circle cx="1542.9" cy="78.6" r="12.6" fill="#BEBEBE"/><path d="M1542.9 78.6L1555.5 78.6A12.6 12.6 0 1 0 1531.1 82.9Z" fill="#BEBEBE"/><path d="M1542.9 78.6L1531.1 82.9A12.6 12.6 0 0 0 1555.5 78.6Z" fill="#FFA500"/><path d="M1542.9 78.6L1555.5 78.6M1542.9 78.6L1531.1 82.9" stroke="#111" stroke-width=".7" fill="none"/><circle cx="1542.9" cy="78.6" r="12.6" fill="none" stroke="#2e2e2e" stroke-width="1.1"/>
<circle cx="1464.4" cy="97.9" r="12.6" fill="#FFA500"/><circle cx="1464.4" cy="97.9" r="12.6" fill="none" stroke="#2e2e2e" stroke-width="1.1"/>
<circle cx="1412.2" cy="68.9" r="12.6" fill="#FFA500"/><path d="M1412.2 68.9L1424.8 68.9A12.6 12.6 0 1 0 1400 72.2Z" fill="#FFA500"/><path d="M1412.2 68.9L1400 72.2A12.6 12.6 0 0 0 1424.8 68.9Z" fill="#595959"/><path d="M1412.2 68.9L1424.8 68.9M1412.2 68.9L1400 72.2" stroke="#111" stroke-width=".7" fill="none"/><circle cx="1412.2" cy="68.9" r="12.6" fill="none" stroke="#2e2e2e" stroke-width="1.1"/>
<circle cx="1202.3" cy="237.1" r="12.6" fill="#000000"/><path d="M1202.3 237.1L1214.9 237.1A12.6 12.6 0 0 0 1213.7 231.8Z" fill="#FFFF00"/><path d="M1202.3 237.1L1213.7 231.8A12.6 12.6 0 0 0 1193.4 228.2Z" fill="#BEBEBE"/><path d="M1202.3 237.1L1193.4 228.2A12.6 12.6 0 1 0 1214.9 237.1Z" fill="#000000"/><path d="M1202.3 237.1L1190.6 232.5M1202.3 237.1L1189.9 239.4M1202.3 237.1L1190.7 242M1202.3 237.1L1195.1 247.5M1202.3 237.1L1201.7 249.7M1202.3 237.1L1204.4 249.6M1202.3 237.1L1210.7 246.5M1202.3 237.1L1214.4 240.6" stroke="#4a4a4a" stroke-width=".6" fill="none"/><path d="M1202.3 237.1L1214.9 237.1M1202.3 237.1L1213.7 231.8M1202.3 237.1L1193.4 228.2" stroke="#111" stroke-width=".7" fill="none"/><circle cx="1202.3" cy="237.1" r="12.6" fill="none" stroke="#2e2e2e" stroke-width="1.1"/>
<circle cx="1105.1" cy="357.4" r="12.6" fill="#BEBEBE"/><path d="M1105.1 357.4L1117.7 357.4A12.6 12.6 0 0 0 1111.4 346.4Z" fill="#FFFF00"/><path d="M1105.1 357.4L1111.4 346.4A12.6 12.6 0 0 0 1097 367Z" fill="#BEBEBE"/><path d="M1105.1 357.4L1097 367A12.6 12.6 0 0 0 1109.1 369.3Z" fill="#595959"/><path d="M1105.1 357.4L1100.4 369M1105.1 357.4L1105.8 369.9" stroke="#111" stroke-width=".6" fill="none"/><path d="M1105.1 357.4L1109.1 369.3A12.6 12.6 0 0 0 1117.7 357.4Z" fill="#000000"/><path d="M1105.1 357.4L1113.3 366.9M1105.1 357.4L1117 361.4" stroke="#4a4a4a" stroke-width=".6" fill="none"/><path d="M1105.1 357.4L1117.7 357.4M1105.1 357.4L1111.4 346.4M1105.1 357.4L1097 367M1105.1 357.4L1109.1 369.3" stroke="#111" stroke-width=".7" fill="none"/><circle cx="1105.1" cy="357.4" r="12.6" fill="none" stroke="#2e2e2e" stroke-width="1.1"/>
<circle cx="911.8" cy="440" r="12.6" fill="#BEBEBE"/><path d="M911.8 440L924.4 440A12.6 12.6 0 0 0 914 427.6Z" fill="#FFFF00"/><path d="M911.8 440L914 427.6A12.6 12.6 0 0 0 912.2 427.4Z" fill="#00BFFF"/><path d="M911.8 440L912.2 427.4A12.6 12.6 0 0 0 911.4 452.6Z" fill="#BEBEBE"/><path d="M911.8 440L911.4 452.6A12.6 12.6 0 0 0 919.8 449.7Z" fill="#595959"/><path d="M911.8 440L915.5 452" stroke="#111" stroke-width=".6" fill="none"/><path d="M911.8 440L919.8 449.7A12.6 12.6 0 0 0 924.4 440Z" fill="#000000"/><path d="M911.8 440L923 445.7" stroke="#4a4a4a" stroke-width=".6" fill="none"/><path d="M911.8 440L924.4 440M911.8 440L914 427.6M911.8 440L912.2 427.4M911.8 440L911.4 452.6M911.8 440L919.8 449.7" stroke="#111" stroke-width=".7" fill="none"/><circle cx="911.8" cy="440" r="12.6" fill="none" stroke="#2e2e2e" stroke-width="1.1"/>
<circle cx="827.2" cy="574.2" r="12.6" fill="#BEBEBE"/><path d="M827.2 574.2L839.8 574.2A12.6 12.6 0 0 0 828.3 561.6Z" fill="#FFFF00"/><path d="M827.2 574.2L828.3 561.6A12.6 12.6 0 0 0 827.2 561.6Z" fill="#00BFFF"/><path d="M827.2 574.2L827.2 561.6A12.6 12.6 0 0 0 827.2 586.8Z" fill="#BEBEBE"/><path d="M827.2 574.2L827.2 586.8A12.6 12.6 0 0 0 835.4 583.8Z" fill="#595959"/><path d="M827.2 574.2L831.3 586.1" stroke="#111" stroke-width=".6" fill="none"/><path d="M827.2 574.2L835.4 583.8A12.6 12.6 0 0 0 839.8 574.2Z" fill="#000000"/><path d="M827.2 574.2L838.5 579.8" stroke="#4a4a4a" stroke-width=".6" fill="none"/><path d="M827.2 574.2L839.8 574.2M827.2 574.2L828.3 561.6M827.2 574.2L827.2 561.6M827.2 574.2L827.2 586.8M827.2 574.2L835.4 583.8" stroke="#111" stroke-width=".7" fill="none"/><circle cx="827.2" cy="574.2" r="12.6" fill="none" stroke="#2e2e2e" stroke-width="1.1"/>
<circle cx="753.1" cy="918.4" r="12.6" fill="#BEBEBE"/><path d="M753.1 918.4L765.7 918.4A12.6 12.6 0 0 0 755.3 906Z" fill="#FFFF00"/><path d="M753.1 918.4L755.3 906A12.6 12.6 0 0 0 753.1 905.8Z" fill="#00BFFF"/><path d="M753.1 918.4L753.1 905.8A12.6 12.6 0 0 0 753.1 931Z" fill="#BEBEBE"/><path d="M753.1 918.4L753.1 931A12.6 12.6 0 0 0 761.3 928Z" fill="#595959"/><path d="M753.1 918.4L757.2 930.4" stroke="#111" stroke-width=".6" fill="none"/><path d="M753.1 918.4L761.3 928A12.6 12.6 0 0 0 765.7 918.4Z" fill="#000000"/><path d="M753.1 918.4L764.4 924.1" stroke="#4a4a4a" stroke-width=".6" fill="none"/><path d="M753.1 918.4L765.7 918.4M753.1 918.4L755.3 906M753.1 918.4L753.1 905.8M753.1 918.4L753.1 931M753.1 918.4L761.3 928" stroke="#111" stroke-width=".7" fill="none"/><circle cx="753.1" cy="918.4" r="12.6" fill="none" stroke="#2e2e2e" stroke-width="1.1"/>
<circle cx="691.8" cy="1360.5" r="12.6" fill="#000000"/><path d="M691.8 1360.5L704.4 1360.5A12.6 12.6 0 0 0 702.7 1354.2Z" fill="#FFFF00"/><path d="M691.8 1360.5L702.7 1354.2A12.6 12.6 0 0 0 701.5 1352.4Z" fill="#BEBEBE"/><path d="M691.8 1360.5L701.5 1352.4A12.6 12.6 0 1 0 704.4 1360.5Z" fill="#000000"/><path d="M691.8 1360.5L697.2 1349.1M691.8 1360.5L689.8 1348.1M691.8 1360.5L687 1348.9M691.8 1360.5L681.3 1353.6M691.8 1360.5L679.2 1360.7M691.8 1360.5L679.6 1363.6M691.8 1360.5L683.5 1370M691.8 1360.5L690.2 1373M691.8 1360.5L693.2 1373.1M691.8 1360.5L700 1370.1M691.8 1360.5L702 1368" stroke="#4a4a4a" stroke-width=".6" fill="none"/><path d="M691.8 1360.5L704.4 1360.5M691.8 1360.5L702.7 1354.2M691.8 1360.5L701.5 1352.4" stroke="#111" stroke-width=".7" fill="none"/><circle cx="691.8" cy="1360.5" r="12.6" fill="none" stroke="#2e2e2e" stroke-width="1.1"/>
<circle cx="559.4" cy="1678.8" r="12.6" fill="#000000"/><path d="M559.4 1678.8L572 1678.8A12.6 12.6 0 0 0 571.2 1674.5Z" fill="#FFFF00"/><path d="M559.4 1678.8L571.2 1674.5A12.6 12.6 0 0 0 569.1 1670.7Z" fill="#00BFFF"/><path d="M559.4 1678.8L569.1 1670.7A12.6 12.6 0 1 0 572 1678.8Z" fill="#000000"/><path d="M559.4 1678.8L564.8 1667.4M559.4 1678.8L557.4 1666.4M559.4 1678.8L554.6 1667.2M559.4 1678.8L548.9 1671.9M559.4 1678.8L546.8 1679M559.4 1678.8L547.2 1681.9M559.4 1678.8L551.1 1688.3M559.4 1678.8L557.8 1691.3M559.4 1678.8L560.8 1691.4M559.4 1678.8L567.6 1688.4M559.4 1678.8L569.6 1686.3" stroke="#4a4a4a" stroke-width=".6" fill="none"/><path d="M559.4 1678.8L572 1678.8M559.4 1678.8L571.2 1674.5M559.4 1678.8L569.1 1670.7" stroke="#111" stroke-width=".7" fill="none"/><circle cx="559.4" cy="1678.8" r="12.6" fill="none" stroke="#2e2e2e" stroke-width="1.1"/>
<circle cx="453.8" cy="1869.8" r="12.6" fill="#000000"/><path d="M453.8 1869.8L466.4 1869.8A12.6 12.6 0 0 0 466.4 1868.7Z" fill="#00BFFF"/><path d="M453.8 1869.8L466.4 1868.7A12.6 12.6 0 1 0 466.4 1869.8Z" fill="#000000"/><path d="M453.8 1869.8L464.7 1863.4M453.8 1869.8L459 1858.3M453.8 1869.8L456.2 1857.4M453.8 1869.8L448.6 1858.3M453.8 1869.8L443 1863.3M453.8 1869.8L441.8 1866.1M453.8 1869.8L441.8 1873.7M453.8 1869.8L446.3 1879.9M453.8 1869.8L448.9 1881.4M453.8 1869.8L456.4 1882.1M453.8 1869.8L459.3 1881.1M453.8 1869.8L464.8 1875.9" stroke="#4a4a4a" stroke-width=".6" fill="none"/><path d="M453.8 1869.8L466.4 1869.8M453.8 1869.8L466.4 1868.7" stroke="#111" stroke-width=".7" fill="none"/><circle cx="453.8" cy="1869.8" r="12.6" fill="none" stroke="#2e2e2e" stroke-width="1.1"/>
<circle cx="80.9" cy="1991" r="12.6" fill="#000000"/><circle cx="80.9" cy="1991" r="12.6" fill="none" stroke="#2e2e2e" stroke-width="1.1"/>
<circle cx="80.9" cy="1869.8" r="20.8" fill="#000000"/><path d="M80.9 1869.8L101.7 1869.8A20.8 20.8 0 0 0 101 1864.4Z" fill="#1C75D0"/><path d="M80.9 1869.8L101 1864.4A20.8 20.8 0 0 0 94.3 1853.8Z" fill="#FFFF00"/><path d="M80.9 1869.8L94.3 1853.8A20.8 20.8 0 0 0 73.8 1850.2Z" fill="#00BFFF"/><path d="M80.9 1869.8L73.8 1850.2A20.8 20.8 0 0 0 66.2 1855.1Z" fill="#228B22"/><path d="M80.9 1869.8L66.2 1855.1A20.8 20.8 0 0 0 60.8 1864.4Z" fill="#BEBEBE"/><path d="M80.9 1869.8L60.8 1864.4A20.8 20.8 0 1 0 101.7 1869.8Z" fill="#000000"/><path d="M80.9 1869.8L60.1 1869.4M80.9 1869.8L61.1 1876.3M80.9 1869.8L62.2 1878.8M80.9 1869.8L66.2 1884.5M80.9 1869.8L71.9 1888.5M80.9 1869.8L74.4 1889.5M80.9 1869.8L81.3 1890.6M80.9 1869.8L88.1 1889.3M80.9 1869.8L90.6 1888.2M80.9 1869.8L96.1 1883.9M80.9 1869.8L97.9 1881.8M80.9 1869.8L100.9 1875.5" stroke="#4a4a4a" stroke-width=".6" fill="none"/><path d="M80.9 1869.8L101.7 1869.8M80.9 1869.8L101 1864.4M80.9 1869.8L94.3 1853.8M80.9 1869.8L73.8 1850.2M80.9 1869.8L66.2 1855.1M80.9 1869.8L60.8 1864.4" stroke="#111" stroke-width=".7" fill="none"/><circle cx="80.9" cy="1869.8" r="20.8" fill="none" stroke="#2e2e2e" stroke-width="1.1"/>
<circle cx="80.9" cy="2112.2" r="20.8" fill="#000000"/><path d="M80.9 2112.2L101.7 2112.2A20.8 20.8 0 0 0 101.4 2108.6Z" fill="#1C75D0"/><path d="M80.9 2112.2L101.4 2108.6A20.8 20.8 0 0 0 91.3 2094.2Z" fill="#FFFF00"/><path d="M80.9 2112.2L91.3 2094.2A20.8 20.8 0 0 0 77.3 2091.7Z" fill="#FFA500"/><path d="M80.9 2112.2L77.3 2091.7A20.8 20.8 0 0 0 70.5 2094.2Z" fill="#FF0000"/><path d="M80.9 2112.2L70.5 2094.2A20.8 20.8 0 0 0 61.4 2105.1Z" fill="#00BFFF"/><path d="M80.9 2112.2L61.4 2105.1A20.8 20.8 0 0 0 60.2 2114Z" fill="#228B22"/><path d="M80.9 2112.2L60.2 2114A20.8 20.8 0 0 0 69 2129.2Z" fill="#BEBEBE"/><path d="M80.9 2112.2L69 2129.2A20.8 20.8 0 0 0 101.7 2112.2Z" fill="#000000"/><path d="M80.9 2112.2L73.6 2131.7M80.9 2112.2L80.8 2133M80.9 2112.2L83.6 2132.8M80.9 2112.2L90.5 2130.6M80.9 2112.2L96.3 2126.2M80.9 2112.2L98 2124M80.9 2112.2L101 2117.4" stroke="#4a4a4a" stroke-width=".6" fill="none"/><path d="M80.9 2112.2L101.7 2112.2M80.9 2112.2L101.4 2108.6M80.9 2112.2L91.3 2094.2M80.9 2112.2L77.3 2091.7M80.9 2112.2L70.5 2094.2M80.9 2112.2L61.4 2105.1M80.9 2112.2L60.2 2114M80.9 2112.2L69 2129.2" stroke="#111" stroke-width=".7" fill="none"/><circle cx="80.9" cy="2112.2" r="20.8" fill="none" stroke="#2e2e2e" stroke-width="1.1"/>
<circle cx="1084.8" cy="2099.3" r="20.8" fill="#000000"/><path d="M1084.8 2099.3L1105.6 2099.3A20.8 20.8 0 0 0 1095.2 2081.3Z" fill="#FFFF00"/><path d="M1084.8 2099.3L1095.2 2081.3A20.8 20.8 0 0 0 1077.7 2079.8Z" fill="#FFA500"/><path d="M1084.8 2099.3L1077.7 2079.8A20.8 20.8 0 0 0 1068.9 2085.9Z" fill="#00BFFF"/><path d="M1084.8 2099.3L1068.9 2085.9A20.8 20.8 0 0 0 1064.3 2102.9Z" fill="#228B22"/><path d="M1084.8 2099.3L1064.3 2102.9A20.8 20.8 0 0 0 1077.7 2118.9Z" fill="#BEBEBE"/><path d="M1084.8 2099.3L1077.7 2118.9A20.8 20.8 0 0 0 1105.6 2099.3Z" fill="#000000"/><path d="M1084.8 2099.3L1082.8 2120M1084.8 2099.3L1090.1 2119.4M1084.8 2099.3L1092.8 2118.5M1084.8 2099.3L1098.9 2114.6M1084.8 2099.3L1103.3 2108.7M1084.8 2099.3L1104.5 2106.1" stroke="#4a4a4a" stroke-width=".6" fill="none"/><path d="M1084.8 2099.3L1105.6 2099.3M1084.8 2099.3L1095.2 2081.3M1084.8 2099.3L1077.7 2079.8M1084.8 2099.3L1068.9 2085.9M1084.8 2099.3L1064.3 2102.9M1084.8 2099.3L1077.7 2118.9" stroke="#111" stroke-width=".7" fill="none"/><circle cx="1084.8" cy="2099.3" r="20.8" fill="none" stroke="#2e2e2e" stroke-width="1.1"/>
<circle cx="1084.8" cy="2125.1" r="20.8" fill="#000000"/><path d="M1084.8 2125.1L1105.6 2125.1A20.8 20.8 0 0 0 1098.2 2109.1Z" fill="#FFFF00"/><path d="M1084.8 2125.1L1098.2 2109.1A20.8 20.8 0 0 0 1090.2 2105Z" fill="#FFA500"/><path d="M1084.8 2125.1L1090.2 2105A20.8 20.8 0 0 0 1079.4 2105Z" fill="#00BFFF"/><path d="M1084.8 2125.1L1079.4 2105A20.8 20.8 0 0 0 1072.9 2108Z" fill="#228B22"/><path d="M1084.8 2125.1L1072.9 2108A20.8 20.8 0 0 0 1064.3 2121.4Z" fill="#BEBEBE"/><path d="M1084.8 2125.1L1064.3 2121.4A20.8 20.8 0 1 0 1105.6 2125.1Z" fill="#000000"/><path d="M1084.8 2125.1L1064.1 2126.8M1084.8 2125.1L1066 2133.9M1084.8 2125.1L1067.4 2136.4M1084.8 2125.1L1072.4 2141.7M1084.8 2125.1L1079 2145M1084.8 2125.1L1081.8 2145.6M1084.8 2125.1L1089.1 2145.4M1084.8 2125.1L1095.9 2142.6M1084.8 2125.1L1098.2 2140.9M1084.8 2125.1L1102.9 2135.3M1084.8 2125.1L1104.2 2132.7" stroke="#4a4a4a" stroke-width=".6" fill="none"/><path d="M1084.8 2125.1L1105.6 2125.1M1084.8 2125.1L1098.2 2109.1M1084.8 2125.1L1090.2 2105M1084.8 2125.1L1079.4 2105M1084.8 2125.1L1072.9 2108M1084.8 2125.1L1064.3 2121.4" stroke="#111" stroke-width=".7" fill="none"/><circle cx="1084.8" cy="2125.1" r="20.8" fill="none" stroke="#2e2e2e" stroke-width="1.1"/>
<circle cx="453.8" cy="1678.8" r="20.8" fill="#000000"/><path d="M453.8 1678.8L474.6 1678.8A20.8 20.8 0 0 0 469.7 1665.5Z" fill="#FFFF00"/><path d="M453.8 1678.8L469.7 1665.5A20.8 20.8 0 0 0 457.4 1658.4Z" fill="#00BFFF"/><path d="M453.8 1678.8L457.4 1658.4A20.8 20.8 0 0 0 453.8 1658Z" fill="#228B22"/><path d="M453.8 1678.8L453.8 1658A20.8 20.8 0 0 0 440.4 1662.9Z" fill="#BEBEBE"/><path d="M453.8 1678.8L440.4 1662.9A20.8 20.8 0 1 0 474.6 1678.8Z" fill="#000000"/><path d="M453.8 1678.8L436.9 1666.7M453.8 1678.8L433.8 1673.1M453.8 1678.8L433.2 1675.8M453.8 1678.8L433.4 1682.9M453.8 1678.8L436 1689.6M453.8 1678.8L437.6 1691.8M453.8 1678.8L442.9 1696.6M453.8 1678.8L449.5 1699.2M453.8 1678.8L452.3 1699.6M453.8 1678.8L459.4 1698.9M453.8 1678.8L462 1698M453.8 1678.8L468 1694.1M453.8 1678.8L472.3 1688.4M453.8 1678.8L473.4 1685.9" stroke="#4a4a4a" stroke-width=".6" fill="none"/><path d="M453.8 1678.8L474.6 1678.8M453.8 1678.8L469.7 1665.5M453.8 1678.8L457.4 1658.4M453.8 1678.8L453.8 1658M453.8 1678.8L440.4 1662.9" stroke="#111" stroke-width=".7" fill="none"/><circle cx="453.8" cy="1678.8" r="20.8" fill="none" stroke="#2e2e2e" stroke-width="1.1"/>
<circle cx="453.8" cy="2060.7" r="20.8" fill="#00BFFF"/><path d="M453.8 2060.7L474.6 2060.7A20.8 20.8 0 0 0 446.7 2041.2Z" fill="#1C75D0"/><path d="M453.8 2060.7L446.7 2041.2A20.8 20.8 0 0 0 440.4 2044.8Z" fill="#FFFF00"/><path d="M453.8 2060.7L440.4 2044.8A20.8 20.8 0 0 0 445 2079.5Z" fill="#00BFFF"/><path d="M453.8 2060.7L445 2079.5A20.8 20.8 0 0 0 455.6 2081.4Z" fill="#228B22"/><path d="M453.8 2060.7L455.6 2081.4A20.8 20.8 0 0 0 462.6 2079.5Z" fill="#BEBEBE"/><path d="M453.8 2060.7L462.6 2079.5A20.8 20.8 0 0 0 474.6 2060.7Z" fill="#000000"/><path d="M453.8 2060.7L466.3 2077.3M453.8 2060.7L470.6 2073M453.8 2060.7L471.9 2071M453.8 2060.7L474.1 2065.4" stroke="#4a4a4a" stroke-width=".6" fill="none"/><path d="M453.8 2060.7L474.6 2060.7M453.8 2060.7L446.7 2041.2M453.8 2060.7L440.4 2044.8M453.8 2060.7L445 2079.5M453.8 2060.7L455.6 2081.4M453.8 2060.7L462.6 2079.5" stroke="#111" stroke-width=".7" fill="none"/><circle cx="453.8" cy="2060.7" r="20.8" fill="none" stroke="#2e2e2e" stroke-width="1.1"/>
<circle cx="1038.2" cy="2047.8" r="20.8" fill="#00BFFF"/><path d="M1038.2 2047.8L1059 2047.8A20.8 20.8 0 0 0 1038.2 2027Z" fill="#1C75D0"/><path d="M1038.2 2047.8L1038.2 2027A20.8 20.8 0 0 0 1024.8 2063.8Z" fill="#00BFFF"/><path d="M1038.2 2047.8L1024.8 2063.8A20.8 20.8 0 0 0 1044.8 2067.6Z" fill="#595959"/><path d="M1038.2 2047.8L1028.9 2066.5M1038.2 2047.8L1035.4 2068.4M1038.2 2047.8L1038.1 2068.6" stroke="#111" stroke-width=".6" fill="none"/><path d="M1038.2 2047.8L1044.8 2067.6A20.8 20.8 0 0 0 1059 2047.8Z" fill="#000000"/><path d="M1038.2 2047.8L1049.2 2065.5M1038.2 2047.8L1054.2 2061.2M1038.2 2047.8L1055.7 2059.1M1038.2 2047.8L1058.4 2053" stroke="#4a4a4a" stroke-width=".6" fill="none"/><path d="M1038.2 2047.8L1059 2047.8M1038.2 2047.8L1038.2 2027M1038.2 2047.8L1024.8 2063.8M1038.2 2047.8L1044.8 2067.6" stroke="#111" stroke-width=".7" fill="none"/><circle cx="1038.2" cy="2047.8" r="20.8" fill="none" stroke="#2e2e2e" stroke-width="1.1"/>
<circle cx="1038.2" cy="2073.6" r="20.8" fill="#1C75D0"/><path d="M1038.2 2073.6L1059 2073.6A20.8 20.8 0 1 0 1038.2 2094.4Z" fill="#1C75D0"/><path d="M1038.2 2073.6L1038.2 2094.4A20.8 20.8 0 0 0 1041.8 2094.1Z" fill="#00BFFF"/><path d="M1038.2 2073.6L1041.8 2094.1A20.8 20.8 0 0 0 1059 2073.6Z" fill="#595959"/><path d="M1038.2 2073.6L1046.1 2092.8M1038.2 2073.6L1051.4 2089.6M1038.2 2073.6L1053.2 2088M1038.2 2073.6L1056.8 2082.9M1038.2 2073.6L1058.7 2077" stroke="#111" stroke-width=".6" fill="none"/><path d="M1038.2 2073.6L1059 2073.6M1038.2 2073.6L1038.2 2094.4M1038.2 2073.6L1041.8 2094.1" stroke="#111" stroke-width=".7" fill="none"/><circle cx="1038.2" cy="2073.6" r="20.8" fill="none" stroke="#2e2e2e" stroke-width="1.1"/>
<circle cx="559.4" cy="1360.5" r="20.8" fill="#000000"/><path d="M559.4 1360.5L580.2 1360.5A20.8 20.8 0 0 0 569.8 1342.5Z" fill="#FFFF00"/><path d="M559.4 1360.5L569.8 1342.5A20.8 20.8 0 0 0 555.8 1340Z" fill="#00BFFF"/><path d="M559.4 1360.5L555.8 1340A20.8 20.8 0 0 0 552.3 1341Z" fill="#228B22"/><path d="M559.4 1360.5L552.3 1341A20.8 20.8 0 0 0 538.9 1356.9Z" fill="#BEBEBE"/><path d="M559.4 1360.5L538.9 1356.9A20.8 20.8 0 1 0 580.2 1360.5Z" fill="#000000"/><path d="M559.4 1360.5L538.7 1362.2M559.4 1360.5L540.6 1369.3M559.4 1360.5L542 1371.9M559.4 1360.5L547 1377.2M559.4 1360.5L553.6 1380.5M559.4 1360.5L556.4 1381.1M559.4 1360.5L563.7 1380.9M559.4 1360.5L570.5 1378.1M559.4 1360.5L572.8 1376.4M559.4 1360.5L577.5 1370.7M559.4 1360.5L578.8 1368.2" stroke="#4a4a4a" stroke-width=".6" fill="none"/><path d="M559.4 1360.5L580.2 1360.5M559.4 1360.5L569.8 1342.5M559.4 1360.5L555.8 1340M559.4 1360.5L552.3 1341M559.4 1360.5L538.9 1356.9" stroke="#111" stroke-width=".7" fill="none"/><circle cx="559.4" cy="1360.5" r="20.8" fill="none" stroke="#2e2e2e" stroke-width="1.1"/>
<circle cx="559.4" cy="1997.1" r="20.8" fill="#BEBEBE"/><path d="M559.4 1997.1L580.2 1997.1A20.8 20.8 0 0 0 557.6 1976.4Z" fill="#FFFF00"/><path d="M559.4 1997.1L557.6 1976.4A20.8 20.8 0 0 0 555.8 1976.7Z" fill="#FFA500"/><path d="M559.4 1997.1L555.8 1976.7A20.8 20.8 0 0 0 538.9 2000.8Z" fill="#00BFFF"/><path d="M559.4 1997.1L538.9 2000.8A20.8 20.8 0 0 0 542.4 2009.1Z" fill="#228B22"/><path d="M559.4 1997.1L542.4 2009.1A20.8 20.8 0 0 0 577.4 2007.5Z" fill="#BEBEBE"/><path d="M559.4 1997.1L577.4 2007.5A20.8 20.8 0 0 0 579.3 2003.1Z" fill="#595959"/><path d="M559.4 1997.1L579.3 2003.1A20.8 20.8 0 0 0 580.2 1997.1Z" fill="#000000"/><path d="M559.4 1997.1L580 2000.3" stroke="#4a4a4a" stroke-width=".6" fill="none"/><path d="M559.4 1997.1L580.2 1997.1M559.4 1997.1L557.6 1976.4M559.4 1997.1L555.8 1976.7M559.4 1997.1L538.9 2000.8M559.4 1997.1L542.4 2009.1M559.4 1997.1L577.4 2007.5M559.4 1997.1L579.3 2003.1" stroke="#111" stroke-width=".7" fill="none"/><circle cx="559.4" cy="1997.1" r="20.8" fill="none" stroke="#2e2e2e" stroke-width="1.1"/>
<circle cx="1053.2" cy="1972.2" r="20.8" fill="#BEBEBE"/><path d="M1053.2 1972.2L1074 1972.2A20.8 20.8 0 0 0 1069.1 1958.8Z" fill="#FFFF00"/><path d="M1053.2 1972.2L1069.1 1958.8A20.8 20.8 0 0 0 1049.6 1951.7Z" fill="#00BFFF"/><path d="M1053.2 1972.2L1049.6 1951.7A20.8 20.8 0 0 0 1037.3 1958.8Z" fill="#228B22"/><path d="M1053.2 1972.2L1037.3 1958.8A20.8 20.8 0 0 0 1037.3 1985.6Z" fill="#BEBEBE"/><path d="M1053.2 1972.2L1037.3 1985.6A20.8 20.8 0 0 0 1057.9 1992.5Z" fill="#595959"/><path d="M1053.2 1972.2L1041.2 1989.2M1053.2 1972.2L1047.8 1992.3M1053.2 1972.2L1050.6 1992.8" stroke="#111" stroke-width=".6" fill="none"/><path d="M1053.2 1972.2L1057.9 1992.5A20.8 20.8 0 0 0 1074 1972.2Z" fill="#000000"/><path d="M1053.2 1972.2L1062.7 1990.7M1053.2 1972.2L1068.4 1986.4M1053.2 1972.2L1070.2 1984.2M1053.2 1972.2L1073.3 1977.7" stroke="#4a4a4a" stroke-width=".6" fill="none"/><path d="M1053.2 1972.2L1074 1972.2M1053.2 1972.2L1069.1 1958.8M1053.2 1972.2L1049.6 1951.7M1053.2 1972.2L1037.3 1958.8M1053.2 1972.2L1037.3 1985.6M1053.2 1972.2L1057.9 1992.5" stroke="#111" stroke-width=".7" fill="none"/><circle cx="1053.2" cy="1972.2" r="20.8" fill="none" stroke="#2e2e2e" stroke-width="1.1"/>
<circle cx="1053.2" cy="2022.1" r="20.8" fill="#BEBEBE"/><path d="M1053.2 2022.1L1074 2022.1A20.8 20.8 0 0 0 1060.3 2002.5Z" fill="#FFFF00"/><path d="M1053.2 2022.1L1060.3 2002.5A20.8 20.8 0 0 0 1056.8 2001.6Z" fill="#FFA500"/><path d="M1053.2 2022.1L1056.8 2001.6A20.8 20.8 0 0 0 1046.1 2002.5Z" fill="#00BFFF"/><path d="M1053.2 2022.1L1046.1 2002.5A20.8 20.8 0 0 0 1033.7 2015Z" fill="#228B22"/><path d="M1053.2 2022.1L1033.7 2015A20.8 20.8 0 0 0 1049.6 2042.6Z" fill="#BEBEBE"/><path d="M1053.2 2022.1L1049.6 2042.6A20.8 20.8 0 0 0 1065.1 2039.1Z" fill="#595959"/><path d="M1053.2 2022.1L1054.6 2042.8M1053.2 2022.1L1061.4 2041.2" stroke="#111" stroke-width=".6" fill="none"/><path d="M1053.2 2022.1L1065.1 2039.1A20.8 20.8 0 0 0 1074 2022.1Z" fill="#000000"/><path d="M1053.2 2022.1L1068.6 2036.1M1053.2 2022.1L1072.1 2030.7M1053.2 2022.1L1073 2028.4" stroke="#4a4a4a" stroke-width=".6" fill="none"/><path d="M1053.2 2022.1L1074 2022.1M1053.2 2022.1L1060.3 2002.5M1053.2 2022.1L1056.8 2001.6M1053.2 2022.1L1046.1 2002.5M1053.2 2022.1L1033.7 2015M1053.2 2022.1L1049.6 2042.6M1053.2 2022.1L1065.1 2039.1" stroke="#111" stroke-width=".7" fill="none"/><circle cx="1053.2" cy="2022.1" r="20.8" fill="none" stroke="#2e2e2e" stroke-width="1.1"/>
<circle cx="1149" cy="1948.1" r="20.8" fill="#00BFFF"/><path d="M1149 1948.1L1169.8 1948.1A20.8 20.8 0 0 0 1167 1937.7Z" fill="#FFFF00"/><path d="M1149 1948.1L1167 1937.7A20.8 20.8 0 0 0 1131 1937.7Z" fill="#00BFFF"/><path d="M1149 1948.1L1131 1937.7A20.8 20.8 0 0 0 1128.5 1951.7Z" fill="#228B22"/><path d="M1149 1948.1L1128.5 1951.7A20.8 20.8 0 0 0 1141.9 1967.6Z" fill="#BEBEBE"/><path d="M1149 1948.1L1141.9 1967.6A20.8 20.8 0 0 0 1159.2 1966.2Z" fill="#595959"/><path d="M1149 1948.1L1145.9 1968.6M1149 1948.1L1151.7 1968.7M1149 1948.1L1153.9 1968.3" stroke="#111" stroke-width=".6" fill="none"/><path d="M1149 1948.1L1159.2 1966.2A20.8 20.8 0 0 0 1169.8 1948.1Z" fill="#000000"/><path d="M1149 1948.1L1163.3 1963.2M1149 1948.1L1167.5 1957.5M1149 1948.1L1168.6 1955" stroke="#4a4a4a" stroke-width=".6" fill="none"/><path d="M1149 1948.1L1169.8 1948.1M1149 1948.1L1167 1937.7M1149 1948.1L1131 1937.7M1149 1948.1L1128.5 1951.7M1149 1948.1L1141.9 1967.6M1149 1948.1L1159.2 1966.2" stroke="#111" stroke-width=".7" fill="none"/><circle cx="1149" cy="1948.1" r="20.8" fill="none" stroke="#2e2e2e" stroke-width="1.1"/>
<circle cx="1149" cy="1996.3" r="20.8" fill="#BEBEBE"/><path d="M1149 1996.3L1169.8 1996.3A20.8 20.8 0 0 0 1159.4 1978.3Z" fill="#FFFF00"/><path d="M1149 1996.3L1159.4 1978.3A20.8 20.8 0 0 0 1141.9 1976.8Z" fill="#00BFFF"/><path d="M1149 1996.3L1141.9 1976.8A20.8 20.8 0 0 0 1128.2 1996.3Z" fill="#228B22"/><path d="M1149 1996.3L1128.2 1996.3A20.8 20.8 0 0 0 1156.1 2015.9Z" fill="#BEBEBE"/><path d="M1149 1996.3L1156.1 2015.9A20.8 20.8 0 0 0 1165.3 2009.3Z" fill="#595959"/><path d="M1149 1996.3L1160.8 2013.5" stroke="#111" stroke-width=".6" fill="none"/><path d="M1149 1996.3L1165.3 2009.3A20.8 20.8 0 0 0 1169.8 1996.3Z" fill="#000000"/><path d="M1149 1996.3L1167.6 2005.6M1149 1996.3L1169.5 2000" stroke="#4a4a4a" stroke-width=".6" fill="none"/><path d="M1149 1996.3L1169.8 1996.3M1149 1996.3L1159.4 1978.3M1149 1996.3L1141.9 1976.8M1149 1996.3L1128.2 1996.3M1149 1996.3L1156.1 2015.9M1149 1996.3L1165.3 2009.3" stroke="#111" stroke-width=".7" fill="none"/><circle cx="1149" cy="1996.3" r="20.8" fill="none" stroke="#2e2e2e" stroke-width="1.1"/>
<circle cx="1189" cy="1925.6" r="20.8" fill="#BEBEBE"/><path d="M1189 1925.6L1209.8 1925.6A20.8 20.8 0 0 0 1207 1915.2Z" fill="#FFFF00"/><path d="M1189 1925.6L1207 1915.2A20.8 20.8 0 0 0 1185.4 1905.1Z" fill="#00BFFF"/><path d="M1189 1925.6L1185.4 1905.1A20.8 20.8 0 0 0 1169.5 1918.4Z" fill="#228B22"/><path d="M1189 1925.6L1169.5 1918.4A20.8 20.8 0 0 0 1178.6 1943.6Z" fill="#BEBEBE"/><path d="M1189 1925.6L1178.6 1943.6A20.8 20.8 0 0 0 1197.5 1944.6Z" fill="#595959"/><path d="M1189 1925.6L1182.8 1945.4M1189 1925.6L1189 1946.4M1189 1925.6L1191.4 1946.2" stroke="#111" stroke-width=".6" fill="none"/><path d="M1189 1925.6L1197.5 1944.6A20.8 20.8 0 0 0 1209.8 1925.6Z" fill="#000000"/><path d="M1189 1925.6L1201.3 1942.3M1189 1925.6L1205.7 1938M1189 1925.6L1207 1936M1189 1925.6L1209.3 1930.3" stroke="#4a4a4a" stroke-width=".6" fill="none"/><path d="M1189 1925.6L1209.8 1925.6M1189 1925.6L1207 1915.2M1189 1925.6L1185.4 1905.1M1189 1925.6L1169.5 1918.4M1189 1925.6L1178.6 1943.6M1189 1925.6L1197.5 1944.6" stroke="#111" stroke-width=".7" fill="none"/><circle cx="1189" cy="1925.6" r="20.8" fill="none" stroke="#2e2e2e" stroke-width="1.1"/>
<circle cx="1189" cy="1970.6" r="20.8" fill="#00BFFF"/><path d="M1189 1970.6L1209.8 1970.6A20.8 20.8 0 0 0 1208.5 1963.5Z" fill="#FFFF00"/><path d="M1189 1970.6L1208.5 1963.5A20.8 20.8 0 1 0 1181.9 1990.1Z" fill="#00BFFF"/><path d="M1189 1970.6L1181.9 1990.1A20.8 20.8 0 0 0 1192.6 1991.1Z" fill="#228B22"/><path d="M1189 1970.6L1192.6 1991.1A20.8 20.8 0 0 0 1208.5 1977.7Z" fill="#BEBEBE"/><path d="M1189 1970.6L1208.5 1977.7A20.8 20.8 0 0 0 1209.8 1970.6Z" fill="#000000"/><path d="M1189 1970.6L1209.4 1974.5" stroke="#4a4a4a" stroke-width=".6" fill="none"/><path d="M1189 1970.6L1209.8 1970.6M1189 1970.6L1208.5 1963.5M1189 1970.6L1181.9 1990.1M1189 1970.6L1192.6 1991.1M1189 1970.6L1208.5 1977.7" stroke="#111" stroke-width=".7" fill="none"/><circle cx="1189" cy="1970.6" r="20.8" fill="none" stroke="#2e2e2e" stroke-width="1.1"/>
<circle cx="1228.9" cy="1906.2" r="20.8" fill="#BEBEBE"/><path d="M1228.9 1906.2L1249.7 1906.2A20.8 20.8 0 0 0 1248.4 1899.1Z" fill="#FFFF00"/><path d="M1228.9 1906.2L1248.4 1899.1A20.8 20.8 0 0 0 1228.9 1885.4Z" fill="#00BFFF"/><path d="M1228.9 1906.2L1228.9 1885.4A20.8 20.8 0 0 0 1208.4 1902.6Z" fill="#228B22"/><path d="M1228.9 1906.2L1208.4 1902.6A20.8 20.8 0 0 0 1225.3 1926.7Z" fill="#BEBEBE"/><path d="M1228.9 1906.2L1225.3 1926.7A20.8 20.8 0 0 0 1240.8 1923.3Z" fill="#595959"/><path d="M1228.9 1906.2L1230.3 1927M1228.9 1906.2L1237.1 1925.4" stroke="#111" stroke-width=".6" fill="none"/><path d="M1228.9 1906.2L1240.8 1923.3A20.8 20.8 0 0 0 1249.7 1906.2Z" fill="#000000"/><path d="M1228.9 1906.2L1244.3 1920.2M1228.9 1906.2L1247.8 1914.9M1228.9 1906.2L1248.7 1912.6" stroke="#4a4a4a" stroke-width=".6" fill="none"/><path d="M1228.9 1906.2L1249.7 1906.2M1228.9 1906.2L1248.4 1899.1M1228.9 1906.2L1228.9 1885.4M1228.9 1906.2L1208.4 1902.6M1228.9 1906.2L1225.3 1926.7M1228.9 1906.2L1240.8 1923.3" stroke="#111" stroke-width=".7" fill="none"/><circle cx="1228.9" cy="1906.2" r="20.8" fill="none" stroke="#2e2e2e" stroke-width="1.1"/>
<circle cx="1228.9" cy="1944.9" r="20.8" fill="#BEBEBE"/><path d="M1228.9 1944.9L1249.7 1944.9A20.8 20.8 0 0 0 1242.3 1928.9Z" fill="#FFFF00"/><path d="M1228.9 1944.9L1242.3 1928.9A20.8 20.8 0 0 0 1221.8 1925.3Z" fill="#00BFFF"/><path d="M1228.9 1944.9L1221.8 1925.3A20.8 20.8 0 0 0 1208.4 1948.5Z" fill="#228B22"/><path d="M1228.9 1944.9L1208.4 1948.5A20.8 20.8 0 0 0 1239.3 1962.9Z" fill="#BEBEBE"/><path d="M1228.9 1944.9L1239.3 1962.9A20.8 20.8 0 0 0 1246.3 1956.2Z" fill="#595959"/><path d="M1228.9 1944.9L1243 1960.2" stroke="#111" stroke-width=".6" fill="none"/><path d="M1228.9 1944.9L1246.3 1956.2A20.8 20.8 0 0 0 1249.7 1944.9Z" fill="#000000"/><path d="M1228.9 1944.9L1248.1 1952.9M1228.9 1944.9L1249.5 1948" stroke="#4a4a4a" stroke-width=".6" fill="none"/><path d="M1228.9 1944.9L1249.7 1944.9M1228.9 1944.9L1242.3 1928.9M1228.9 1944.9L1221.8 1925.3M1228.9 1944.9L1208.4 1948.5M1228.9 1944.9L1239.3 1962.9M1228.9 1944.9L1246.3 1956.2" stroke="#111" stroke-width=".7" fill="none"/><circle cx="1228.9" cy="1944.9" r="20.8" fill="none" stroke="#2e2e2e" stroke-width="1.1"/>
<circle cx="1425.1" cy="1893.4" r="20.8" fill="#595959"/><path d="M1425.1 1893.4L1445.9 1893.4A20.8 20.8 0 0 0 1444.6 1886.3Z" fill="#00BFFF"/><path d="M1425.1 1893.4L1444.6 1886.3A20.8 20.8 0 0 0 1432.2 1873.8Z" fill="#228B22"/><path d="M1425.1 1893.4L1432.2 1873.8A20.8 20.8 0 0 0 1428.7 1872.9Z" fill="#BEBEBE"/><path d="M1425.1 1893.4L1428.7 1872.9A20.8 20.8 0 1 0 1445.9 1893.4Z" fill="#595959"/><path d="M1425.1 1893.4L1423.5 1872.6M1425.1 1893.4L1416.5 1874.4M1425.1 1893.4L1414 1875.8M1425.1 1893.4L1408.7 1880.6M1425.1 1893.4L1405.3 1887M1425.1 1893.4L1404.6 1889.8M1425.1 1893.4L1404.6 1897M1425.1 1893.4L1407.1 1903.8M1425.1 1893.4L1408.7 1906.1M1425.1 1893.4L1414 1911M1425.1 1893.4L1416.5 1912.3M1425.1 1893.4L1423.5 1914.1M1425.1 1893.4L1430.7 1913.4M1425.1 1893.4L1433.3 1912.5M1425.1 1893.4L1439.4 1908.5M1425.1 1893.4L1443.7 1902.7M1425.1 1893.4L1444.8 1900.1" stroke="#111" stroke-width=".6" fill="none"/><path d="M1425.1 1893.4L1445.9 1893.4M1425.1 1893.4L1444.6 1886.3M1425.1 1893.4L1432.2 1873.8M1425.1 1893.4L1428.7 1872.9" stroke="#111" stroke-width=".7" fill="none"/><circle cx="1425.1" cy="1893.4" r="20.8" fill="none" stroke="#2e2e2e" stroke-width="1.1"/>
<circle cx="1425.1" cy="1919.1" r="20.8" fill="#228B22"/><path d="M1425.1 1919.1L1445.9 1919.1A20.8 20.8 0 1 0 1445.6 1922.7Z" fill="#228B22"/><path d="M1425.1 1919.1L1445.6 1922.7A20.8 20.8 0 0 0 1445.8 1920.9Z" fill="#1C75D0"/><path d="M1425.1 1919.1L1445.8 1920.9A20.8 20.8 0 0 0 1445.9 1919.1Z" fill="#000000"/><path d="M1425.1 1919.1L1445.9 1919.1M1425.1 1919.1L1445.6 1922.7M1425.1 1919.1L1445.8 1920.9" stroke="#111" stroke-width=".7" fill="none"/><circle cx="1425.1" cy="1919.1" r="20.8" fill="none" stroke="#2e2e2e" stroke-width="1.1"/>
<circle cx="691.8" cy="918.4" r="20.8" fill="#BEBEBE"/><path d="M691.8 918.4L712.6 918.4A20.8 20.8 0 0 0 691.8 897.6Z" fill="#FFFF00"/><path d="M691.8 918.4L691.8 897.6A20.8 20.8 0 0 0 678.4 902.5Z" fill="#00BFFF"/><path d="M691.8 918.4L678.4 902.5A20.8 20.8 0 0 0 677.1 903.7Z" fill="#228B22"/><path d="M691.8 918.4L677.1 903.7A20.8 20.8 0 1 0 709.8 928.8Z" fill="#BEBEBE"/><path d="M691.8 918.4L709.8 928.8A20.8 20.8 0 0 0 711.7 924.3Z" fill="#595959"/><path d="M691.8 918.4L711.7 924.3A20.8 20.8 0 0 0 712.6 918.4Z" fill="#000000"/><path d="M691.8 918.4L712.4 921.6" stroke="#4a4a4a" stroke-width=".6" fill="none"/><path d="M691.8 918.4L712.6 918.4M691.8 918.4L691.8 897.6M691.8 918.4L678.4 902.5M691.8 918.4L677.1 903.7M691.8 918.4L709.8 928.8M691.8 918.4L711.7 924.3" stroke="#111" stroke-width=".7" fill="none"/><circle cx="691.8" cy="918.4" r="20.8" fill="none" stroke="#2e2e2e" stroke-width="1.1"/>
<circle cx="691.8" cy="1802.6" r="20.8" fill="#000000"/><path d="M691.8 1802.6L712.6 1802.6A20.8 20.8 0 0 0 702.2 1784.6Z" fill="#FFFF00"/><path d="M691.8 1802.6L702.2 1784.6A20.8 20.8 0 0 0 688.2 1782.1Z" fill="#00BFFF"/><path d="M691.8 1802.6L688.2 1782.1A20.8 20.8 0 0 0 683 1783.8Z" fill="#228B22"/><path d="M691.8 1802.6L683 1783.8A20.8 20.8 0 0 0 673.8 1792.2Z" fill="#BEBEBE"/><path d="M691.8 1802.6L673.8 1792.2A20.8 20.8 0 1 0 712.6 1802.6Z" fill="#000000"/><path d="M691.8 1802.6L671.8 1796.9M691.8 1802.6L671 1803.8M691.8 1802.6L671.4 1806.5M691.8 1802.6L673.8 1813M691.8 1802.6L678.2 1818.4M691.8 1802.6L680.4 1820M691.8 1802.6L686.8 1822.8M691.8 1802.6L693.7 1823.3M691.8 1802.6L696.4 1822.9M691.8 1802.6L702.9 1820.2M691.8 1802.6L705.1 1818.6M691.8 1802.6L709.6 1813.4M691.8 1802.6L712.2 1806.9" stroke="#4a4a4a" stroke-width=".6" fill="none"/><path d="M691.8 1802.6L712.6 1802.6M691.8 1802.6L702.2 1784.6M691.8 1802.6L688.2 1782.1M691.8 1802.6L683 1783.8M691.8 1802.6L673.8 1792.2" stroke="#111" stroke-width=".7" fill="none"/><circle cx="691.8" cy="1802.6" r="20.8" fill="none" stroke="#2e2e2e" stroke-width="1.1"/>
<circle cx="781" cy="1737.6" r="20.8" fill="#000000"/><path d="M781 1737.6L801.8 1737.6A20.8 20.8 0 0 0 798 1725.7Z" fill="#FFFF00"/><path d="M781 1737.6L798 1725.7A20.8 20.8 0 0 0 792.9 1720.6Z" fill="#00BFFF"/><path d="M781 1737.6L792.9 1720.6A20.8 20.8 0 0 0 786.4 1717.5Z" fill="#228B22"/><path d="M781 1737.6L786.4 1717.5A20.8 20.8 0 0 0 775.6 1717.5Z" fill="#BEBEBE"/><path d="M781 1737.6L775.6 1717.5A20.8 20.8 0 1 0 801.8 1737.6Z" fill="#000000"/><path d="M781 1737.6L770.7 1719.6M781 1737.6L765 1724.3M781 1737.6L763.3 1726.7M781 1737.6L760.6 1733.6M781 1737.6L760.5 1741M781 1737.6L761.1 1743.8M781 1737.6L764.5 1750.3M781 1737.6L770 1755.3M781 1737.6L772.6 1756.6M781 1737.6L779.8 1758.4M781 1737.6L782.7 1758.3M781 1737.6L789.8 1756.4M781 1737.6L795.9 1752.2M781 1737.6L797.7 1750M781 1737.6L801 1743.3" stroke="#4a4a4a" stroke-width=".6" fill="none"/><path d="M781 1737.6L801.8 1737.6M781 1737.6L798 1725.7M781 1737.6L792.9 1720.6M781 1737.6L786.4 1717.5M781 1737.6L775.6 1717.5" stroke="#111" stroke-width=".7" fill="none"/><circle cx="781" cy="1737.6" r="20.8" fill="none" stroke="#2e2e2e" stroke-width="1.1"/>
<circle cx="781" cy="1867.6" r="20.8" fill="#FFFF00"/><path d="M781 1867.6L801.8 1867.6A20.8 20.8 0 0 0 770.6 1849.6Z" fill="#FFFF00"/><path d="M781 1867.6L770.6 1849.6A20.8 20.8 0 0 0 760.9 1862.2Z" fill="#FFA500"/><path d="M781 1867.6L760.9 1862.2A20.8 20.8 0 0 0 760.5 1864Z" fill="#FF0000"/><path d="M781 1867.6L760.5 1864A20.8 20.8 0 0 0 763 1878Z" fill="#00BFFF"/><path d="M781 1867.6L763 1878A20.8 20.8 0 0 0 781 1888.4Z" fill="#228B22"/><path d="M781 1867.6L781 1888.4A20.8 20.8 0 0 0 800.5 1874.7Z" fill="#BEBEBE"/><path d="M781 1867.6L800.5 1874.7A20.8 20.8 0 0 0 801.8 1867.6Z" fill="#000000"/><path d="M781 1867.6L801.4 1871.5" stroke="#4a4a4a" stroke-width=".6" fill="none"/><path d="M781 1867.6L801.8 1867.6M781 1867.6L770.6 1849.6M781 1867.6L760.9 1862.2M781 1867.6L760.5 1864M781 1867.6L763 1878M781 1867.6L781 1888.4M781 1867.6L800.5 1874.7" stroke="#111" stroke-width=".7" fill="none"/><circle cx="781" cy="1867.6" r="20.8" fill="none" stroke="#2e2e2e" stroke-width="1.1"/>
<circle cx="816.3" cy="1652.6" r="20.8" fill="#000000"/><path d="M816.3 1652.6L837.1 1652.6A20.8 20.8 0 0 0 833.3 1640.7Z" fill="#FFFF00"/><path d="M816.3 1652.6L833.3 1640.7A20.8 20.8 0 0 0 816.3 1631.8Z" fill="#00BFFF"/><path d="M816.3 1652.6L816.3 1631.8A20.8 20.8 0 0 0 809.2 1633.1Z" fill="#228B22"/><path d="M816.3 1652.6L809.2 1633.1A20.8 20.8 0 1 0 837.1 1652.6Z" fill="#000000"/><path d="M816.3 1652.6L804.5 1635.5M816.3 1652.6L799.3 1640.6M816.3 1652.6L797.9 1643M816.3 1652.6L795.7 1649.9M816.3 1652.6L796 1657.2M816.3 1652.6L796.8 1659.9M816.3 1652.6L800.5 1666.2M816.3 1652.6L806.1 1670.8M816.3 1652.6L808.6 1672M816.3 1652.6L815.7 1673.4M816.3 1652.6L818.6 1673.3M816.3 1652.6L825.5 1671.3M816.3 1652.6L831.4 1667M816.3 1652.6L833.2 1664.8M816.3 1652.6L836.3 1658.2" stroke="#4a4a4a" stroke-width=".6" fill="none"/><path d="M816.3 1652.6L837.1 1652.6M816.3 1652.6L833.3 1640.7M816.3 1652.6L816.3 1631.8M816.3 1652.6L809.2 1633.1" stroke="#111" stroke-width=".7" fill="none"/><circle cx="816.3" cy="1652.6" r="20.8" fill="none" stroke="#2e2e2e" stroke-width="1.1"/>
<circle cx="816.3" cy="1822.6" r="20.8" fill="#FFA500"/><path d="M816.3 1822.6L837.1 1822.6A20.8 20.8 0 0 0 826.7 1804.6Z" fill="#FFFF00"/><path d="M816.3 1822.6L826.7 1804.6A20.8 20.8 0 0 0 796.8 1829.7Z" fill="#FFA500"/><path d="M816.3 1822.6L796.8 1829.7A20.8 20.8 0 0 0 816.3 1843.4Z" fill="#FF0000"/><path d="M816.3 1822.6L816.3 1843.4A20.8 20.8 0 0 0 818.1 1843.3Z" fill="#1C75D0"/><path d="M816.3 1822.6L818.1 1843.3A20.8 20.8 0 0 0 832.2 1836Z" fill="#228B22"/><path d="M816.3 1822.6L832.2 1836A20.8 20.8 0 0 0 837.1 1822.6Z" fill="#000000"/><path d="M816.3 1822.6L834.7 1832.2M816.3 1822.6L836.8 1826.4" stroke="#4a4a4a" stroke-width=".6" fill="none"/><path d="M816.3 1822.6L837.1 1822.6M816.3 1822.6L826.7 1804.6M816.3 1822.6L796.8 1829.7M816.3 1822.6L816.3 1843.4M816.3 1822.6L818.1 1843.3M816.3 1822.6L832.2 1836" stroke="#111" stroke-width=".7" fill="none"/><circle cx="816.3" cy="1822.6" r="20.8" fill="none" stroke="#2e2e2e" stroke-width="1.1"/>
<circle cx="1000" cy="1803.3" r="20.8" fill="#FFA500"/><path d="M1000 1803.3L1020.8 1803.3A20.8 20.8 0 1 0 979.5 1806.9Z" fill="#FFA500"/><path d="M1000 1803.3L979.5 1806.9A20.8 20.8 0 0 0 1007.1 1822.8Z" fill="#FF0000"/><path d="M1000 1803.3L1007.1 1822.8A20.8 20.8 0 0 0 1015.9 1816.6Z" fill="#595959"/><path d="M1000 1803.3L1015.9 1816.6A20.8 20.8 0 0 0 1019.3 1811.1Z" fill="#595959"/><path d="M1000 1803.3L1017.7 1814.2" stroke="#111" stroke-width=".6" fill="none"/><path d="M1000 1803.3L1019.3 1811.1A20.8 20.8 0 0 0 1020.8 1803.3Z" fill="#000000"/><path d="M1000 1803.3L1020.4 1807.5" stroke="#4a4a4a" stroke-width=".6" fill="none"/><path d="M1000 1803.3L1020.8 1803.3M1000 1803.3L979.5 1806.9M1000 1803.3L1007.1 1822.8M1000 1803.3L1015.9 1816.6M1000 1803.3L1019.3 1811.1" stroke="#111" stroke-width=".7" fill="none"/><circle cx="1000" cy="1803.3" r="20.8" fill="none" stroke="#2e2e2e" stroke-width="1.1"/>
<circle cx="1000" cy="1841.9" r="20.8" fill="#FFA500"/><path d="M1000 1841.9L1020.8 1841.9A20.8 20.8 0 0 0 1020.5 1838.3Z" fill="#FFFF00"/><path d="M1000 1841.9L1020.5 1838.3A20.8 20.8 0 1 0 986.6 1857.8Z" fill="#FFA500"/><path d="M1000 1841.9L986.6 1857.8A20.8 20.8 0 0 0 1007.1 1861.4Z" fill="#FF0000"/><path d="M1000 1841.9L1007.1 1861.4A20.8 20.8 0 0 0 1010.4 1859.9Z" fill="#228B22"/><path d="M1000 1841.9L1010.4 1859.9A20.8 20.8 0 0 0 1017.4 1853.2Z" fill="#595959"/><path d="M1000 1841.9L1014.1 1857.2" stroke="#111" stroke-width=".6" fill="none"/><path d="M1000 1841.9L1017.4 1853.2A20.8 20.8 0 0 0 1020.8 1841.9Z" fill="#000000"/><path d="M1000 1841.9L1019.2 1849.9M1000 1841.9L1020.6 1845" stroke="#4a4a4a" stroke-width=".6" fill="none"/><path d="M1000 1841.9L1020.8 1841.9M1000 1841.9L1020.5 1838.3M1000 1841.9L986.6 1857.8M1000 1841.9L1007.1 1861.4M1000 1841.9L1010.4 1859.9M1000 1841.9L1017.4 1853.2" stroke="#111" stroke-width=".7" fill="none"/><circle cx="1000" cy="1841.9" r="20.8" fill="none" stroke="#2e2e2e" stroke-width="1.1"/>
<circle cx="1185" cy="1790.4" r="20.8" fill="#FFA500"/><path d="M1185 1790.4L1205.8 1790.4A20.8 20.8 0 0 0 1164.5 1786.8Z" fill="#FFA500"/><path d="M1185 1790.4L1164.5 1786.8A20.8 20.8 0 0 0 1181.4 1810.9Z" fill="#FF0000"/><path d="M1185 1790.4L1181.4 1810.9A20.8 20.8 0 0 0 1195.4 1808.4Z" fill="#595959"/><path d="M1185 1790.4L1195.4 1808.4A20.8 20.8 0 0 0 1202.4 1801.7Z" fill="#595959"/><path d="M1185 1790.4L1199.1 1805.7" stroke="#111" stroke-width=".6" fill="none"/><path d="M1185 1790.4L1202.4 1801.7A20.8 20.8 0 0 0 1205.8 1790.4Z" fill="#000000"/><path d="M1185 1790.4L1204.2 1798.5M1185 1790.4L1205.6 1793.5" stroke="#4a4a4a" stroke-width=".6" fill="none"/><path d="M1185 1790.4L1205.8 1790.4M1185 1790.4L1164.5 1786.8M1185 1790.4L1181.4 1810.9M1185 1790.4L1195.4 1808.4M1185 1790.4L1202.4 1801.7" stroke="#111" stroke-width=".7" fill="none"/><circle cx="1185" cy="1790.4" r="20.8" fill="none" stroke="#2e2e2e" stroke-width="1.1"/>
<circle cx="1185" cy="1816.1" r="20.8" fill="#FFA500"/><path d="M1185 1816.1L1205.8 1816.1A20.8 20.8 0 0 0 1164.5 1812.5Z" fill="#FFA500"/><path d="M1185 1816.1L1164.5 1812.5A20.8 20.8 0 0 0 1195.4 1834.2Z" fill="#FF0000"/><path d="M1185 1816.1L1195.4 1834.2A20.8 20.8 0 0 0 1203 1826.5Z" fill="#595959"/><path d="M1185 1816.1L1203 1826.5A20.8 20.8 0 0 0 1204.9 1822.1Z" fill="#595959"/><path d="M1185 1816.1L1204.9 1822.1A20.8 20.8 0 0 0 1205.8 1816.1Z" fill="#000000"/><path d="M1185 1816.1L1205.6 1819.3" stroke="#4a4a4a" stroke-width=".6" fill="none"/><path d="M1185 1816.1L1205.8 1816.1M1185 1816.1L1164.5 1812.5M1185 1816.1L1195.4 1834.2M1185 1816.1L1203 1826.5M1185 1816.1L1204.9 1822.1" stroke="#111" stroke-width=".7" fill="none"/><circle cx="1185" cy="1816.1" r="20.8" fill="none" stroke="#2e2e2e" stroke-width="1.1"/>
<circle cx="851.5" cy="1553.5" r="20.8" fill="#000000"/><path d="M851.5 1553.5L872.3 1553.5A20.8 20.8 0 0 0 871.6 1548.1Z" fill="#1C75D0"/><path d="M851.5 1553.5L871.6 1548.1A20.8 20.8 0 0 0 869.5 1543.1Z" fill="#FFFF00"/><path d="M851.5 1553.5L869.5 1543.1A20.8 20.8 0 0 0 831 1549.9Z" fill="#00BFFF"/><path d="M851.5 1553.5L831 1549.9A20.8 20.8 0 0 0 832 1560.6Z" fill="#228B22"/><path d="M851.5 1553.5L832 1560.6A20.8 20.8 0 0 0 872.3 1553.5Z" fill="#000000"/><path d="M851.5 1553.5L834.2 1565M851.5 1553.5L838.8 1569.9M851.5 1553.5L840.9 1571.4M851.5 1553.5L847.2 1573.9M851.5 1553.5L854 1574.1M851.5 1553.5L856.6 1573.7M851.5 1553.5L862.8 1571M851.5 1553.5L867.8 1566.4M851.5 1553.5L869.3 1564.3M851.5 1553.5L871.8 1558" stroke="#4a4a4a" stroke-width=".6" fill="none"/><path d="M851.5 1553.5L872.3 1553.5M851.5 1553.5L871.6 1548.1M851.5 1553.5L869.5 1543.1M851.5 1553.5L831 1549.9M851.5 1553.5L832 1560.6" stroke="#111" stroke-width=".7" fill="none"/><circle cx="851.5" cy="1553.5" r="20.8" fill="none" stroke="#2e2e2e" stroke-width="1.1"/>
<circle cx="851.5" cy="1751.8" r="20.8" fill="#00BFFF"/><path d="M851.5 1751.8L872.3 1751.8A20.8 20.8 0 0 0 855.1 1731.3Z" fill="#FFFF00"/><path d="M851.5 1751.8L855.1 1731.3A20.8 20.8 0 0 0 847.9 1731.3Z" fill="#FFA500"/><path d="M851.5 1751.8L847.9 1731.3A20.8 20.8 0 0 0 832 1758.9Z" fill="#00BFFF"/><path d="M851.5 1751.8L832 1758.9A20.8 20.8 0 0 0 844.4 1771.3Z" fill="#228B22"/><path d="M851.5 1751.8L844.4 1771.3A20.8 20.8 0 0 0 855.1 1772.3Z" fill="#BEBEBE"/><path d="M851.5 1751.8L855.1 1772.3A20.8 20.8 0 0 0 872.3 1751.8Z" fill="#000000"/><path d="M851.5 1751.8L859.4 1771M851.5 1751.8L864.7 1767.8M851.5 1751.8L866.5 1766.2M851.5 1751.8L870.1 1761.1M851.5 1751.8L872 1755.2" stroke="#4a4a4a" stroke-width=".6" fill="none"/><path d="M851.5 1751.8L872.3 1751.8M851.5 1751.8L855.1 1731.3M851.5 1751.8L847.9 1731.3M851.5 1751.8L832 1758.9M851.5 1751.8L844.4 1771.3M851.5 1751.8L855.1 1772.3" stroke="#111" stroke-width=".7" fill="none"/><circle cx="851.5" cy="1751.8" r="20.8" fill="none" stroke="#2e2e2e" stroke-width="1.1"/>
<circle cx="1253.9" cy="1738.9" r="20.8" fill="#00BFFF"/><path d="M1253.9 1738.9L1274.7 1738.9A20.8 20.8 0 0 0 1271.9 1728.5Z" fill="#FFFF00"/><path d="M1253.9 1738.9L1271.9 1728.5A20.8 20.8 0 1 0 1238 1752.3Z" fill="#00BFFF"/><path d="M1253.9 1738.9L1238 1752.3A20.8 20.8 0 0 0 1274.7 1738.9Z" fill="#000000"/><path d="M1253.9 1738.9L1241.8 1755.8M1253.9 1738.9L1248.3 1759M1253.9 1738.9L1251.1 1759.5M1253.9 1738.9L1258.3 1759.3M1253.9 1738.9L1265 1756.5M1253.9 1738.9L1267.3 1754.9M1253.9 1738.9L1271.9 1749.3M1253.9 1738.9L1274.4 1742.5" stroke="#4a4a4a" stroke-width=".6" fill="none"/><path d="M1253.9 1738.9L1274.7 1738.9M1253.9 1738.9L1271.9 1728.5M1253.9 1738.9L1238 1752.3" stroke="#111" stroke-width=".7" fill="none"/><circle cx="1253.9" cy="1738.9" r="20.8" fill="none" stroke="#2e2e2e" stroke-width="1.1"/>
<circle cx="1253.9" cy="1764.7" r="20.8" fill="#FFA500"/><path d="M1253.9 1764.7L1274.7 1764.7A20.8 20.8 0 0 0 1269.8 1751.3Z" fill="#FFFF00"/><path d="M1253.9 1764.7L1269.8 1751.3A20.8 20.8 0 0 0 1233.4 1761.1Z" fill="#FFA500"/><path d="M1253.9 1764.7L1233.4 1761.1A20.8 20.8 0 0 0 1233.2 1766.5Z" fill="#00BFFF"/><path d="M1253.9 1764.7L1233.2 1766.5A20.8 20.8 0 0 0 1240.5 1780.6Z" fill="#228B22"/><path d="M1253.9 1764.7L1240.5 1780.6A20.8 20.8 0 0 0 1253.9 1785.5Z" fill="#BEBEBE"/><path d="M1253.9 1764.7L1253.9 1785.5A20.8 20.8 0 0 0 1274.7 1764.7Z" fill="#000000"/><path d="M1253.9 1764.7L1258.9 1784.9M1253.9 1764.7L1265.3 1782.1M1253.9 1764.7L1267.5 1780.4M1253.9 1764.7L1271.9 1775.1M1253.9 1764.7L1274.3 1768.5" stroke="#4a4a4a" stroke-width=".6" fill="none"/><path d="M1253.9 1764.7L1274.7 1764.7M1253.9 1764.7L1269.8 1751.3M1253.9 1764.7L1233.4 1761.1M1253.9 1764.7L1233.2 1766.5M1253.9 1764.7L1240.5 1780.6M1253.9 1764.7L1253.9 1785.5" stroke="#111" stroke-width=".7" fill="none"/><circle cx="1253.9" cy="1764.7" r="20.8" fill="none" stroke="#2e2e2e" stroke-width="1.1"/>
<circle cx="901.1" cy="1464.6" r="20.8" fill="#00BFFF"/><path d="M901.1 1464.6L921.9 1464.6A20.8 20.8 0 0 0 913 1447.6Z" fill="#1C75D0"/><path d="M901.1 1464.6L913 1447.6A20.8 20.8 0 0 0 911.5 1446.6Z" fill="#228B22"/><path d="M901.1 1464.6L911.5 1446.6A20.8 20.8 0 1 0 897.5 1485.1Z" fill="#00BFFF"/><path d="M901.1 1464.6L897.5 1485.1A20.8 20.8 0 0 0 904.7 1485.1Z" fill="#228B22"/><path d="M901.1 1464.6L904.7 1485.1A20.8 20.8 0 0 0 921.9 1464.6Z" fill="#000000"/><path d="M901.1 1464.6L909 1483.8M901.1 1464.6L914.3 1480.7M901.1 1464.6L916.1 1479M901.1 1464.6L919.7 1473.9M901.1 1464.6L921.6 1468.1" stroke="#4a4a4a" stroke-width=".6" fill="none"/><path d="M901.1 1464.6L921.9 1464.6M901.1 1464.6L913 1447.6M901.1 1464.6L911.5 1446.6M901.1 1464.6L897.5 1485.1M901.1 1464.6L904.7 1485.1" stroke="#111" stroke-width=".7" fill="none"/><circle cx="901.1" cy="1464.6" r="20.8" fill="none" stroke="#2e2e2e" stroke-width="1.1"/>
<circle cx="901.1" cy="1642.4" r="20.8" fill="#00BFFF"/><path d="M901.1 1642.4L921.9 1642.4A20.8 20.8 0 0 0 917 1629Z" fill="#1C75D0"/><path d="M901.1 1642.4L917 1629A20.8 20.8 0 0 0 880.6 1646Z" fill="#00BFFF"/><path d="M901.1 1642.4L880.6 1646A20.8 20.8 0 0 0 884.1 1654.3Z" fill="#228B22"/><path d="M901.1 1642.4L884.1 1654.3A20.8 20.8 0 0 0 921.9 1642.4Z" fill="#000000"/><path d="M901.1 1642.4L887.3 1658M901.1 1642.4L893 1661.6M901.1 1642.4L895.5 1662.4M901.1 1642.4L902.2 1663.2M901.1 1642.4L908.8 1661.7M901.1 1642.4L911.2 1660.6M901.1 1642.4L916.4 1656.4M901.1 1642.4L920.1 1650.8M901.1 1642.4L921 1648.3" stroke="#4a4a4a" stroke-width=".6" fill="none"/><path d="M901.1 1642.4L921.9 1642.4M901.1 1642.4L917 1629M901.1 1642.4L880.6 1646M901.1 1642.4L884.1 1654.3" stroke="#111" stroke-width=".7" fill="none"/><circle cx="901.1" cy="1642.4" r="20.8" fill="none" stroke="#2e2e2e" stroke-width="1.1"/>
<circle cx="1080.8" cy="1603.8" r="20.8" fill="#000000"/><path d="M1080.8 1603.8L1101.6 1603.8A20.8 20.8 0 0 0 1100.3 1596.7Z" fill="#1C75D0"/><path d="M1080.8 1603.8L1100.3 1596.7A20.8 20.8 0 0 0 1080.8 1583Z" fill="#00BFFF"/><path d="M1080.8 1603.8L1080.8 1583A20.8 20.8 0 0 0 1073.7 1584.2Z" fill="#228B22"/><path d="M1080.8 1603.8L1073.7 1584.2A20.8 20.8 0 1 0 1101.6 1603.8Z" fill="#000000"/><path d="M1080.8 1603.8L1069 1586.6M1080.8 1603.8L1063.8 1591.7M1080.8 1603.8L1062.4 1594.1M1080.8 1603.8L1060.2 1601.1M1080.8 1603.8L1060.5 1608.3M1080.8 1603.8L1061.3 1611M1080.8 1603.8L1065 1617.3M1080.8 1603.8L1070.6 1621.9M1080.8 1603.8L1073.1 1623.1M1080.8 1603.8L1080.2 1624.6M1080.8 1603.8L1083.1 1624.5M1080.8 1603.8L1090 1622.4M1080.8 1603.8L1095.9 1618.1M1080.8 1603.8L1097.7 1615.9M1080.8 1603.8L1100.8 1609.4" stroke="#4a4a4a" stroke-width=".6" fill="none"/><path d="M1080.8 1603.8L1101.6 1603.8M1080.8 1603.8L1100.3 1596.7M1080.8 1603.8L1080.8 1583M1080.8 1603.8L1073.7 1584.2" stroke="#111" stroke-width=".7" fill="none"/><circle cx="1080.8" cy="1603.8" r="20.8" fill="none" stroke="#2e2e2e" stroke-width="1.1"/>
<circle cx="1080.8" cy="1681" r="20.8" fill="#1C75D0"/><path d="M1080.8 1681L1101.6 1681A20.8 20.8 0 1 0 1099.7 1689.8Z" fill="#1C75D0"/><path d="M1080.8 1681L1099.7 1689.8A20.8 20.8 0 0 0 1100.9 1686.4Z" fill="#00BFFF"/><path d="M1080.8 1681L1100.9 1686.4A20.8 20.8 0 0 0 1101.6 1681Z" fill="#000000"/><path d="M1080.8 1681L1101.4 1683.9" stroke="#4a4a4a" stroke-width=".6" fill="none"/><path d="M1080.8 1681L1101.6 1681M1080.8 1681L1099.7 1689.8M1080.8 1681L1100.9 1686.4" stroke="#111" stroke-width=".7" fill="none"/><circle cx="1080.8" cy="1681" r="20.8" fill="none" stroke="#2e2e2e" stroke-width="1.1"/>
<circle cx="1261.5" cy="1661.7" r="20.8" fill="#1C75D0"/><path d="M1261.5 1661.7L1282.3 1661.7A20.8 20.8 0 1 0 1282.3 1662.1Z" fill="#1C75D0"/><path d="M1261.5 1661.7L1282.3 1662.1A20.8 20.8 0 0 0 1282.3 1661.7Z" fill="#000000"/><path d="M1261.5 1661.7L1282.3 1661.7M1261.5 1661.7L1282.3 1662.1" stroke="#111" stroke-width=".7" fill="none"/><circle cx="1261.5" cy="1661.7" r="20.8" fill="none" stroke="#2e2e2e" stroke-width="1.1"/>
<circle cx="1261.5" cy="1700.3" r="20.8" fill="#1C75D0"/><path d="M1261.5 1700.3L1282.3 1700.3A20.8 20.8 0 1 0 1282.3 1700.7Z" fill="#1C75D0"/><path d="M1261.5 1700.3L1282.3 1700.7A20.8 20.8 0 0 0 1282.3 1700.3Z" fill="#000000"/><path d="M1261.5 1700.3L1282.3 1700.3M1261.5 1700.3L1282.3 1700.7" stroke="#111" stroke-width=".7" fill="none"/><circle cx="1261.5" cy="1700.3" r="20.8" fill="none" stroke="#2e2e2e" stroke-width="1.1"/>
<circle cx="1441.8" cy="1687.4" r="20.8" fill="#1C75D0"/><path d="M1441.8 1687.4L1462.6 1687.4A20.8 20.8 0 1 0 1462.6 1687.8Z" fill="#1C75D0"/><path d="M1441.8 1687.4L1462.6 1687.8A20.8 20.8 0 0 0 1462.6 1687.4Z" fill="#000000"/><path d="M1441.8 1687.4L1462.6 1687.4M1441.8 1687.4L1462.6 1687.8" stroke="#111" stroke-width=".7" fill="none"/><circle cx="1441.8" cy="1687.4" r="20.8" fill="none" stroke="#2e2e2e" stroke-width="1.1"/>
<circle cx="1441.8" cy="1713.2" r="20.8" fill="#1C75D0"/><path d="M1441.8 1713.2L1462.6 1713.2A20.8 20.8 0 1 0 1462.6 1713.5Z" fill="#1C75D0"/><path d="M1441.8 1713.2L1462.6 1713.5A20.8 20.8 0 0 0 1462.6 1713.2Z" fill="#000000"/><path d="M1441.8 1713.2L1462.6 1713.2M1441.8 1713.2L1462.6 1713.5" stroke="#111" stroke-width=".7" fill="none"/><circle cx="1441.8" cy="1713.2" r="20.8" fill="none" stroke="#2e2e2e" stroke-width="1.1"/>
<circle cx="1517.7" cy="1584.5" r="20.8" fill="#FFA500"/><path d="M1517.7 1584.5L1538.5 1584.5A20.8 20.8 0 1 0 1497 1586.3Z" fill="#FFA500"/><path d="M1517.7 1584.5L1497 1586.3A20.8 20.8 0 0 0 1538.5 1584.5Z" fill="#FF0000"/><path d="M1517.7 1584.5L1538.5 1584.5M1517.7 1584.5L1497 1586.3" stroke="#111" stroke-width=".7" fill="none"/><circle cx="1517.7" cy="1584.5" r="20.8" fill="none" stroke="#2e2e2e" stroke-width="1.1"/>
<circle cx="1517.7" cy="1623.1" r="20.8" fill="#595959"/><path d="M1517.7 1623.1L1538.5 1623.1A20.8 20.8 0 0 0 1537.5 1616.7Z" fill="#595959"/><path d="M1517.7 1623.1L1538.3 1620.1" stroke="#111" stroke-width=".6" fill="none"/><path d="M1517.7 1623.1L1537.5 1616.7A20.8 20.8 0 0 0 1533.6 1609.7Z" fill="#000000"/><path d="M1517.7 1623.1L1536 1613.2" stroke="#4a4a4a" stroke-width=".6" fill="none"/><path d="M1517.7 1623.1L1533.6 1609.7A20.8 20.8 0 0 0 1510.6 1603.5Z" fill="#595959"/><path d="M1517.7 1623.1L1530.2 1606.5M1517.7 1623.1L1524.5 1603.4M1517.7 1623.1L1522 1602.7M1517.7 1623.1L1515.5 1602.4" stroke="#111" stroke-width=".6" fill="none"/><path d="M1517.7 1623.1L1510.6 1603.5A20.8 20.8 0 1 0 1538.5 1623.1Z" fill="#595959"/><path d="M1517.7 1623.1L1538.5 1623.1M1517.7 1623.1L1537.5 1616.7M1517.7 1623.1L1533.6 1609.7M1517.7 1623.1L1510.6 1603.5" stroke="#111" stroke-width=".7" fill="none"/><circle cx="1517.7" cy="1623.1" r="20.8" fill="none" stroke="#2e2e2e" stroke-width="1.1"/>
<circle cx="1569.9" cy="1610.2" r="20.8" fill="#FFA500"/><path d="M1569.9 1610.2L1590.7 1610.2A20.8 20.8 0 1 0 1590.7 1610.6Z" fill="#FFA500"/><path d="M1569.9 1610.2L1590.7 1610.6A20.8 20.8 0 0 0 1590.7 1610.2Z" fill="#000000"/><path d="M1569.9 1610.2L1590.7 1610.2M1569.9 1610.2L1590.7 1610.6" stroke="#111" stroke-width=".7" fill="none"/><circle cx="1569.9" cy="1610.2" r="20.8" fill="none" stroke="#2e2e2e" stroke-width="1.1"/>
<circle cx="1569.9" cy="1636" r="20.8" fill="#595959"/><path d="M1569.9 1636L1590.7 1636A20.8 20.8 0 0 0 1590.1 1631.1Z" fill="#595959"/><path d="M1569.9 1636L1590.1 1631.1A20.8 20.8 0 0 0 1587.9 1625.6Z" fill="#000000"/><path d="M1569.9 1636L1589.3 1628.4" stroke="#4a4a4a" stroke-width=".6" fill="none"/><path d="M1569.9 1636L1587.9 1625.6A20.8 20.8 0 0 0 1562.8 1616.4Z" fill="#595959"/><path d="M1569.9 1636L1585.3 1621.9M1569.9 1636L1580.4 1618M1569.9 1636L1578.3 1616.9M1569.9 1636L1572.3 1615.3M1569.9 1636L1566.1 1615.5" stroke="#111" stroke-width=".6" fill="none"/><path d="M1569.9 1636L1562.8 1616.4A20.8 20.8 0 1 0 1590.7 1636Z" fill="#595959"/><path d="M1569.9 1636L1590.7 1636M1569.9 1636L1590.1 1631.1M1569.9 1636L1587.9 1625.6M1569.9 1636L1562.8 1616.4" stroke="#111" stroke-width=".7" fill="none"/><circle cx="1569.9" cy="1636" r="20.8" fill="none" stroke="#2e2e2e" stroke-width="1.1"/>
<circle cx="986.6" cy="1370.5" r="20.8" fill="#00BFFF"/><path d="M986.6 1370.5L1007.4 1370.5A20.8 20.8 0 0 0 984.8 1349.8Z" fill="#1C75D0"/><path d="M986.6 1370.5L984.8 1349.8A20.8 20.8 0 0 0 984.8 1391.2Z" fill="#00BFFF"/><path d="M986.6 1370.5L984.8 1391.2A20.8 20.8 0 0 0 988.4 1391.2Z" fill="#228B22"/><path d="M986.6 1370.5L988.4 1391.2A20.8 20.8 0 0 0 1005.5 1379.3Z" fill="#595959"/><path d="M986.6 1370.5L1005.5 1379.3A20.8 20.8 0 0 0 1006.8 1375.4Z" fill="#595959"/><path d="M986.6 1370.5L1006.8 1375.4A20.8 20.8 0 0 0 1007.4 1370.5Z" fill="#000000"/><path d="M986.6 1370.5L1007.4 1370.5M986.6 1370.5L984.8 1349.8M986.6 1370.5L984.8 1391.2M986.6 1370.5L988.4 1391.2M986.6 1370.5L1005.5 1379.3M986.6 1370.5L1006.8 1375.4" stroke="#111" stroke-width=".7" fill="none"/><circle cx="986.6" cy="1370.5" r="20.8" fill="none" stroke="#2e2e2e" stroke-width="1.1"/>
<circle cx="986.6" cy="1558.7" r="20.8" fill="#00BFFF"/><path d="M986.6 1558.7L1007.4 1558.7A20.8 20.8 0 0 0 1005.5 1549.9Z" fill="#1C75D0"/><path d="M986.6 1558.7L1005.5 1549.9A20.8 20.8 0 0 0 1004.6 1548.3Z" fill="#FFFF00"/><path d="M986.6 1558.7L1004.6 1548.3A20.8 20.8 0 0 0 967.1 1565.8Z" fill="#00BFFF"/><path d="M986.6 1558.7L967.1 1565.8A20.8 20.8 0 0 0 974.7 1575.8Z" fill="#228B22"/><path d="M986.6 1558.7L974.7 1575.8A20.8 20.8 0 0 0 1000 1574.7Z" fill="#BEBEBE"/><path d="M986.6 1558.7L1000 1574.7A20.8 20.8 0 0 0 1005 1568.3Z" fill="#595959"/><path d="M986.6 1558.7L1002.6 1572" stroke="#111" stroke-width=".6" fill="none"/><path d="M986.6 1558.7L1005 1568.3A20.8 20.8 0 0 0 1007.4 1558.7Z" fill="#000000"/><path d="M986.6 1558.7L1006.7 1564" stroke="#4a4a4a" stroke-width=".6" fill="none"/><path d="M986.6 1558.7L1007.4 1558.7M986.6 1558.7L1005.5 1549.9M986.6 1558.7L1004.6 1548.3M986.6 1558.7L967.1 1565.8M986.6 1558.7L974.7 1575.8M986.6 1558.7L1000 1574.7M986.6 1558.7L1005 1568.3" stroke="#111" stroke-width=".7" fill="none"/><circle cx="986.6" cy="1558.7" r="20.8" fill="none" stroke="#2e2e2e" stroke-width="1.1"/>
<circle cx="1072.5" cy="1320.6" r="20.8" fill="#1C75D0"/><path d="M1072.5 1320.6L1093.3 1320.6A20.8 20.8 0 1 0 1093 1324.2Z" fill="#1C75D0"/><path d="M1072.5 1320.6L1093 1324.2A20.8 20.8 0 0 0 1093.3 1320.6Z" fill="#000000"/><path d="M1072.5 1320.6L1093.3 1320.6M1072.5 1320.6L1093 1324.2" stroke="#111" stroke-width=".7" fill="none"/><circle cx="1072.5" cy="1320.6" r="20.8" fill="none" stroke="#2e2e2e" stroke-width="1.1"/>
<circle cx="1072.5" cy="1420.4" r="20.8" fill="#595959"/><path d="M1072.5 1420.4L1093.3 1420.4A20.8 20.8 0 0 0 1068.9 1399.9Z" fill="#1C75D0"/><path d="M1072.5 1420.4L1068.9 1399.9A20.8 20.8 0 0 0 1062.1 1402.4Z" fill="#00BFFF"/><path d="M1072.5 1420.4L1062.1 1402.4A20.8 20.8 0 1 0 1090.5 1430.8Z" fill="#595959"/><path d="M1072.5 1420.4L1090.5 1430.8A20.8 20.8 0 0 0 1092.4 1426.3Z" fill="#595959"/><path d="M1072.5 1420.4L1092.4 1426.3A20.8 20.8 0 0 0 1093.3 1420.4Z" fill="#000000"/><path d="M1072.5 1420.4L1093.1 1423.6" stroke="#4a4a4a" stroke-width=".6" fill="none"/><path d="M1072.5 1420.4L1093.3 1420.4M1072.5 1420.4L1068.9 1399.9M1072.5 1420.4L1062.1 1402.4M1072.5 1420.4L1090.5 1430.8M1072.5 1420.4L1092.4 1426.3" stroke="#111" stroke-width=".7" fill="none"/><circle cx="1072.5" cy="1420.4" r="20.8" fill="none" stroke="#2e2e2e" stroke-width="1.1"/>
<circle cx="1355.6" cy="1378.5" r="20.8" fill="#00BFFF"/><path d="M1355.6 1378.5L1376.4 1378.5A20.8 20.8 0 1 0 1376.3 1380.3Z" fill="#00BFFF"/><path d="M1355.6 1378.5L1376.3 1380.3A20.8 20.8 0 0 0 1376.4 1378.5Z" fill="#000000"/><path d="M1355.6 1378.5L1376.4 1378.5M1355.6 1378.5L1376.3 1380.3" stroke="#111" stroke-width=".7" fill="none"/><circle cx="1355.6" cy="1378.5" r="20.8" fill="none" stroke="#2e2e2e" stroke-width="1.1"/>
<circle cx="1355.6" cy="1462.2" r="20.8" fill="#595959"/><path d="M1355.6 1462.2L1376.4 1462.2A20.8 20.8 0 1 0 1376.1 1465.8Z" fill="#595959"/><path d="M1355.6 1462.2L1376.1 1465.8A20.8 20.8 0 0 0 1376.4 1462.2Z" fill="#000000"/><path d="M1355.6 1462.2L1376.4 1462.2M1355.6 1462.2L1376.1 1465.8" stroke="#111" stroke-width=".7" fill="none"/><circle cx="1355.6" cy="1462.2" r="20.8" fill="none" stroke="#2e2e2e" stroke-width="1.1"/>
<circle cx="1422.1" cy="1423.6" r="20.8" fill="#595959"/><path d="M1422.1 1423.6L1442.9 1423.6A20.8 20.8 0 1 0 1442.8 1425.4Z" fill="#595959"/><path d="M1422.1 1423.6L1442.8 1425.4A20.8 20.8 0 0 0 1442.9 1423.6Z" fill="#000000"/><path d="M1422.1 1423.6L1442.9 1423.6M1422.1 1423.6L1442.8 1425.4" stroke="#111" stroke-width=".7" fill="none"/><circle cx="1422.1" cy="1423.6" r="20.8" fill="none" stroke="#2e2e2e" stroke-width="1.1"/>
<circle cx="1422.1" cy="1500.8" r="20.8" fill="#00BFFF"/><path d="M1422.1 1500.8L1442.9 1500.8A20.8 20.8 0 1 0 1442.8 1502.6Z" fill="#00BFFF"/><path d="M1422.1 1500.8L1442.8 1502.6A20.8 20.8 0 0 0 1442.9 1500.8Z" fill="#000000"/><path d="M1422.1 1500.8L1442.9 1500.8M1422.1 1500.8L1442.8 1502.6" stroke="#111" stroke-width=".7" fill="none"/><circle cx="1422.1" cy="1500.8" r="20.8" fill="none" stroke="#2e2e2e" stroke-width="1.1"/>
<circle cx="1471.7" cy="1481.5" r="20.8" fill="#00BFFF"/><path d="M1471.7 1481.5L1492.5 1481.5A20.8 20.8 0 1 0 1492.5 1481.9Z" fill="#00BFFF"/><path d="M1471.7 1481.5L1492.5 1481.9A20.8 20.8 0 0 0 1492.5 1481.5Z" fill="#000000"/><path d="M1471.7 1481.5L1492.5 1481.5M1471.7 1481.5L1492.5 1481.9" stroke="#111" stroke-width=".7" fill="none"/><circle cx="1471.7" cy="1481.5" r="20.8" fill="none" stroke="#2e2e2e" stroke-width="1.1"/>
<circle cx="1471.7" cy="1520.1" r="20.8" fill="#00BFFF"/><path d="M1471.7 1520.1L1492.5 1520.1A20.8 20.8 0 1 0 1487.6 1533.5Z" fill="#00BFFF"/><path d="M1471.7 1520.1L1487.6 1533.5A20.8 20.8 0 0 0 1492.5 1520.1Z" fill="#595959"/><path d="M1471.7 1520.1L1492.5 1520.1M1471.7 1520.1L1487.6 1533.5" stroke="#111" stroke-width=".7" fill="none"/><circle cx="1471.7" cy="1520.1" r="20.8" fill="none" stroke="#2e2e2e" stroke-width="1.1"/>
<circle cx="1522.6" cy="1507.2" r="20.8" fill="#00BFFF"/><path d="M1522.6 1507.2L1543.4 1507.2A20.8 20.8 0 1 0 1543.1 1510.9Z" fill="#00BFFF"/><path d="M1522.6 1507.2L1543.1 1510.9A20.8 20.8 0 0 0 1543.4 1507.2Z" fill="#000000"/><path d="M1522.6 1507.2L1543.4 1507.2M1522.6 1507.2L1543.1 1510.9" stroke="#111" stroke-width=".7" fill="none"/><circle cx="1522.6" cy="1507.2" r="20.8" fill="none" stroke="#2e2e2e" stroke-width="1.1"/>
<circle cx="1522.6" cy="1533" r="20.8" fill="#FFFF00"/><path d="M1522.6 1533L1543.4 1533A20.8 20.8 0 1 0 1522.6 1553.8Z" fill="#FFFF00"/><path d="M1522.6 1533L1522.6 1553.8A20.8 20.8 0 0 0 1543.1 1536.6Z" fill="#00BFFF"/><path d="M1522.6 1533L1543.1 1536.6A20.8 20.8 0 0 0 1543.4 1533Z" fill="#000000"/><path d="M1522.6 1533L1543.4 1533M1522.6 1533L1522.6 1553.8M1522.6 1533L1543.1 1536.6" stroke="#111" stroke-width=".7" fill="none"/><circle cx="1522.6" cy="1533" r="20.8" fill="none" stroke="#2e2e2e" stroke-width="1.1"/>
<circle cx="1471.7" cy="1404.3" r="20.8" fill="#595959"/><path d="M1471.7 1404.3L1492.5 1404.3A20.8 20.8 0 1 0 1492.5 1404.6Z" fill="#595959"/><path d="M1471.7 1404.3L1492.5 1404.6A20.8 20.8 0 0 0 1492.5 1404.3Z" fill="#000000"/><path d="M1471.7 1404.3L1492.5 1404.3M1471.7 1404.3L1492.5 1404.6" stroke="#111" stroke-width=".7" fill="none"/><circle cx="1471.7" cy="1404.3" r="20.8" fill="none" stroke="#2e2e2e" stroke-width="1.1"/>
<circle cx="1471.7" cy="1442.9" r="20.8" fill="#1C75D0"/><path d="M1471.7 1442.9L1492.5 1442.9A20.8 20.8 0 1 0 1492.5 1443.3Z" fill="#1C75D0"/><path d="M1471.7 1442.9L1492.5 1443.3A20.8 20.8 0 0 0 1492.5 1442.9Z" fill="#000000"/><path d="M1471.7 1442.9L1492.5 1442.9M1471.7 1442.9L1492.5 1443.3" stroke="#111" stroke-width=".7" fill="none"/><circle cx="1471.7" cy="1442.9" r="20.8" fill="none" stroke="#2e2e2e" stroke-width="1.1"/>
<circle cx="1578.5" cy="1430" r="20.8" fill="#1C75D0"/><path d="M1578.5 1430L1599.3 1430A20.8 20.8 0 1 0 1599.3 1430.4Z" fill="#1C75D0"/><path d="M1578.5 1430L1599.3 1430.4A20.8 20.8 0 0 0 1599.3 1430Z" fill="#000000"/><path d="M1578.5 1430L1599.3 1430M1578.5 1430L1599.3 1430.4" stroke="#111" stroke-width=".7" fill="none"/><circle cx="1578.5" cy="1430" r="20.8" fill="none" stroke="#2e2e2e" stroke-width="1.1"/>
<circle cx="1578.5" cy="1455.8" r="20.8" fill="#1C75D0"/><path d="M1578.5 1455.8L1599.3 1455.8A20.8 20.8 0 1 0 1599.3 1456.1Z" fill="#1C75D0"/><path d="M1578.5 1455.8L1599.3 1456.1A20.8 20.8 0 0 0 1599.3 1455.8Z" fill="#000000"/><path d="M1578.5 1455.8L1599.3 1455.8M1578.5 1455.8L1599.3 1456.1" stroke="#111" stroke-width=".7" fill="none"/><circle cx="1578.5" cy="1455.8" r="20.8" fill="none" stroke="#2e2e2e" stroke-width="1.1"/>
<circle cx="1214.9" cy="1301.3" r="20.8" fill="#1C75D0"/><path d="M1214.9 1301.3L1235.7 1301.3A20.8 20.8 0 1 0 1235.7 1301.7Z" fill="#1C75D0"/><path d="M1214.9 1301.3L1235.7 1301.7A20.8 20.8 0 0 0 1235.7 1301.3Z" fill="#000000"/><path d="M1214.9 1301.3L1235.7 1301.3M1214.9 1301.3L1235.7 1301.7" stroke="#111" stroke-width=".7" fill="none"/><circle cx="1214.9" cy="1301.3" r="20.8" fill="none" stroke="#2e2e2e" stroke-width="1.1"/>
<circle cx="1214.9" cy="1339.9" r="20.8" fill="#1C75D0"/><path d="M1214.9 1339.9L1235.7 1339.9A20.8 20.8 0 1 0 1235.7 1340.3Z" fill="#1C75D0"/><path d="M1214.9 1339.9L1235.7 1340.3A20.8 20.8 0 0 0 1235.7 1339.9Z" fill="#000000"/><path d="M1214.9 1339.9L1235.7 1339.9M1214.9 1339.9L1235.7 1340.3" stroke="#111" stroke-width=".7" fill="none"/><circle cx="1214.9" cy="1339.9" r="20.8" fill="none" stroke="#2e2e2e" stroke-width="1.1"/>
<circle cx="1418.8" cy="1327.1" r="20.8" fill="#1C75D0"/><path d="M1418.8 1327.1L1439.6 1327.1A20.8 20.8 0 1 0 1439.6 1327.4Z" fill="#1C75D0"/><path d="M1418.8 1327.1L1439.6 1327.4A20.8 20.8 0 0 0 1439.6 1327.1Z" fill="#000000"/><path d="M1418.8 1327.1L1439.6 1327.1M1418.8 1327.1L1439.6 1327.4" stroke="#111" stroke-width=".7" fill="none"/><circle cx="1418.8" cy="1327.1" r="20.8" fill="none" stroke="#2e2e2e" stroke-width="1.1"/>
<circle cx="1418.8" cy="1352.8" r="20.8" fill="#1C75D0"/><path d="M1418.8 1352.8L1439.6 1352.8A20.8 20.8 0 1 0 1439.6 1353.2Z" fill="#1C75D0"/><path d="M1418.8 1352.8L1439.6 1353.2A20.8 20.8 0 0 0 1439.6 1352.8Z" fill="#000000"/><path d="M1418.8 1352.8L1439.6 1352.8M1418.8 1352.8L1439.6 1353.2" stroke="#111" stroke-width=".7" fill="none"/><circle cx="1418.8" cy="1352.8" r="20.8" fill="none" stroke="#2e2e2e" stroke-width="1.1"/>
<circle cx="753.1" cy="574.2" r="20.8" fill="#BEBEBE"/><path d="M753.1 574.2L773.9 574.2A20.8 20.8 0 0 0 747.7 554.1Z" fill="#FFFF00"/><path d="M753.1 574.2L747.7 554.1A20.8 20.8 0 0 0 741.2 557.1Z" fill="#00BFFF"/><path d="M753.1 574.2L741.2 557.1A20.8 20.8 0 1 0 772 583Z" fill="#BEBEBE"/><path d="M753.1 574.2L772 583A20.8 20.8 0 0 0 773.3 579.1Z" fill="#595959"/><path d="M753.1 574.2L773.3 579.1A20.8 20.8 0 0 0 773.9 574.2Z" fill="#000000"/><path d="M753.1 574.2L773.9 574.2M753.1 574.2L747.7 554.1M753.1 574.2L741.2 557.1M753.1 574.2L772 583M753.1 574.2L773.3 579.1" stroke="#111" stroke-width=".7" fill="none"/><circle cx="753.1" cy="574.2" r="20.8" fill="none" stroke="#2e2e2e" stroke-width="1.1"/>
<circle cx="753.1" cy="1262.7" r="20.8" fill="#BEBEBE"/><path d="M753.1 1262.7L773.9 1262.7A20.8 20.8 0 0 0 751.3 1242Z" fill="#FFFF00"/><path d="M753.1 1262.7L751.3 1242A20.8 20.8 0 0 0 736.1 1250.8Z" fill="#00BFFF"/><path d="M753.1 1262.7L736.1 1250.8A20.8 20.8 0 0 0 735.1 1252.3Z" fill="#228B22"/><path d="M753.1 1262.7L735.1 1252.3A20.8 20.8 0 1 0 772 1271.5Z" fill="#BEBEBE"/><path d="M753.1 1262.7L772 1271.5A20.8 20.8 0 0 0 773.3 1267.6Z" fill="#595959"/><path d="M753.1 1262.7L773.3 1267.6A20.8 20.8 0 0 0 773.9 1262.7Z" fill="#000000"/><path d="M753.1 1262.7L773.9 1262.7M753.1 1262.7L751.3 1242M753.1 1262.7L736.1 1250.8M753.1 1262.7L735.1 1252.3M753.1 1262.7L772 1271.5M753.1 1262.7L773.3 1267.6" stroke="#111" stroke-width=".7" fill="none"/><circle cx="753.1" cy="1262.7" r="20.8" fill="none" stroke="#2e2e2e" stroke-width="1.1"/>
<circle cx="1523.3" cy="1249.8" r="20.8" fill="#595959"/><path d="M1523.3 1249.8L1544.1 1249.8A20.8 20.8 0 0 0 1541.8 1240.4Z" fill="#595959"/><path d="M1523.3 1249.8L1543.6 1245.3" stroke="#111" stroke-width=".6" fill="none"/><path d="M1523.3 1249.8L1541.8 1240.4A20.8 20.8 0 0 0 1533.7 1231.8Z" fill="#000000"/><path d="M1523.3 1249.8L1539.9 1237.2M1523.3 1249.8L1536.3 1233.6" stroke="#4a4a4a" stroke-width=".6" fill="none"/><path d="M1523.3 1249.8L1533.7 1231.8A20.8 20.8 0 1 0 1544.1 1249.8Z" fill="#595959"/><path d="M1523.3 1249.8L1528.8 1229.8M1523.3 1249.8L1521.5 1229.1M1523.3 1249.8L1518.7 1229.5M1523.3 1249.8L1511.9 1232.4M1523.3 1249.8L1506.6 1237.4M1523.3 1249.8L1505 1239.9M1523.3 1249.8L1502.7 1246.8M1523.3 1249.8L1503 1254.1M1523.3 1249.8L1503.7 1256.9M1523.3 1249.8L1507.4 1263.2M1523.3 1249.8L1509.4 1265.3M1523.3 1249.8L1515.6 1269.2M1523.3 1249.8L1522.8 1270.6M1523.3 1249.8L1525.7 1270.5M1523.3 1249.8L1532.7 1268.4M1523.3 1249.8L1538.5 1264M1523.3 1249.8L1540.3 1261.7M1523.3 1249.8L1543.4 1255.1" stroke="#111" stroke-width=".6" fill="none"/><path d="M1523.3 1249.8L1544.1 1249.8M1523.3 1249.8L1541.8 1240.4M1523.3 1249.8L1533.7 1231.8" stroke="#111" stroke-width=".7" fill="none"/><circle cx="1523.3" cy="1249.8" r="20.8" fill="none" stroke="#2e2e2e" stroke-width="1.1"/>
<circle cx="1523.3" cy="1275.6" r="20.8" fill="#BEBEBE"/><path d="M1523.3 1275.6L1544.1 1275.6A20.8 20.8 0 1 0 1544.1 1275.9Z" fill="#BEBEBE"/><path d="M1523.3 1275.6L1544.1 1275.9A20.8 20.8 0 0 0 1544.1 1275.6Z" fill="#000000"/><path d="M1523.3 1275.6L1544.1 1275.6M1523.3 1275.6L1544.1 1275.9" stroke="#111" stroke-width=".7" fill="none"/><circle cx="1523.3" cy="1275.6" r="20.8" fill="none" stroke="#2e2e2e" stroke-width="1.1"/>
<circle cx="827.2" cy="440" r="20.8" fill="#BEBEBE"/><path d="M827.2 440L848 440A20.8 20.8 0 0 0 823.6 419.5Z" fill="#FFFF00"/><path d="M827.2 440L823.6 419.5A20.8 20.8 0 0 0 816.8 422Z" fill="#00BFFF"/><path d="M827.2 440L816.8 422A20.8 20.8 0 1 0 846.1 448.8Z" fill="#BEBEBE"/><path d="M827.2 440L846.1 448.8A20.8 20.8 0 0 0 847.4 444.9Z" fill="#595959"/><path d="M827.2 440L847.4 444.9A20.8 20.8 0 0 0 848 440Z" fill="#000000"/><path d="M827.2 440L848 440M827.2 440L823.6 419.5M827.2 440L816.8 422M827.2 440L846.1 448.8M827.2 440L847.4 444.9" stroke="#111" stroke-width=".7" fill="none"/><circle cx="827.2" cy="440" r="20.8" fill="none" stroke="#2e2e2e" stroke-width="1.1"/>
<circle cx="827.2" cy="708.4" r="20.8" fill="#BEBEBE"/><path d="M827.2 708.4L848 708.4A20.8 20.8 0 0 0 825.4 687.7Z" fill="#FFFF00"/><path d="M827.2 708.4L825.4 687.7A20.8 20.8 0 0 0 821.8 688.3Z" fill="#00BFFF"/><path d="M827.2 708.4L821.8 688.3A20.8 20.8 0 1 0 846.1 717.2Z" fill="#BEBEBE"/><path d="M827.2 708.4L846.1 717.2A20.8 20.8 0 0 0 847.4 713.3Z" fill="#595959"/><path d="M827.2 708.4L847.4 713.3A20.8 20.8 0 0 0 848 708.4Z" fill="#000000"/><path d="M827.2 708.4L848 708.4M827.2 708.4L825.4 687.7M827.2 708.4L821.8 688.3M827.2 708.4L846.1 717.2M827.2 708.4L847.4 713.3" stroke="#111" stroke-width=".7" fill="none"/><circle cx="827.2" cy="708.4" r="20.8" fill="none" stroke="#2e2e2e" stroke-width="1.1"/>
<circle cx="928.7" cy="580.5" r="20.8" fill="#BEBEBE"/><path d="M928.7 580.5L949.5 580.5A20.8 20.8 0 0 0 930.5 559.8Z" fill="#FFFF00"/><path d="M928.7 580.5L930.5 559.8A20.8 20.8 0 0 0 925.1 560Z" fill="#00BFFF"/><path d="M928.7 580.5L925.1 560A20.8 20.8 0 1 0 947.6 589.3Z" fill="#BEBEBE"/><path d="M928.7 580.5L947.6 589.3A20.8 20.8 0 0 0 948.9 585.5Z" fill="#595959"/><path d="M928.7 580.5L948.9 585.5A20.8 20.8 0 0 0 949.5 580.5Z" fill="#000000"/><path d="M928.7 580.5L949.5 580.5M928.7 580.5L930.5 559.8M928.7 580.5L925.1 560M928.7 580.5L947.6 589.3M928.7 580.5L948.9 585.5" stroke="#111" stroke-width=".7" fill="none"/><circle cx="928.7" cy="580.5" r="20.8" fill="none" stroke="#2e2e2e" stroke-width="1.1"/>
<circle cx="928.7" cy="836.2" r="20.8" fill="#BEBEBE"/><path d="M928.7 836.2L949.5 836.2A20.8 20.8 0 0 0 930.5 815.5Z" fill="#FFFF00"/><path d="M928.7 836.2L930.5 815.5A20.8 20.8 0 0 0 926.9 815.5Z" fill="#00BFFF"/><path d="M928.7 836.2L926.9 815.5A20.8 20.8 0 1 0 947.6 845Z" fill="#BEBEBE"/><path d="M928.7 836.2L947.6 845A20.8 20.8 0 0 0 948.9 841.2Z" fill="#595959"/><path d="M928.7 836.2L948.9 841.2A20.8 20.8 0 0 0 949.5 836.2Z" fill="#000000"/><path d="M928.7 836.2L949.5 836.2M928.7 836.2L930.5 815.5M928.7 836.2L926.9 815.5M928.7 836.2L947.6 845M928.7 836.2L948.9 841.2" stroke="#111" stroke-width=".7" fill="none"/><circle cx="928.7" cy="836.2" r="20.8" fill="none" stroke="#2e2e2e" stroke-width="1.1"/>
<circle cx="986" cy="661.8" r="20.8" fill="#BEBEBE"/><path d="M986 661.8L1006.8 661.8A20.8 20.8 0 0 0 988.9 641.2Z" fill="#FFFF00"/><path d="M986 661.8L988.9 641.2A20.8 20.8 0 0 0 986 641Z" fill="#00BFFF"/><path d="M986 661.8L986 641A20.8 20.8 0 1 0 1005.5 668.9Z" fill="#BEBEBE"/><path d="M986 661.8L1005.5 668.9A20.8 20.8 0 0 0 1006.8 661.8Z" fill="#000000"/><path d="M986 661.8L1006.4 665.6" stroke="#4a4a4a" stroke-width=".6" fill="none"/><path d="M986 661.8L1006.8 661.8M986 661.8L988.9 641.2M986 661.8L986 641M986 661.8L1005.5 668.9" stroke="#111" stroke-width=".7" fill="none"/><circle cx="986" cy="661.8" r="20.8" fill="none" stroke="#2e2e2e" stroke-width="1.1"/>
<circle cx="986" cy="1010.7" r="20.8" fill="#BEBEBE"/><path d="M986 1010.7L1006.8 1010.7A20.8 20.8 0 0 0 993.1 991.2Z" fill="#FFFF00"/><path d="M986 1010.7L993.1 991.2A20.8 20.8 0 0 0 989.6 990.2Z" fill="#00BFFF"/><path d="M986 1010.7L989.6 990.2A20.8 20.8 0 1 0 1005.5 1017.8Z" fill="#BEBEBE"/><path d="M986 1010.7L1005.5 1017.8A20.8 20.8 0 0 0 1006.8 1010.7Z" fill="#000000"/><path d="M986 1010.7L1006.4 1014.6" stroke="#4a4a4a" stroke-width=".6" fill="none"/><path d="M986 1010.7L1006.8 1010.7M986 1010.7L993.1 991.2M986 1010.7L989.6 990.2M986 1010.7L1005.5 1017.8" stroke="#111" stroke-width=".7" fill="none"/><circle cx="986" cy="1010.7" r="20.8" fill="none" stroke="#2e2e2e" stroke-width="1.1"/>
<circle cx="1024.9" cy="909.5" r="20.8" fill="#BEBEBE"/><path d="M1024.9 909.5L1045.7 909.5A20.8 20.8 0 0 0 1033.7 890.7Z" fill="#FFFF00"/><path d="M1024.9 909.5L1033.7 890.7A20.8 20.8 0 0 0 1028.5 889.1Z" fill="#00BFFF"/><path d="M1024.9 909.5L1028.5 889.1A20.8 20.8 0 1 0 1045 914.9Z" fill="#BEBEBE"/><path d="M1024.9 909.5L1045 914.9A20.8 20.8 0 0 0 1045.7 909.5Z" fill="#000000"/><path d="M1024.9 909.5L1045.5 912.5" stroke="#4a4a4a" stroke-width=".6" fill="none"/><path d="M1024.9 909.5L1045.7 909.5M1024.9 909.5L1033.7 890.7M1024.9 909.5L1028.5 889.1M1024.9 909.5L1045 914.9" stroke="#111" stroke-width=".7" fill="none"/><circle cx="1024.9" cy="909.5" r="20.8" fill="none" stroke="#2e2e2e" stroke-width="1.1"/>
<circle cx="1024.9" cy="1111.9" r="20.8" fill="#BEBEBE"/><path d="M1024.9 1111.9L1045.7 1111.9A20.8 20.8 0 0 0 1033.7 1093Z" fill="#FFFF00"/><path d="M1024.9 1111.9L1033.7 1093A20.8 20.8 0 0 0 1028.5 1091.4Z" fill="#00BFFF"/><path d="M1024.9 1111.9L1028.5 1091.4A20.8 20.8 0 1 0 1045 1117.2Z" fill="#BEBEBE"/><path d="M1024.9 1111.9L1045 1117.2A20.8 20.8 0 0 0 1045.7 1111.9Z" fill="#000000"/><path d="M1024.9 1111.9L1045.5 1114.8" stroke="#4a4a4a" stroke-width=".6" fill="none"/><path d="M1024.9 1111.9L1045.7 1111.9M1024.9 1111.9L1033.7 1093M1024.9 1111.9L1028.5 1091.4M1024.9 1111.9L1045 1117.2" stroke="#111" stroke-width=".7" fill="none"/><circle cx="1024.9" cy="1111.9" r="20.8" fill="none" stroke="#2e2e2e" stroke-width="1.1"/>
<circle cx="1179.6" cy="1031" r="20.8" fill="#BEBEBE"/><path d="M1179.6 1031L1200.4 1031A20.8 20.8 0 0 0 1190 1013Z" fill="#FFFF00"/><path d="M1179.6 1031L1190 1013A20.8 20.8 0 0 0 1160.7 1022.2Z" fill="#00BFFF"/><path d="M1179.6 1031L1160.7 1022.2A20.8 20.8 0 0 0 1195.5 1044.4Z" fill="#BEBEBE"/><path d="M1179.6 1031L1195.5 1044.4A20.8 20.8 0 0 0 1198.9 1038.8Z" fill="#595959"/><path d="M1179.6 1031L1197.3 1041.9" stroke="#111" stroke-width=".6" fill="none"/><path d="M1179.6 1031L1198.9 1038.8A20.8 20.8 0 0 0 1200.4 1031Z" fill="#000000"/><path d="M1179.6 1031L1200 1035.3" stroke="#4a4a4a" stroke-width=".6" fill="none"/><path d="M1179.6 1031L1200.4 1031M1179.6 1031L1190 1013M1179.6 1031L1160.7 1022.2M1179.6 1031L1195.5 1044.4M1179.6 1031L1198.9 1038.8" stroke="#111" stroke-width=".7" fill="none"/><circle cx="1179.6" cy="1031" r="20.8" fill="none" stroke="#2e2e2e" stroke-width="1.1"/>
<circle cx="1179.6" cy="1192.7" r="20.8" fill="#BEBEBE"/><path d="M1179.6 1192.7L1200.4 1192.7A20.8 20.8 0 0 0 1188.4 1173.9Z" fill="#FFFF00"/><path d="M1179.6 1192.7L1188.4 1173.9A20.8 20.8 0 0 0 1185 1172.6Z" fill="#00BFFF"/><path d="M1179.6 1192.7L1185 1172.6A20.8 20.8 0 0 0 1183.2 1172.2Z" fill="#228B22"/><path d="M1179.6 1192.7L1183.2 1172.2A20.8 20.8 0 1 0 1186.7 1212.3Z" fill="#BEBEBE"/><path d="M1179.6 1192.7L1186.7 1212.3A20.8 20.8 0 0 0 1195.9 1205.7Z" fill="#595959"/><path d="M1179.6 1192.7L1191.4 1209.8" stroke="#111" stroke-width=".6" fill="none"/><path d="M1179.6 1192.7L1195.9 1205.7A20.8 20.8 0 0 0 1200.4 1192.7Z" fill="#000000"/><path d="M1179.6 1192.7L1198.2 1202M1179.6 1192.7L1200.1 1196.4" stroke="#4a4a4a" stroke-width=".6" fill="none"/><path d="M1179.6 1192.7L1200.4 1192.7M1179.6 1192.7L1188.4 1173.9M1179.6 1192.7L1185 1172.6M1179.6 1192.7L1183.2 1172.2M1179.6 1192.7L1186.7 1212.3M1179.6 1192.7L1195.9 1205.7" stroke="#111" stroke-width=".7" fill="none"/><circle cx="1179.6" cy="1192.7" r="20.8" fill="none" stroke="#2e2e2e" stroke-width="1.1"/>
<circle cx="1334" cy="1161.3" r="20.8" fill="#BEBEBE"/><path d="M1334 1161.3L1354.8 1161.3A20.8 20.8 0 0 0 1353.5 1154.2Z" fill="#FFFF00"/><path d="M1334 1161.3L1353.5 1154.2A20.8 20.8 0 0 0 1337.6 1140.9Z" fill="#228B22"/><path d="M1334 1161.3L1337.6 1140.9A20.8 20.8 0 1 0 1337.6 1181.8Z" fill="#BEBEBE"/><path d="M1334 1161.3L1337.6 1181.8A20.8 20.8 0 0 0 1349 1175.8Z" fill="#595959"/><path d="M1334 1161.3L1341.5 1180.7M1334 1161.3L1346.4 1178" stroke="#111" stroke-width=".6" fill="none"/><path d="M1334 1161.3L1349 1175.8A20.8 20.8 0 0 0 1354.8 1161.3Z" fill="#000000"/><path d="M1334 1161.3L1351.9 1171.9M1334 1161.3L1354.4 1165.5" stroke="#4a4a4a" stroke-width=".6" fill="none"/><path d="M1334 1161.3L1354.8 1161.3M1334 1161.3L1353.5 1154.2M1334 1161.3L1337.6 1140.9M1334 1161.3L1337.6 1181.8M1334 1161.3L1349 1175.8" stroke="#111" stroke-width=".7" fill="none"/><circle cx="1334" cy="1161.3" r="20.8" fill="none" stroke="#2e2e2e" stroke-width="1.1"/>
<circle cx="1334" cy="1224.1" r="20.8" fill="#BEBEBE"/><path d="M1334 1224.1L1354.8 1224.1A20.8 20.8 0 0 0 1352 1213.7Z" fill="#FFFF00"/><path d="M1334 1224.1L1352 1213.7A20.8 20.8 0 0 0 1341.1 1204.5Z" fill="#228B22"/><path d="M1334 1224.1L1341.1 1204.5A20.8 20.8 0 1 0 1330.4 1244.6Z" fill="#BEBEBE"/><path d="M1334 1224.1L1330.4 1244.6A20.8 20.8 0 0 0 1354.8 1224.1Z" fill="#595959"/><path d="M1334 1224.1L1335.2 1244.8M1334 1224.1L1341.7 1243.4M1334 1224.1L1344 1242.3M1334 1224.1L1349.2 1238.2M1334 1224.1L1352.9 1232.7M1334 1224.1L1353.9 1230.3" stroke="#111" stroke-width=".6" fill="none"/><path d="M1334 1224.1L1354.8 1224.1M1334 1224.1L1352 1213.7M1334 1224.1L1341.1 1204.5M1334 1224.1L1330.4 1244.6" stroke="#111" stroke-width=".7" fill="none"/><circle cx="1334" cy="1224.1" r="20.8" fill="none" stroke="#2e2e2e" stroke-width="1.1"/>
<circle cx="1485.4" cy="1124.3" r="20.8" fill="#595959"/><path d="M1485.4 1124.3L1506.2 1124.3A20.8 20.8 0 0 0 1485.4 1103.5Z" fill="#228B22"/><path d="M1485.4 1124.3L1485.4 1103.5A20.8 20.8 0 0 0 1464.9 1127.9Z" fill="#BEBEBE"/><path d="M1485.4 1124.3L1464.9 1127.9A20.8 20.8 0 0 0 1506.2 1124.3Z" fill="#595959"/><path d="M1485.4 1124.3L1466.5 1132.9M1485.4 1124.3L1470.5 1138.8M1485.4 1124.3L1472.6 1140.7M1485.4 1124.3L1478.9 1144.1M1485.4 1124.3L1486 1145.1M1485.4 1124.3L1488.8 1144.9M1485.4 1124.3L1495.6 1142.5M1485.4 1124.3L1501.1 1137.9M1485.4 1124.3L1502.8 1135.7M1485.4 1124.3L1505.6 1129.1" stroke="#111" stroke-width=".6" fill="none"/><path d="M1485.4 1124.3L1506.2 1124.3M1485.4 1124.3L1485.4 1103.5M1485.4 1124.3L1464.9 1127.9" stroke="#111" stroke-width=".7" fill="none"/><circle cx="1485.4" cy="1124.3" r="20.8" fill="none" stroke="#2e2e2e" stroke-width="1.1"/>
<circle cx="1485.4" cy="1198.3" r="20.8" fill="#BEBEBE"/><path d="M1485.4 1198.3L1506.2 1198.3A20.8 20.8 0 0 0 1478.3 1178.8Z" fill="#228B22"/><path d="M1485.4 1198.3L1478.3 1178.8A20.8 20.8 0 1 0 1495.8 1216.4Z" fill="#BEBEBE"/><path d="M1485.4 1198.3L1495.8 1216.4A20.8 20.8 0 0 0 1506.2 1198.3Z" fill="#595959"/><path d="M1485.4 1198.3L1506.2 1198.3M1485.4 1198.3L1478.3 1178.8M1485.4 1198.3L1495.8 1216.4" stroke="#111" stroke-width=".7" fill="none"/><circle cx="1485.4" cy="1198.3" r="20.8" fill="none" stroke="#2e2e2e" stroke-width="1.1"/>
<circle cx="1506.7" cy="1088.9" r="20.8" fill="#BEBEBE"/><path d="M1506.7 1088.9L1527.5 1088.9A20.8 20.8 0 0 0 1503.1 1068.5Z" fill="#228B22"/><path d="M1506.7 1088.9L1503.1 1068.5A20.8 20.8 0 0 0 1503.1 1109.4Z" fill="#BEBEBE"/><path d="M1506.7 1088.9L1503.1 1109.4A20.8 20.8 0 0 0 1518.6 1106Z" fill="#595959"/><path d="M1506.7 1088.9L1508.1 1109.7M1506.7 1088.9L1514.9 1108.1" stroke="#111" stroke-width=".6" fill="none"/><path d="M1506.7 1088.9L1518.6 1106A20.8 20.8 0 0 0 1527.5 1088.9Z" fill="#000000"/><path d="M1506.7 1088.9L1522.1 1102.9M1506.7 1088.9L1525.6 1097.6M1506.7 1088.9L1526.5 1095.3" stroke="#4a4a4a" stroke-width=".6" fill="none"/><path d="M1506.7 1088.9L1527.5 1088.9M1506.7 1088.9L1503.1 1068.5M1506.7 1088.9L1503.1 1109.4M1506.7 1088.9L1518.6 1106" stroke="#111" stroke-width=".7" fill="none"/><circle cx="1506.7" cy="1088.9" r="20.8" fill="none" stroke="#2e2e2e" stroke-width="1.1"/>
<circle cx="1506.7" cy="1159.7" r="20.8" fill="#228B22"/><path d="M1506.7 1159.7L1527.5 1159.7A20.8 20.8 0 0 0 1527.3 1156.8Z" fill="#FFA500"/><path d="M1506.7 1159.7L1527.3 1156.8A20.8 20.8 0 0 0 1488.7 1149.3Z" fill="#228B22"/><path d="M1506.7 1159.7L1488.7 1149.3A20.8 20.8 0 0 0 1503.1 1180.2Z" fill="#BEBEBE"/><path d="M1506.7 1159.7L1503.1 1180.2A20.8 20.8 0 0 0 1527.5 1159.7Z" fill="#595959"/><path d="M1506.7 1159.7L1507.9 1180.5M1506.7 1159.7L1514.4 1179.1M1506.7 1159.7L1516.7 1178M1506.7 1159.7L1521.9 1173.9M1506.7 1159.7L1525.6 1168.3M1506.7 1159.7L1526.6 1165.9" stroke="#111" stroke-width=".6" fill="none"/><path d="M1506.7 1159.7L1527.5 1159.7M1506.7 1159.7L1527.3 1156.8M1506.7 1159.7L1488.7 1149.3M1506.7 1159.7L1503.1 1180.2" stroke="#111" stroke-width=".7" fill="none"/><circle cx="1506.7" cy="1159.7" r="20.8" fill="none" stroke="#2e2e2e" stroke-width="1.1"/>
<circle cx="1549.3" cy="1146.9" r="20.8" fill="#595959"/><path d="M1549.3 1146.9L1570.1 1146.9A20.8 20.8 0 0 0 1545.7 1126.4Z" fill="#228B22"/><path d="M1549.3 1146.9L1545.7 1126.4A20.8 20.8 0 1 0 1570.1 1146.9Z" fill="#595959"/><path d="M1549.3 1146.9L1570.1 1146.9M1549.3 1146.9L1545.7 1126.4" stroke="#111" stroke-width=".7" fill="none"/><circle cx="1549.3" cy="1146.9" r="20.8" fill="none" stroke="#2e2e2e" stroke-width="1.1"/>
<circle cx="1549.3" cy="1172.6" r="20.8" fill="#228B22"/><path d="M1549.3 1172.6L1570.1 1172.6A20.8 20.8 0 1 0 1570.1 1173Z" fill="#228B22"/><path d="M1549.3 1172.6L1570.1 1173A20.8 20.8 0 0 0 1570.1 1172.6Z" fill="#000000"/><path d="M1549.3 1172.6L1570.1 1172.6M1549.3 1172.6L1570.1 1173" stroke="#111" stroke-width=".7" fill="none"/><circle cx="1549.3" cy="1172.6" r="20.8" fill="none" stroke="#2e2e2e" stroke-width="1.1"/>
<circle cx="1545.3" cy="1069.6" r="20.8" fill="#BEBEBE"/><path d="M1545.3 1069.6L1566.1 1069.6A20.8 20.8 0 0 0 1545.3 1048.8Z" fill="#228B22"/><path d="M1545.3 1069.6L1545.3 1048.8A20.8 20.8 0 1 0 1561.2 1083Z" fill="#BEBEBE"/><path d="M1545.3 1069.6L1561.2 1083A20.8 20.8 0 0 0 1566.1 1069.6Z" fill="#595959"/><path d="M1545.3 1069.6L1566.1 1069.6M1545.3 1069.6L1545.3 1048.8M1545.3 1069.6L1561.2 1083" stroke="#111" stroke-width=".7" fill="none"/><circle cx="1545.3" cy="1069.6" r="20.8" fill="none" stroke="#2e2e2e" stroke-width="1.1"/>
<circle cx="1545.3" cy="1108.2" r="20.8" fill="#BEBEBE"/><path d="M1545.3 1108.2L1566.1 1108.2A20.8 20.8 0 0 0 1541.7 1087.8Z" fill="#228B22"/><path d="M1545.3 1108.2L1541.7 1087.8A20.8 20.8 0 0 0 1531.9 1124.2Z" fill="#BEBEBE"/><path d="M1545.3 1108.2L1531.9 1124.2A20.8 20.8 0 0 0 1551.9 1128Z" fill="#595959"/><path d="M1545.3 1108.2L1536 1126.9M1545.3 1108.2L1542.5 1128.9M1545.3 1108.2L1545.2 1129" stroke="#111" stroke-width=".6" fill="none"/><path d="M1545.3 1108.2L1551.9 1128A20.8 20.8 0 0 0 1566.1 1108.2Z" fill="#000000"/><path d="M1545.3 1108.2L1556.3 1125.9M1545.3 1108.2L1561.3 1121.6M1545.3 1108.2L1562.8 1119.5M1545.3 1108.2L1565.5 1113.4" stroke="#4a4a4a" stroke-width=".6" fill="none"/><path d="M1545.3 1108.2L1566.1 1108.2M1545.3 1108.2L1541.7 1087.8M1545.3 1108.2L1531.9 1124.2M1545.3 1108.2L1551.9 1128" stroke="#111" stroke-width=".7" fill="none"/><circle cx="1545.3" cy="1108.2" r="20.8" fill="none" stroke="#2e2e2e" stroke-width="1.1"/>
<circle cx="1565.9" cy="1095.4" r="20.8" fill="#595959"/><path d="M1565.9 1095.4L1586.7 1095.4A20.8 20.8 0 0 0 1586.5 1092.5Z" fill="#FFFF00"/><path d="M1565.9 1095.4L1586.5 1092.5A20.8 20.8 0 0 0 1578.4 1078.8Z" fill="#228B22"/><path d="M1565.9 1095.4L1578.4 1078.8A20.8 20.8 0 0 0 1547.4 1085.9Z" fill="#BEBEBE"/><path d="M1565.9 1095.4L1547.4 1085.9A20.8 20.8 0 1 0 1586.7 1095.4Z" fill="#595959"/><path d="M1565.9 1095.4L1545.6 1091M1565.9 1095.4L1545.3 1098.4M1565.9 1095.4L1545.9 1101.2M1565.9 1095.4L1549.2 1107.8M1565.9 1095.4L1554.6 1112.8M1565.9 1095.4L1557.2 1114.2M1565.9 1095.4L1564.3 1116.1M1565.9 1095.4L1571.7 1115.4M1565.9 1095.4L1574.4 1114.4M1565.9 1095.4L1580.5 1110.2M1565.9 1095.4L1582.4 1108M1565.9 1095.4L1585.8 1101.5" stroke="#111" stroke-width=".6" fill="none"/><path d="M1565.9 1095.4L1586.7 1095.4M1565.9 1095.4L1586.5 1092.5M1565.9 1095.4L1578.4 1078.8M1565.9 1095.4L1547.4 1085.9" stroke="#111" stroke-width=".7" fill="none"/><circle cx="1565.9" cy="1095.4" r="20.8" fill="none" stroke="#2e2e2e" stroke-width="1.1"/>
<circle cx="1565.9" cy="1121.1" r="20.8" fill="#BEBEBE"/><path d="M1565.9 1121.1L1586.7 1121.1A20.8 20.8 0 0 0 1583.9 1110.7Z" fill="#FFFF00"/><path d="M1565.9 1121.1L1583.9 1110.7A20.8 20.8 0 0 0 1562.3 1100.6Z" fill="#228B22"/><path d="M1565.9 1121.1L1562.3 1100.6A20.8 20.8 0 1 0 1576.3 1139.1Z" fill="#BEBEBE"/><path d="M1565.9 1121.1L1576.3 1139.1A20.8 20.8 0 0 0 1586.7 1121.1Z" fill="#595959"/><path d="M1565.9 1121.1L1586.7 1121.1M1565.9 1121.1L1583.9 1110.7M1565.9 1121.1L1562.3 1100.6M1565.9 1121.1L1576.3 1139.1" stroke="#111" stroke-width=".7" fill="none"/><circle cx="1565.9" cy="1121.1" r="20.8" fill="none" stroke="#2e2e2e" stroke-width="1.1"/>
<circle cx="1536" cy="1018.1" r="20.8" fill="#595959"/><path d="M1536 1018.1L1556.8 1018.1A20.8 20.8 0 0 0 1528.9 998.6Z" fill="#FFFF00"/><path d="M1536 1018.1L1528.9 998.6A20.8 20.8 0 0 0 1524.1 1001.1Z" fill="#FFA500"/><path d="M1536 1018.1L1524.1 1001.1A20.8 20.8 0 1 0 1556.8 1018.1Z" fill="#595959"/><path d="M1536 1018.1L1556.8 1018.1M1536 1018.1L1528.9 998.6M1536 1018.1L1524.1 1001.1" stroke="#111" stroke-width=".7" fill="none"/><circle cx="1536" cy="1018.1" r="20.8" fill="none" stroke="#2e2e2e" stroke-width="1.1"/>
<circle cx="1536" cy="1043.9" r="20.8" fill="#00BFFF"/><path d="M1536 1043.9L1556.8 1043.9A20.8 20.8 0 1 0 1555.5 1051Z" fill="#00BFFF"/><path d="M1536 1043.9L1555.5 1051A20.8 20.8 0 0 0 1556.8 1043.9Z" fill="#000000"/><path d="M1536 1043.9L1556.4 1047.8" stroke="#4a4a4a" stroke-width=".6" fill="none"/><path d="M1536 1043.9L1556.8 1043.9M1536 1043.9L1555.5 1051" stroke="#111" stroke-width=".7" fill="none"/><circle cx="1536" cy="1043.9" r="20.8" fill="none" stroke="#2e2e2e" stroke-width="1.1"/>
<circle cx="1110.8" cy="865.3" r="20.8" fill="#BEBEBE"/><path d="M1110.8 865.3L1131.6 865.3A20.8 20.8 0 0 0 1122.7 848.3Z" fill="#FFFF00"/><path d="M1110.8 865.3L1122.7 848.3A20.8 20.8 0 0 0 1117.9 845.8Z" fill="#228B22"/><path d="M1110.8 865.3L1117.9 845.8A20.8 20.8 0 1 0 1130.3 872.4Z" fill="#BEBEBE"/><path d="M1110.8 865.3L1130.3 872.4A20.8 20.8 0 0 0 1131.6 865.3Z" fill="#000000"/><path d="M1110.8 865.3L1131.2 869.2" stroke="#4a4a4a" stroke-width=".6" fill="none"/><path d="M1110.8 865.3L1131.6 865.3M1110.8 865.3L1122.7 848.3M1110.8 865.3L1117.9 845.8M1110.8 865.3L1130.3 872.4" stroke="#111" stroke-width=".7" fill="none"/><circle cx="1110.8" cy="865.3" r="20.8" fill="none" stroke="#2e2e2e" stroke-width="1.1"/>
<circle cx="1110.8" cy="953.8" r="20.8" fill="#BEBEBE"/><path d="M1110.8 953.8L1131.6 953.8A20.8 20.8 0 0 0 1122.7 936.8Z" fill="#FFFF00"/><path d="M1110.8 953.8L1122.7 936.8A20.8 20.8 0 0 0 1117.9 934.2Z" fill="#00BFFF"/><path d="M1110.8 953.8L1117.9 934.2A20.8 20.8 0 1 0 1128.8 964.2Z" fill="#BEBEBE"/><path d="M1110.8 953.8L1128.8 964.2A20.8 20.8 0 0 0 1130.7 959.7Z" fill="#595959"/><path d="M1110.8 953.8L1130.7 959.7A20.8 20.8 0 0 0 1131.6 953.8Z" fill="#000000"/><path d="M1110.8 953.8L1131.4 957" stroke="#4a4a4a" stroke-width=".6" fill="none"/><path d="M1110.8 953.8L1131.6 953.8M1110.8 953.8L1122.7 936.8M1110.8 953.8L1117.9 934.2M1110.8 953.8L1128.8 964.2M1110.8 953.8L1130.7 959.7" stroke="#111" stroke-width=".7" fill="none"/><circle cx="1110.8" cy="953.8" r="20.8" fill="none" stroke="#2e2e2e" stroke-width="1.1"/>
<circle cx="1168.3" cy="928" r="20.8" fill="#BEBEBE"/><path d="M1168.3 928L1189.1 928A20.8 20.8 0 0 0 1187.2 919.3Z" fill="#FFFF00"/><path d="M1168.3 928L1187.2 919.3A20.8 20.8 0 0 0 1183 913.3Z" fill="#FFA500"/><path d="M1168.3 928L1183 913.3A20.8 20.8 0 0 0 1178.7 910Z" fill="#00BFFF"/><path d="M1168.3 928L1178.7 910A20.8 20.8 0 0 0 1171.9 907.6Z" fill="#228B22"/><path d="M1168.3 928L1171.9 907.6A20.8 20.8 0 1 0 1178.7 946.1Z" fill="#BEBEBE"/><path d="M1168.3 928L1178.7 946.1A20.8 20.8 0 0 0 1185.7 939.4Z" fill="#595959"/><path d="M1168.3 928L1182.4 943.4" stroke="#111" stroke-width=".6" fill="none"/><path d="M1168.3 928L1185.7 939.4A20.8 20.8 0 0 0 1189.1 928Z" fill="#000000"/><path d="M1168.3 928L1187.5 936.1M1168.3 928L1188.9 931.2" stroke="#4a4a4a" stroke-width=".6" fill="none"/><path d="M1168.3 928L1189.1 928M1168.3 928L1187.2 919.3M1168.3 928L1183 913.3M1168.3 928L1178.7 910M1168.3 928L1171.9 907.6M1168.3 928L1178.7 946.1M1168.3 928L1185.7 939.4" stroke="#111" stroke-width=".7" fill="none"/><circle cx="1168.3" cy="928" r="20.8" fill="none" stroke="#2e2e2e" stroke-width="1.1"/>
<circle cx="1168.3" cy="979.5" r="20.8" fill="#BEBEBE"/><path d="M1168.3 979.5L1189.1 979.5A20.8 20.8 0 0 0 1186.3 969.1Z" fill="#FFFF00"/><path d="M1168.3 979.5L1186.3 969.1A20.8 20.8 0 0 0 1183 964.8Z" fill="#FFA500"/><path d="M1168.3 979.5L1183 964.8A20.8 20.8 0 0 0 1177.1 960.7Z" fill="#00BFFF"/><path d="M1168.3 979.5L1177.1 960.7A20.8 20.8 0 0 0 1171.9 959Z" fill="#228B22"/><path d="M1168.3 979.5L1171.9 959A20.8 20.8 0 1 0 1181.7 995.5Z" fill="#BEBEBE"/><path d="M1168.3 979.5L1181.7 995.5A20.8 20.8 0 0 0 1186.7 989.1Z" fill="#595959"/><path d="M1168.3 979.5L1184.3 992.8" stroke="#111" stroke-width=".6" fill="none"/><path d="M1168.3 979.5L1186.7 989.1A20.8 20.8 0 0 0 1189.1 979.5Z" fill="#000000"/><path d="M1168.3 979.5L1188.4 984.8" stroke="#4a4a4a" stroke-width=".6" fill="none"/><path d="M1168.3 979.5L1189.1 979.5M1168.3 979.5L1186.3 969.1M1168.3 979.5L1183 964.8M1168.3 979.5L1177.1 960.7M1168.3 979.5L1171.9 959M1168.3 979.5L1181.7 995.5M1168.3 979.5L1186.7 989.1" stroke="#111" stroke-width=".7" fill="none"/><circle cx="1168.3" cy="979.5" r="20.8" fill="none" stroke="#2e2e2e" stroke-width="1.1"/>
<circle cx="1473.4" cy="966.7" r="20.8" fill="#595959"/><path d="M1473.4 966.7L1494.2 966.7A20.8 20.8 0 0 0 1490.4 954.7Z" fill="#FFFF00"/><path d="M1473.4 966.7L1490.4 954.7A20.8 20.8 0 0 0 1475.2 945.9Z" fill="#00BFFF"/><path d="M1473.4 966.7L1475.2 945.9A20.8 20.8 0 0 0 1469.8 946.2Z" fill="#228B22"/><path d="M1473.4 966.7L1469.8 946.2A20.8 20.8 0 0 0 1453.9 973.8Z" fill="#BEBEBE"/><path d="M1473.4 966.7L1453.9 973.8A20.8 20.8 0 0 0 1494.2 966.7Z" fill="#595959"/><path d="M1473.4 966.7L1456.1 978.1M1473.4 966.7L1460.7 983.1M1473.4 966.7L1462.8 984.6M1473.4 966.7L1469.1 987M1473.4 966.7L1475.9 987.3M1473.4 966.7L1478.5 986.8M1473.4 966.7L1484.7 984.1M1473.4 966.7L1489.7 979.6M1473.4 966.7L1491.2 977.4M1473.4 966.7L1493.7 971.2" stroke="#111" stroke-width=".6" fill="none"/><path d="M1473.4 966.7L1494.2 966.7M1473.4 966.7L1490.4 954.7M1473.4 966.7L1475.2 945.9M1473.4 966.7L1469.8 946.2M1473.4 966.7L1453.9 973.8" stroke="#111" stroke-width=".7" fill="none"/><circle cx="1473.4" cy="966.7" r="20.8" fill="none" stroke="#2e2e2e" stroke-width="1.1"/>
<circle cx="1473.4" cy="992.4" r="20.8" fill="#BEBEBE"/><path d="M1473.4 992.4L1494.2 992.4A20.8 20.8 0 0 0 1489.3 979Z" fill="#FFFF00"/><path d="M1473.4 992.4L1489.3 979A20.8 20.8 0 0 0 1477 971.9Z" fill="#FFA500"/><path d="M1473.4 992.4L1477 971.9A20.8 20.8 0 0 0 1469.8 971.9Z" fill="#228B22"/><path d="M1473.4 992.4L1469.8 971.9A20.8 20.8 0 0 0 1455.4 1002.8Z" fill="#BEBEBE"/><path d="M1473.4 992.4L1455.4 1002.8A20.8 20.8 0 0 0 1476.1 1013Z" fill="#595959"/><path d="M1473.4 992.4L1458.1 1006.5M1473.4 992.4L1463 1010.4M1473.4 992.4L1465.2 1011.5M1473.4 992.4L1471.2 1013.1" stroke="#111" stroke-width=".6" fill="none"/><path d="M1473.4 992.4L1476.1 1013A20.8 20.8 0 0 0 1494.2 992.4Z" fill="#000000"/><path d="M1473.4 992.4L1480.6 1011.9M1473.4 992.4L1486.2 1008.8M1473.4 992.4L1488.1 1007.2M1473.4 992.4L1491.8 1002M1473.4 992.4L1493.9 996" stroke="#4a4a4a" stroke-width=".6" fill="none"/><path d="M1473.4 992.4L1494.2 992.4M1473.4 992.4L1489.3 979M1473.4 992.4L1477 971.9M1473.4 992.4L1469.8 971.9M1473.4 992.4L1455.4 1002.8M1473.4 992.4L1476.1 1013" stroke="#111" stroke-width=".7" fill="none"/><circle cx="1473.4" cy="992.4" r="20.8" fill="none" stroke="#2e2e2e" stroke-width="1.1"/>
<circle cx="1394.5" cy="915.2" r="20.8" fill="#595959"/><path d="M1394.5 915.2L1415.3 915.2A20.8 20.8 0 0 0 1414.8 910.9Z" fill="#1C75D0"/><path d="M1394.5 915.2L1414.8 910.9A20.8 20.8 0 0 0 1412.5 904.8Z" fill="#228B22"/><path d="M1394.5 915.2L1412.5 904.8A20.8 20.8 0 0 0 1378.6 901.8Z" fill="#BEBEBE"/><path d="M1394.5 915.2L1378.6 901.8A20.8 20.8 0 1 0 1415.3 915.2Z" fill="#595959"/><path d="M1394.5 915.2L1375.7 906.3M1394.5 915.2L1373.8 913.3M1394.5 915.2L1373.7 916.1M1394.5 915.2L1375.3 923.3M1394.5 915.2L1379.3 929.4M1394.5 915.2L1381.4 931.3M1394.5 915.2L1387.8 934.9M1394.5 915.2L1395 936M1394.5 915.2L1397.8 935.7M1394.5 915.2L1404.7 933.3M1394.5 915.2L1407.1 931.7M1394.5 915.2L1412 926.4M1394.5 915.2L1414.8 919.6" stroke="#111" stroke-width=".6" fill="none"/><path d="M1394.5 915.2L1415.3 915.2M1394.5 915.2L1414.8 910.9M1394.5 915.2L1412.5 904.8M1394.5 915.2L1378.6 901.8" stroke="#111" stroke-width=".7" fill="none"/><circle cx="1394.5" cy="915.2" r="20.8" fill="none" stroke="#2e2e2e" stroke-width="1.1"/>
<circle cx="1394.5" cy="940.9" r="20.8" fill="#FFA500"/><path d="M1394.5 940.9L1415.3 940.9A20.8 20.8 0 0 0 1415.1 938Z" fill="#FFFF00"/><path d="M1394.5 940.9L1415.1 938A20.8 20.8 0 1 0 1398.1 961.4Z" fill="#FFA500"/><path d="M1394.5 940.9L1398.1 961.4A20.8 20.8 0 0 0 1403.3 959.8Z" fill="#228B22"/><path d="M1394.5 940.9L1403.3 959.8A20.8 20.8 0 0 0 1412.5 951.3Z" fill="#BEBEBE"/><path d="M1394.5 940.9L1412.5 951.3A20.8 20.8 0 0 0 1414.4 946.8Z" fill="#595959"/><path d="M1394.5 940.9L1414.4 946.8A20.8 20.8 0 0 0 1415.3 940.9Z" fill="#000000"/><path d="M1394.5 940.9L1415.1 944.1" stroke="#4a4a4a" stroke-width=".6" fill="none"/><path d="M1394.5 940.9L1415.3 940.9M1394.5 940.9L1415.1 938M1394.5 940.9L1398.1 961.4M1394.5 940.9L1403.3 959.8M1394.5 940.9L1412.5 951.3M1394.5 940.9L1414.4 946.8" stroke="#111" stroke-width=".7" fill="none"/><circle cx="1394.5" cy="940.9" r="20.8" fill="none" stroke="#2e2e2e" stroke-width="1.1"/>
<circle cx="1159.7" cy="841.2" r="20.8" fill="#BEBEBE"/><path d="M1159.7 841.2L1180.5 841.2A20.8 20.8 0 0 0 1174.4 826.5Z" fill="#FFFF00"/><path d="M1159.7 841.2L1174.4 826.5A20.8 20.8 0 0 0 1168.5 822.3Z" fill="#228B22"/><path d="M1159.7 841.2L1168.5 822.3A20.8 20.8 0 1 0 1179.2 848.3Z" fill="#BEBEBE"/><path d="M1159.7 841.2L1179.2 848.3A20.8 20.8 0 0 0 1180.5 841.2Z" fill="#000000"/><path d="M1159.7 841.2L1180.1 845" stroke="#4a4a4a" stroke-width=".6" fill="none"/><path d="M1159.7 841.2L1180.5 841.2M1159.7 841.2L1174.4 826.5M1159.7 841.2L1168.5 822.3M1159.7 841.2L1179.2 848.3" stroke="#111" stroke-width=".7" fill="none"/><circle cx="1159.7" cy="841.2" r="20.8" fill="none" stroke="#2e2e2e" stroke-width="1.1"/>
<circle cx="1159.7" cy="889.4" r="20.8" fill="#BEBEBE"/><path d="M1159.7 889.4L1180.5 889.4A20.8 20.8 0 0 0 1176.7 877.5Z" fill="#FFFF00"/><path d="M1159.7 889.4L1176.7 877.5A20.8 20.8 0 0 0 1170.1 871.4Z" fill="#228B22"/><path d="M1159.7 889.4L1170.1 871.4A20.8 20.8 0 1 0 1179.2 896.6Z" fill="#BEBEBE"/><path d="M1159.7 889.4L1179.2 896.6A20.8 20.8 0 0 0 1180.5 889.4Z" fill="#000000"/><path d="M1159.7 889.4L1180.1 893.3" stroke="#4a4a4a" stroke-width=".6" fill="none"/><path d="M1159.7 889.4L1180.5 889.4M1159.7 889.4L1176.7 877.5M1159.7 889.4L1170.1 871.4M1159.7 889.4L1179.2 896.6" stroke="#111" stroke-width=".7" fill="none"/><circle cx="1159.7" cy="889.4" r="20.8" fill="none" stroke="#2e2e2e" stroke-width="1.1"/>
<circle cx="1222.2" cy="818.6" r="20.8" fill="#BEBEBE"/><path d="M1222.2 818.6L1243 818.6A20.8 20.8 0 0 0 1236.9 803.9Z" fill="#FFFF00"/><path d="M1222.2 818.6L1236.9 803.9A20.8 20.8 0 0 0 1232.6 800.6Z" fill="#228B22"/><path d="M1222.2 818.6L1232.6 800.6A20.8 20.8 0 1 0 1238.1 832Z" fill="#BEBEBE"/><path d="M1222.2 818.6L1238.1 832A20.8 20.8 0 0 0 1241.5 826.4Z" fill="#595959"/><path d="M1222.2 818.6L1239.9 829.6" stroke="#111" stroke-width=".6" fill="none"/><path d="M1222.2 818.6L1241.5 826.4A20.8 20.8 0 0 0 1243 818.6Z" fill="#000000"/><path d="M1222.2 818.6L1242.6 822.9" stroke="#4a4a4a" stroke-width=".6" fill="none"/><path d="M1222.2 818.6L1243 818.6M1222.2 818.6L1236.9 803.9M1222.2 818.6L1232.6 800.6M1222.2 818.6L1238.1 832M1222.2 818.6L1241.5 826.4" stroke="#111" stroke-width=".7" fill="none"/><circle cx="1222.2" cy="818.6" r="20.8" fill="none" stroke="#2e2e2e" stroke-width="1.1"/>
<circle cx="1222.2" cy="863.7" r="20.8" fill="#BEBEBE"/><path d="M1222.2 863.7L1243 863.7A20.8 20.8 0 0 0 1236.9 849Z" fill="#FFFF00"/><path d="M1222.2 863.7L1236.9 849A20.8 20.8 0 0 0 1229.3 844.1Z" fill="#228B22"/><path d="M1222.2 863.7L1229.3 844.1A20.8 20.8 0 1 0 1238.1 877.1Z" fill="#BEBEBE"/><path d="M1222.2 863.7L1238.1 877.1A20.8 20.8 0 0 0 1241.5 871.5Z" fill="#595959"/><path d="M1222.2 863.7L1239.9 874.6" stroke="#111" stroke-width=".6" fill="none"/><path d="M1222.2 863.7L1241.5 871.5A20.8 20.8 0 0 0 1243 863.7Z" fill="#000000"/><path d="M1222.2 863.7L1242.6 867.9" stroke="#4a4a4a" stroke-width=".6" fill="none"/><path d="M1222.2 863.7L1243 863.7M1222.2 863.7L1236.9 849M1222.2 863.7L1229.3 844.1M1222.2 863.7L1238.1 877.1M1222.2 863.7L1241.5 871.5" stroke="#111" stroke-width=".7" fill="none"/><circle cx="1222.2" cy="863.7" r="20.8" fill="none" stroke="#2e2e2e" stroke-width="1.1"/>
<circle cx="1307.1" cy="799.3" r="20.8" fill="#BEBEBE"/><path d="M1307.1 799.3L1327.9 799.3A20.8 20.8 0 0 0 1324.1 787.4Z" fill="#FFFF00"/><path d="M1307.1 799.3L1324.1 787.4A20.8 20.8 0 0 0 1315.9 780.5Z" fill="#00BFFF"/><path d="M1307.1 799.3L1315.9 780.5A20.8 20.8 0 0 0 1307.1 778.5Z" fill="#228B22"/><path d="M1307.1 799.3L1307.1 778.5A20.8 20.8 0 0 0 1307.1 820.1Z" fill="#BEBEBE"/><path d="M1307.1 799.3L1307.1 820.1A20.8 20.8 0 0 0 1327.9 799.3Z" fill="#595959"/><path d="M1307.1 799.3L1312.1 819.5M1307.1 799.3L1318.5 816.7M1307.1 799.3L1320.7 815.1M1307.1 799.3L1325.1 809.7M1307.1 799.3L1327.5 803.2" stroke="#111" stroke-width=".6" fill="none"/><path d="M1307.1 799.3L1327.9 799.3M1307.1 799.3L1324.1 787.4M1307.1 799.3L1315.9 780.5M1307.1 799.3L1307.1 778.5M1307.1 799.3L1307.1 820.1" stroke="#111" stroke-width=".7" fill="none"/><circle cx="1307.1" cy="799.3" r="20.8" fill="none" stroke="#2e2e2e" stroke-width="1.1"/>
<circle cx="1307.1" cy="838" r="20.8" fill="#BEBEBE"/><path d="M1307.1 838L1327.9 838A20.8 20.8 0 0 0 1319 820.9Z" fill="#FFFF00"/><path d="M1307.1 838L1319 820.9A20.8 20.8 0 0 0 1314.2 818.4Z" fill="#FFA500"/><path d="M1307.1 838L1314.2 818.4A20.8 20.8 0 0 0 1307.1 817.2Z" fill="#228B22"/><path d="M1307.1 838L1307.1 817.2A20.8 20.8 0 1 0 1310.7 858.4Z" fill="#BEBEBE"/><path d="M1307.1 838L1310.7 858.4A20.8 20.8 0 0 0 1327.9 838Z" fill="#595959"/><path d="M1307.1 838L1315 857.2M1307.1 838L1320.3 854M1307.1 838L1322.1 852.4M1307.1 838L1325.7 847.3M1307.1 838L1327.6 841.4" stroke="#111" stroke-width=".6" fill="none"/><path d="M1307.1 838L1327.9 838M1307.1 838L1319 820.9M1307.1 838L1314.2 818.4M1307.1 838L1307.1 817.2M1307.1 838L1310.7 858.4" stroke="#111" stroke-width=".7" fill="none"/><circle cx="1307.1" cy="838" r="20.8" fill="none" stroke="#2e2e2e" stroke-width="1.1"/>
<circle cx="1420.1" cy="786.5" r="20.8" fill="#595959"/><path d="M1420.1 786.5L1440.9 786.5A20.8 20.8 0 0 0 1439.6 779.4Z" fill="#FFFF00"/><path d="M1420.1 786.5L1439.6 779.4A20.8 20.8 0 0 0 1438.1 776.1Z" fill="#228B22"/><path d="M1420.1 786.5L1438.1 776.1A20.8 20.8 0 0 0 1402.1 776.1Z" fill="#BEBEBE"/><path d="M1420.1 786.5L1402.1 776.1A20.8 20.8 0 1 0 1440.9 786.5Z" fill="#595959"/><path d="M1420.1 786.5L1400.1 780.7M1420.1 786.5L1399.3 787.6M1420.1 786.5L1399.7 790.3M1420.1 786.5L1402.1 796.9M1420.1 786.5L1406.5 802.2M1420.1 786.5L1408.7 803.9M1420.1 786.5L1415.1 806.7M1420.1 786.5L1422 807.2M1420.1 786.5L1424.7 806.7M1420.1 786.5L1431.2 804.1M1420.1 786.5L1433.4 802.5M1420.1 786.5L1437.9 797.2M1420.1 786.5L1440.5 790.7" stroke="#111" stroke-width=".6" fill="none"/><path d="M1420.1 786.5L1440.9 786.5M1420.1 786.5L1439.6 779.4M1420.1 786.5L1438.1 776.1M1420.1 786.5L1402.1 776.1" stroke="#111" stroke-width=".7" fill="none"/><circle cx="1420.1" cy="786.5" r="20.8" fill="none" stroke="#2e2e2e" stroke-width="1.1"/>
<circle cx="1420.1" cy="812.2" r="20.8" fill="#00BFFF"/><path d="M1420.1 812.2L1440.9 812.2A20.8 20.8 0 0 0 1439.9 805.8Z" fill="#FFFF00"/><path d="M1420.1 812.2L1439.9 805.8A20.8 20.8 0 1 0 1428.2 831.4Z" fill="#00BFFF"/><path d="M1420.1 812.2L1428.2 831.4A20.8 20.8 0 0 0 1438.6 821.7Z" fill="#BEBEBE"/><path d="M1420.1 812.2L1438.6 821.7A20.8 20.8 0 0 0 1440.2 817.5Z" fill="#595959"/><path d="M1420.1 812.2L1440.2 817.5A20.8 20.8 0 0 0 1440.9 812.2Z" fill="#000000"/><path d="M1420.1 812.2L1440.7 815.1" stroke="#4a4a4a" stroke-width=".6" fill="none"/><path d="M1420.1 812.2L1440.9 812.2M1420.1 812.2L1439.9 805.8M1420.1 812.2L1428.2 831.4M1420.1 812.2L1438.6 821.7M1420.1 812.2L1440.2 817.5" stroke="#111" stroke-width=".7" fill="none"/><circle cx="1420.1" cy="812.2" r="20.8" fill="none" stroke="#2e2e2e" stroke-width="1.1"/>
<circle cx="1092.5" cy="606.3" r="20.8" fill="#BEBEBE"/><path d="M1092.5 606.3L1113.3 606.3A20.8 20.8 0 0 0 1096.1 585.8Z" fill="#FFFF00"/><path d="M1092.5 606.3L1096.1 585.8A20.8 20.8 0 0 0 1088.9 585.8Z" fill="#00BFFF"/><path d="M1092.5 606.3L1088.9 585.8A20.8 20.8 0 0 0 1087.1 586.2Z" fill="#228B22"/><path d="M1092.5 606.3L1087.1 586.2A20.8 20.8 0 1 0 1111.4 615.1Z" fill="#BEBEBE"/><path d="M1092.5 606.3L1111.4 615.1A20.8 20.8 0 0 0 1112.7 611.2Z" fill="#595959"/><path d="M1092.5 606.3L1112.7 611.2A20.8 20.8 0 0 0 1113.3 606.3Z" fill="#000000"/><path d="M1092.5 606.3L1113.3 606.3M1092.5 606.3L1096.1 585.8M1092.5 606.3L1088.9 585.8M1092.5 606.3L1087.1 586.2M1092.5 606.3L1111.4 615.1M1092.5 606.3L1112.7 611.2" stroke="#111" stroke-width=".7" fill="none"/><circle cx="1092.5" cy="606.3" r="20.8" fill="none" stroke="#2e2e2e" stroke-width="1.1"/>
<circle cx="1092.5" cy="717.3" r="20.8" fill="#BEBEBE"/><path d="M1092.5 717.3L1113.3 717.3A20.8 20.8 0 0 0 1095.4 696.7Z" fill="#FFFF00"/><path d="M1092.5 717.3L1095.4 696.7A20.8 20.8 0 0 0 1092.5 696.5Z" fill="#00BFFF"/><path d="M1092.5 717.3L1092.5 696.5A20.8 20.8 0 1 0 1111.4 726.1Z" fill="#BEBEBE"/><path d="M1092.5 717.3L1111.4 726.1A20.8 20.8 0 0 0 1112.7 722.2Z" fill="#595959"/><path d="M1092.5 717.3L1112.7 722.2A20.8 20.8 0 0 0 1113.3 717.3Z" fill="#000000"/><path d="M1092.5 717.3L1113.3 717.3M1092.5 717.3L1095.4 696.7M1092.5 717.3L1092.5 696.5M1092.5 717.3L1111.4 726.1M1092.5 717.3L1112.7 722.2" stroke="#111" stroke-width=".7" fill="none"/><circle cx="1092.5" cy="717.3" r="20.8" fill="none" stroke="#2e2e2e" stroke-width="1.1"/>
<circle cx="1227.2" cy="686.7" r="20.8" fill="#BEBEBE"/><path d="M1227.2 686.7L1248 686.7A20.8 20.8 0 0 0 1229 666Z" fill="#FFFF00"/><path d="M1227.2 686.7L1229 666A20.8 20.8 0 0 0 1225.4 666Z" fill="#FFA500"/><path d="M1227.2 686.7L1225.4 666A20.8 20.8 0 0 0 1220.1 706.3Z" fill="#BEBEBE"/><path d="M1227.2 686.7L1220.1 706.3A20.8 20.8 0 0 0 1237.4 704.8Z" fill="#595959"/><path d="M1227.2 686.7L1224.1 707.3M1227.2 686.7L1229.9 707.3M1227.2 686.7L1232.1 706.9" stroke="#111" stroke-width=".6" fill="none"/><path d="M1227.2 686.7L1237.4 704.8A20.8 20.8 0 0 0 1248 686.7Z" fill="#000000"/><path d="M1227.2 686.7L1241.5 701.8M1227.2 686.7L1245.7 696.2M1227.2 686.7L1246.8 693.6" stroke="#4a4a4a" stroke-width=".6" fill="none"/><path d="M1227.2 686.7L1248 686.7M1227.2 686.7L1229 666M1227.2 686.7L1225.4 666M1227.2 686.7L1220.1 706.3M1227.2 686.7L1237.4 704.8" stroke="#111" stroke-width=".7" fill="none"/><circle cx="1227.2" cy="686.7" r="20.8" fill="none" stroke="#2e2e2e" stroke-width="1.1"/>
<circle cx="1227.2" cy="747.9" r="20.8" fill="#BEBEBE"/><path d="M1227.2 747.9L1248 747.9A20.8 20.8 0 0 0 1241.9 733.1Z" fill="#FFFF00"/><path d="M1227.2 747.9L1241.9 733.1A20.8 20.8 0 0 0 1227.2 727.1Z" fill="#FFA500"/><path d="M1227.2 747.9L1227.2 727.1A20.8 20.8 0 0 0 1223.6 727.4Z" fill="#228B22"/><path d="M1227.2 747.9L1223.6 727.4A20.8 20.8 0 1 0 1234.3 767.4Z" fill="#BEBEBE"/><path d="M1227.2 747.9L1234.3 767.4A20.8 20.8 0 0 0 1248 747.9Z" fill="#595959"/><path d="M1227.2 747.9L1238.5 765.3M1227.2 747.9L1243.4 760.9M1227.2 747.9L1244.8 758.9M1227.2 747.9L1247.4 752.9" stroke="#111" stroke-width=".6" fill="none"/><path d="M1227.2 747.9L1248 747.9M1227.2 747.9L1241.9 733.1M1227.2 747.9L1227.2 727.1M1227.2 747.9L1223.6 727.4M1227.2 747.9L1234.3 767.4" stroke="#111" stroke-width=".7" fill="none"/><circle cx="1227.2" cy="747.9" r="20.8" fill="none" stroke="#2e2e2e" stroke-width="1.1"/>
<circle cx="1343.9" cy="735" r="20.8" fill="#BEBEBE"/><path d="M1343.9 735L1364.7 735A20.8 20.8 0 0 0 1363.4 727.9Z" fill="#FFFF00"/><path d="M1343.9 735L1363.4 727.9A20.8 20.8 0 0 0 1354.3 717Z" fill="#FFA500"/><path d="M1343.9 735L1354.3 717A20.8 20.8 0 0 0 1348.2 714.6Z" fill="#228B22"/><path d="M1343.9 735L1348.2 714.6A20.8 20.8 0 0 0 1326.5 746.3Z" fill="#BEBEBE"/><path d="M1343.9 735L1326.5 746.3A20.8 20.8 0 0 0 1347.2 755.5Z" fill="#595959"/><path d="M1343.9 735L1329.3 749.8M1343.9 735L1334.2 753.4M1343.9 735L1336.4 754.4M1343.9 735L1342.4 755.7" stroke="#111" stroke-width=".6" fill="none"/><path d="M1343.9 735L1347.2 755.5A20.8 20.8 0 0 0 1364.7 735Z" fill="#000000"/><path d="M1343.9 735L1351.6 754.3M1343.9 735L1357 751.2M1343.9 735L1358.8 749.5M1343.9 735L1362.4 744.4M1343.9 735L1364.4 738.5" stroke="#4a4a4a" stroke-width=".6" fill="none"/><path d="M1343.9 735L1364.7 735M1343.9 735L1363.4 727.9M1343.9 735L1354.3 717M1343.9 735L1348.2 714.6M1343.9 735L1326.5 746.3M1343.9 735L1347.2 755.5" stroke="#111" stroke-width=".7" fill="none"/><circle cx="1343.9" cy="735" r="20.8" fill="none" stroke="#2e2e2e" stroke-width="1.1"/>
<circle cx="1343.9" cy="760.7" r="20.8" fill="#BEBEBE"/><path d="M1343.9 760.7L1364.7 760.7A20.8 20.8 0 0 0 1364.6 758.6Z" fill="#FFFF00"/><path d="M1343.9 760.7L1364.6 758.6A20.8 20.8 0 0 0 1343.9 739.9Z" fill="#FFA500"/><path d="M1343.9 760.7L1343.9 739.9A20.8 20.8 0 0 0 1336.8 741.2Z" fill="#228B22"/><path d="M1343.9 760.7L1336.8 741.2A20.8 20.8 0 1 0 1354.3 778.7Z" fill="#BEBEBE"/><path d="M1343.9 760.7L1354.3 778.7A20.8 20.8 0 0 0 1364.7 760.7Z" fill="#595959"/><path d="M1343.9 760.7L1358.3 775.7M1343.9 760.7L1362.5 770.1M1343.9 760.7L1363.5 767.6" stroke="#111" stroke-width=".6" fill="none"/><path d="M1343.9 760.7L1364.7 760.7M1343.9 760.7L1364.6 758.6M1343.9 760.7L1343.9 739.9M1343.9 760.7L1336.8 741.2M1343.9 760.7L1354.3 778.7" stroke="#111" stroke-width=".7" fill="none"/><circle cx="1343.9" cy="760.7" r="20.8" fill="none" stroke="#2e2e2e" stroke-width="1.1"/>
<circle cx="1255.5" cy="664.2" r="20.8" fill="#BEBEBE"/><path d="M1255.5 664.2L1276.3 664.2A20.8 20.8 0 0 0 1260.9 644.1Z" fill="#FFFF00"/><path d="M1255.5 664.2L1260.9 644.1A20.8 20.8 0 0 0 1255.5 643.4Z" fill="#FFA500"/><path d="M1255.5 664.2L1255.5 643.4A20.8 20.8 0 0 0 1253.7 643.5Z" fill="#00BFFF"/><path d="M1255.5 664.2L1253.7 643.5A20.8 20.8 0 0 0 1251.9 684.7Z" fill="#BEBEBE"/><path d="M1255.5 664.2L1251.9 684.7A20.8 20.8 0 0 0 1267.4 681.2Z" fill="#595959"/><path d="M1255.5 664.2L1256.9 684.9M1255.5 664.2L1263.7 683.3" stroke="#111" stroke-width=".6" fill="none"/><path d="M1255.5 664.2L1267.4 681.2A20.8 20.8 0 0 0 1276.3 664.2Z" fill="#000000"/><path d="M1255.5 664.2L1270.9 678.2M1255.5 664.2L1274.4 672.8M1255.5 664.2L1275.3 670.5" stroke="#4a4a4a" stroke-width=".6" fill="none"/><path d="M1255.5 664.2L1276.3 664.2M1255.5 664.2L1260.9 644.1M1255.5 664.2L1255.5 643.4M1255.5 664.2L1253.7 643.5M1255.5 664.2L1251.9 684.7M1255.5 664.2L1267.4 681.2" stroke="#111" stroke-width=".7" fill="none"/><circle cx="1255.5" cy="664.2" r="20.8" fill="none" stroke="#2e2e2e" stroke-width="1.1"/>
<circle cx="1255.5" cy="709.2" r="20.8" fill="#FFFF00"/><path d="M1255.5 709.2L1276.3 709.2A20.8 20.8 0 0 0 1234.7 709.2Z" fill="#FFFF00"/><path d="M1255.5 709.2L1234.7 709.2A20.8 20.8 0 0 0 1234.9 712.1Z" fill="#FFA500"/><path d="M1255.5 709.2L1234.9 712.1A20.8 20.8 0 0 0 1235.5 715Z" fill="#00BFFF"/><path d="M1255.5 709.2L1235.5 715A20.8 20.8 0 0 0 1276.3 709.2Z" fill="#BEBEBE"/><path d="M1255.5 709.2L1276.3 709.2M1255.5 709.2L1234.7 709.2M1255.5 709.2L1234.9 712.1M1255.5 709.2L1235.5 715" stroke="#111" stroke-width=".7" fill="none"/><circle cx="1255.5" cy="709.2" r="20.8" fill="none" stroke="#2e2e2e" stroke-width="1.1"/>
<circle cx="1438.4" cy="644.9" r="20.8" fill="#595959"/><path d="M1438.4 644.9L1459.2 644.9A20.8 20.8 0 0 0 1459 642Z" fill="#FFFF00"/><path d="M1438.4 644.9L1459 642A20.8 20.8 0 0 0 1457.9 637.8Z" fill="#00BFFF"/><path d="M1438.4 644.9L1457.9 637.8A20.8 20.8 0 0 0 1417.9 641.3Z" fill="#BEBEBE"/><path d="M1438.4 644.9L1417.9 641.3A20.8 20.8 0 1 0 1459.2 644.9Z" fill="#595959"/><path d="M1438.4 644.9L1417.7 646.6M1438.4 644.9L1419.6 653.7M1438.4 644.9L1421 656.2M1438.4 644.9L1426 661.6M1438.4 644.9L1432.6 664.8M1438.4 644.9L1435.4 665.5M1438.4 644.9L1442.7 665.2M1438.4 644.9L1449.5 662.5M1438.4 644.9L1451.8 660.8M1438.4 644.9L1456.5 655.1M1438.4 644.9L1457.8 652.5" stroke="#111" stroke-width=".6" fill="none"/><path d="M1438.4 644.9L1459.2 644.9M1438.4 644.9L1459 642M1438.4 644.9L1457.9 637.8M1438.4 644.9L1417.9 641.3" stroke="#111" stroke-width=".7" fill="none"/><circle cx="1438.4" cy="644.9" r="20.8" fill="none" stroke="#2e2e2e" stroke-width="1.1"/>
<circle cx="1438.4" cy="683.5" r="20.8" fill="#FFA500"/><path d="M1438.4 683.5L1459.2 683.5A20.8 20.8 0 0 0 1458.2 677.1Z" fill="#FFFF00"/><path d="M1438.4 683.5L1458.2 677.1A20.8 20.8 0 1 0 1445.5 703Z" fill="#FFA500"/><path d="M1438.4 683.5L1445.5 703A20.8 20.8 0 0 0 1456.4 693.9Z" fill="#BEBEBE"/><path d="M1438.4 683.5L1456.4 693.9A20.8 20.8 0 0 0 1458.3 689.4Z" fill="#595959"/><path d="M1438.4 683.5L1458.3 689.4A20.8 20.8 0 0 0 1459.2 683.5Z" fill="#000000"/><path d="M1438.4 683.5L1459 686.7" stroke="#4a4a4a" stroke-width=".6" fill="none"/><path d="M1438.4 683.5L1459.2 683.5M1438.4 683.5L1458.2 677.1M1438.4 683.5L1445.5 703M1438.4 683.5L1456.4 693.9M1438.4 683.5L1458.3 689.4" stroke="#111" stroke-width=".7" fill="none"/><circle cx="1438.4" cy="683.5" r="20.8" fill="none" stroke="#2e2e2e" stroke-width="1.1"/>
<circle cx="1530.3" cy="632" r="20.8" fill="#00BFFF"/><path d="M1530.3 632L1551.1 632A20.8 20.8 0 1 0 1540.7 650Z" fill="#00BFFF"/><path d="M1530.3 632L1540.7 650A20.8 20.8 0 0 0 1547.7 643.3Z" fill="#595959"/><path d="M1530.3 632L1544.4 647.3" stroke="#111" stroke-width=".6" fill="none"/><path d="M1530.3 632L1547.7 643.3A20.8 20.8 0 0 0 1551.1 632Z" fill="#000000"/><path d="M1530.3 632L1549.5 640.1M1530.3 632L1550.9 635.1" stroke="#4a4a4a" stroke-width=".6" fill="none"/><path d="M1530.3 632L1551.1 632M1530.3 632L1540.7 650M1530.3 632L1547.7 643.3" stroke="#111" stroke-width=".7" fill="none"/><circle cx="1530.3" cy="632" r="20.8" fill="none" stroke="#2e2e2e" stroke-width="1.1"/>
<circle cx="1530.3" cy="657.8" r="20.8" fill="#BEBEBE"/><path d="M1530.3 657.8L1551.1 657.8A20.8 20.8 0 1 0 1543.7 673.7Z" fill="#BEBEBE"/><path d="M1530.3 657.8L1543.7 673.7A20.8 20.8 0 0 0 1548.7 667.4Z" fill="#595959"/><path d="M1530.3 657.8L1546.3 671" stroke="#111" stroke-width=".6" fill="none"/><path d="M1530.3 657.8L1548.7 667.4A20.8 20.8 0 0 0 1551.1 657.8Z" fill="#000000"/><path d="M1530.3 657.8L1550.4 663" stroke="#4a4a4a" stroke-width=".6" fill="none"/><path d="M1530.3 657.8L1551.1 657.8M1530.3 657.8L1543.7 673.7M1530.3 657.8L1548.7 667.4" stroke="#111" stroke-width=".7" fill="none"/><circle cx="1530.3" cy="657.8" r="20.8" fill="none" stroke="#2e2e2e" stroke-width="1.1"/>
<circle cx="911.8" cy="357.4" r="20.8" fill="#BEBEBE"/><path d="M911.8 357.4L932.6 357.4A20.8 20.8 0 0 0 910 336.6Z" fill="#FFFF00"/><path d="M911.8 357.4L910 336.6A20.8 20.8 0 0 0 903 338.5Z" fill="#00BFFF"/><path d="M911.8 357.4L903 338.5A20.8 20.8 0 1 0 929.8 367.8Z" fill="#BEBEBE"/><path d="M911.8 357.4L929.8 367.8A20.8 20.8 0 0 0 931.7 363.3Z" fill="#595959"/><path d="M911.8 357.4L931.7 363.3A20.8 20.8 0 0 0 932.6 357.4Z" fill="#000000"/><path d="M911.8 357.4L932.4 360.5" stroke="#4a4a4a" stroke-width=".6" fill="none"/><path d="M911.8 357.4L932.6 357.4M911.8 357.4L910 336.6M911.8 357.4L903 338.5M911.8 357.4L929.8 367.8M911.8 357.4L931.7 363.3" stroke="#111" stroke-width=".7" fill="none"/><circle cx="911.8" cy="357.4" r="20.8" fill="none" stroke="#2e2e2e" stroke-width="1.1"/>
<circle cx="911.8" cy="522.6" r="20.8" fill="#BEBEBE"/><path d="M911.8 522.6L932.6 522.6A20.8 20.8 0 0 0 906.4 502.5Z" fill="#FFFF00"/><path d="M911.8 522.6L906.4 502.5A20.8 20.8 0 0 0 899.9 505.6Z" fill="#00BFFF"/><path d="M911.8 522.6L899.9 505.6A20.8 20.8 0 1 0 929.8 533Z" fill="#BEBEBE"/><path d="M911.8 522.6L929.8 533A20.8 20.8 0 0 0 931.7 528.5Z" fill="#595959"/><path d="M911.8 522.6L931.7 528.5A20.8 20.8 0 0 0 932.6 522.6Z" fill="#000000"/><path d="M911.8 522.6L932.4 525.8" stroke="#4a4a4a" stroke-width=".6" fill="none"/><path d="M911.8 522.6L932.6 522.6M911.8 522.6L906.4 502.5M911.8 522.6L899.9 505.6M911.8 522.6L929.8 533M911.8 522.6L931.7 528.5" stroke="#111" stroke-width=".7" fill="none"/><circle cx="911.8" cy="522.6" r="20.8" fill="none" stroke="#2e2e2e" stroke-width="1.1"/>
<circle cx="1243.9" cy="503.3" r="20.8" fill="#FFFF00"/><path d="M1243.9 503.3L1264.7 503.3A20.8 20.8 0 0 0 1262.8 494.5Z" fill="#BEBEBE"/><path d="M1243.9 503.3L1262.8 494.5A20.8 20.8 0 1 0 1254.3 521.3Z" fill="#FFFF00"/><path d="M1243.9 503.3L1254.3 521.3A20.8 20.8 0 0 0 1258.6 518Z" fill="#00BFFF"/><path d="M1243.9 503.3L1258.6 518A20.8 20.8 0 0 0 1263.4 510.4Z" fill="#BEBEBE"/><path d="M1243.9 503.3L1263.4 510.4A20.8 20.8 0 0 0 1264.7 503.3Z" fill="#000000"/><path d="M1243.9 503.3L1264.3 507.2" stroke="#4a4a4a" stroke-width=".6" fill="none"/><path d="M1243.9 503.3L1264.7 503.3M1243.9 503.3L1262.8 494.5M1243.9 503.3L1254.3 521.3M1243.9 503.3L1258.6 518M1243.9 503.3L1263.4 510.4" stroke="#111" stroke-width=".7" fill="none"/><circle cx="1243.9" cy="503.3" r="20.8" fill="none" stroke="#2e2e2e" stroke-width="1.1"/>
<circle cx="1243.9" cy="541.9" r="20.8" fill="#000000"/><path d="M1243.9 541.9L1264.7 541.9A20.8 20.8 0 0 0 1247.5 521.4Z" fill="#FFFF00"/><path d="M1243.9 541.9L1247.5 521.4A20.8 20.8 0 0 0 1243.9 521.1Z" fill="#00BFFF"/><path d="M1243.9 541.9L1243.9 521.1A20.8 20.8 0 0 0 1236.8 522.4Z" fill="#BEBEBE"/><path d="M1243.9 541.9L1236.8 522.4A20.8 20.8 0 1 0 1264.7 541.9Z" fill="#000000"/><path d="M1243.9 541.9L1232.1 524.8M1243.9 541.9L1226.9 529.9M1243.9 541.9L1225.5 532.3M1243.9 541.9L1223.3 539.2M1243.9 541.9L1223.6 546.5M1243.9 541.9L1224.4 549.2M1243.9 541.9L1228.1 555.4M1243.9 541.9L1233.7 560M1243.9 541.9L1236.2 561.3M1243.9 541.9L1243.3 562.7M1243.9 541.9L1246.2 562.6M1243.9 541.9L1253.1 560.6M1243.9 541.9L1259 556.2M1243.9 541.9L1260.8 554.1M1243.9 541.9L1263.9 547.5" stroke="#4a4a4a" stroke-width=".6" fill="none"/><path d="M1243.9 541.9L1264.7 541.9M1243.9 541.9L1247.5 521.4M1243.9 541.9L1243.9 521.1M1243.9 541.9L1236.8 522.4" stroke="#111" stroke-width=".7" fill="none"/><circle cx="1243.9" cy="541.9" r="20.8" fill="none" stroke="#2e2e2e" stroke-width="1.1"/>
<circle cx="1576.9" cy="529" r="20.8" fill="#595959"/><path d="M1576.9 529L1597.7 529A20.8 20.8 0 0 0 1597.3 525Z" fill="#595959"/><path d="M1576.9 529L1597.3 525A20.8 20.8 0 0 0 1595.8 520.3Z" fill="#000000"/><path d="M1576.9 529L1595.8 520.3A20.8 20.8 0 0 0 1582.3 509Z" fill="#595959"/><path d="M1576.9 529L1593.6 516.6M1576.9 529L1589.5 512.5M1576.9 529L1587.6 511.2" stroke="#111" stroke-width=".6" fill="none"/><path d="M1576.9 529L1582.3 509A20.8 20.8 0 1 0 1597.7 529Z" fill="#595959"/><path d="M1576.9 529L1597.7 529M1576.9 529L1597.3 525M1576.9 529L1595.8 520.3M1576.9 529L1582.3 509" stroke="#111" stroke-width=".7" fill="none"/><circle cx="1576.9" cy="529" r="20.8" fill="none" stroke="#2e2e2e" stroke-width="1.1"/>
<circle cx="1576.9" cy="554.8" r="20.8" fill="#00BFFF"/><path d="M1576.9 554.8L1597.7 554.8A20.8 20.8 0 1 0 1597.7 555.2Z" fill="#00BFFF"/><path d="M1576.9 554.8L1597.7 555.2A20.8 20.8 0 0 0 1597.7 554.8Z" fill="#000000"/><path d="M1576.9 554.8L1597.7 554.8M1576.9 554.8L1597.7 555.2" stroke="#111" stroke-width=".7" fill="none"/><circle cx="1576.9" cy="554.8" r="20.8" fill="none" stroke="#2e2e2e" stroke-width="1.1"/>
<circle cx="1105.1" cy="237.1" r="20.8" fill="#BEBEBE"/><path d="M1105.1 237.1L1125.9 237.1A20.8 20.8 0 0 0 1108.7 216.7Z" fill="#FFFF00"/><path d="M1105.1 237.1L1108.7 216.7A20.8 20.8 0 0 0 1106.6 216.4Z" fill="#FFA500"/><path d="M1105.1 237.1L1106.6 216.4A20.8 20.8 0 0 0 1101.5 216.7Z" fill="#00BFFF"/><path d="M1105.1 237.1L1101.5 216.7A20.8 20.8 0 0 0 1105.1 257.9Z" fill="#BEBEBE"/><path d="M1105.1 237.1L1105.1 257.9A20.8 20.8 0 0 0 1118.6 253Z" fill="#595959"/><path d="M1105.1 237.1L1109.6 257.4M1105.1 237.1L1115.5 255.2" stroke="#111" stroke-width=".6" fill="none"/><path d="M1105.1 237.1L1118.6 253A20.8 20.8 0 0 0 1125.9 237.1Z" fill="#000000"/><path d="M1105.1 237.1L1121.5 249.9M1105.1 237.1L1124.4 245M1105.1 237.1L1125.1 242.8" stroke="#4a4a4a" stroke-width=".6" fill="none"/><path d="M1105.1 237.1L1125.9 237.1M1105.1 237.1L1108.7 216.7M1105.1 237.1L1106.6 216.4M1105.1 237.1L1101.5 216.7M1105.1 237.1L1105.1 257.9M1105.1 237.1L1118.6 253" stroke="#111" stroke-width=".7" fill="none"/><circle cx="1105.1" cy="237.1" r="20.8" fill="none" stroke="#2e2e2e" stroke-width="1.1"/>
<circle cx="1105.1" cy="477.6" r="20.8" fill="#BEBEBE"/><path d="M1105.1 477.6L1125.9 477.6A20.8 20.8 0 0 0 1109.4 457.2Z" fill="#FFFF00"/><path d="M1105.1 477.6L1109.4 457.2A20.8 20.8 0 0 0 1104.4 456.8Z" fill="#FFA500"/><path d="M1105.1 477.6L1104.4 456.8A20.8 20.8 0 0 0 1095.7 459Z" fill="#00BFFF"/><path d="M1105.1 477.6L1095.7 459A20.8 20.8 0 0 0 1094.1 459.9Z" fill="#228B22"/><path d="M1105.1 477.6L1094.1 459.9A20.8 20.8 0 0 0 1116.1 495.2Z" fill="#BEBEBE"/><path d="M1105.1 477.6L1116.1 495.2A20.8 20.8 0 0 0 1122.8 488.6Z" fill="#595959"/><path d="M1105.1 477.6L1119.6 492.5" stroke="#111" stroke-width=".6" fill="none"/><path d="M1105.1 477.6L1122.8 488.6A20.8 20.8 0 0 0 1125.9 477.6Z" fill="#000000"/><path d="M1105.1 477.6L1125 483.7" stroke="#4a4a4a" stroke-width=".6" fill="none"/><path d="M1105.1 477.6L1125.9 477.6M1105.1 477.6L1109.4 457.2M1105.1 477.6L1104.4 456.8M1105.1 477.6L1095.7 459M1105.1 477.6L1094.1 459.9M1105.1 477.6L1116.1 495.2M1105.1 477.6L1122.8 488.6" stroke="#111" stroke-width=".7" fill="none"/><circle cx="1105.1" cy="477.6" r="20.8" fill="none" stroke="#2e2e2e" stroke-width="1.1"/>
<circle cx="1202.3" cy="68.9" r="20.8" fill="#FFA500"/><path d="M1202.3 68.9L1223.1 68.9A20.8 20.8 0 0 0 1221.8 61.8Z" fill="#FFFF00"/><path d="M1202.3 68.9L1221.8 61.8A20.8 20.8 0 0 0 1181.8 72.5Z" fill="#FFA500"/><path d="M1202.3 68.9L1181.8 72.5A20.8 20.8 0 0 0 1223.1 68.9Z" fill="#BEBEBE"/><path d="M1202.3 68.9L1223.1 68.9M1202.3 68.9L1221.8 61.8M1202.3 68.9L1181.8 72.5" stroke="#111" stroke-width=".7" fill="none"/><circle cx="1202.3" cy="68.9" r="20.8" fill="none" stroke="#2e2e2e" stroke-width="1.1"/>
<circle cx="1202.3" cy="405.4" r="20.8" fill="#BEBEBE"/><path d="M1202.3 405.4L1223.1 405.4A20.8 20.8 0 0 0 1209.4 385.8Z" fill="#FFFF00"/><path d="M1202.3 405.4L1209.4 385.8A20.8 20.8 0 0 0 1181.5 405.4Z" fill="#BEBEBE"/><path d="M1202.3 405.4L1181.5 405.4A20.8 20.8 0 0 0 1191.9 423.4Z" fill="#595959"/><path d="M1202.3 405.4L1191.9 423.4A20.8 20.8 0 0 0 1210.8 424.4Z" fill="#595959"/><path d="M1202.3 405.4L1196.1 425.2M1202.3 405.4L1202.3 426.2M1202.3 405.4L1204.7 426" stroke="#111" stroke-width=".6" fill="none"/><path d="M1202.3 405.4L1210.8 424.4A20.8 20.8 0 0 0 1223.1 405.4Z" fill="#000000"/><path d="M1202.3 405.4L1214.6 422.1M1202.3 405.4L1219 417.8M1202.3 405.4L1220.3 415.8M1202.3 405.4L1222.6 410.1" stroke="#4a4a4a" stroke-width=".6" fill="none"/><path d="M1202.3 405.4L1223.1 405.4M1202.3 405.4L1209.4 385.8M1202.3 405.4L1181.5 405.4M1202.3 405.4L1191.9 423.4M1202.3 405.4L1210.8 424.4" stroke="#111" stroke-width=".7" fill="none"/><circle cx="1202.3" cy="405.4" r="20.8" fill="none" stroke="#2e2e2e" stroke-width="1.1"/>
<circle cx="1202.3" cy="358.9" r="20.8" fill="#BEBEBE"/><path d="M1202.3 358.9L1223.1 358.9A20.8 20.8 0 0 0 1211.1 340.1Z" fill="#FFFF00"/><path d="M1202.3 358.9L1211.1 340.1A20.8 20.8 0 0 0 1198.7 338.4Z" fill="#00BFFF"/><path d="M1202.3 358.9L1198.7 338.4A20.8 20.8 0 0 0 1186.4 372.3Z" fill="#BEBEBE"/><path d="M1202.3 358.9L1186.4 372.3A20.8 20.8 0 0 0 1207 379.2Z" fill="#595959"/><path d="M1202.3 358.9L1190.3 375.9M1202.3 358.9L1196.9 379M1202.3 358.9L1199.7 379.5" stroke="#111" stroke-width=".6" fill="none"/><path d="M1202.3 358.9L1207 379.2A20.8 20.8 0 0 0 1223.1 358.9Z" fill="#000000"/><path d="M1202.3 358.9L1211.8 377.4M1202.3 358.9L1217.5 373.1M1202.3 358.9L1219.3 370.9M1202.3 358.9L1222.4 364.4" stroke="#4a4a4a" stroke-width=".6" fill="none"/><path d="M1202.3 358.9L1223.1 358.9M1202.3 358.9L1211.1 340.1M1202.3 358.9L1198.7 338.4M1202.3 358.9L1186.4 372.3M1202.3 358.9L1207 379.2" stroke="#111" stroke-width=".7" fill="none"/><circle cx="1202.3" cy="358.9" r="20.8" fill="none" stroke="#2e2e2e" stroke-width="1.1"/>
<circle cx="1202.3" cy="451.8" r="20.8" fill="#FFFF00"/><path d="M1202.3 451.8L1223.1 451.8A20.8 20.8 0 1 0 1181.5 452.9Z" fill="#FFFF00"/><path d="M1202.3 451.8L1181.5 452.9A20.8 20.8 0 0 0 1181.6 454Z" fill="#FFA500"/><path d="M1202.3 451.8L1181.6 454A20.8 20.8 0 0 0 1182.5 458.2Z" fill="#00BFFF"/><path d="M1202.3 451.8L1182.5 458.2A20.8 20.8 0 0 0 1223.1 452.5Z" fill="#BEBEBE"/><path d="M1202.3 451.8L1223.1 452.5A20.8 20.8 0 0 0 1223.1 451.8Z" fill="#000000"/><path d="M1202.3 451.8L1223.1 451.8M1202.3 451.8L1181.5 452.9M1202.3 451.8L1181.6 454M1202.3 451.8L1182.5 458.2M1202.3 451.8L1223.1 452.5" stroke="#111" stroke-width=".7" fill="none"/><circle cx="1202.3" cy="451.8" r="20.8" fill="none" stroke="#2e2e2e" stroke-width="1.1"/>
<circle cx="1237.2" cy="304.6" r="20.8" fill="#BEBEBE"/><path d="M1237.2 304.6L1258 304.6A20.8 20.8 0 0 0 1256.7 297.5Z" fill="#FFFF00"/><path d="M1237.2 304.6L1256.7 297.5A20.8 20.8 0 1 0 1233.6 325.1Z" fill="#BEBEBE"/><path d="M1237.2 304.6L1233.6 325.1A20.8 20.8 0 0 0 1249.1 321.6Z" fill="#595959"/><path d="M1237.2 304.6L1238.6 325.4M1237.2 304.6L1245.4 323.7" stroke="#111" stroke-width=".6" fill="none"/><path d="M1237.2 304.6L1249.1 321.6A20.8 20.8 0 0 0 1258 304.6Z" fill="#000000"/><path d="M1237.2 304.6L1252.6 318.6M1237.2 304.6L1256.1 313.3M1237.2 304.6L1257 310.9" stroke="#4a4a4a" stroke-width=".6" fill="none"/><path d="M1237.2 304.6L1258 304.6M1237.2 304.6L1256.7 297.5M1237.2 304.6L1233.6 325.1M1237.2 304.6L1249.1 321.6" stroke="#111" stroke-width=".7" fill="none"/><circle cx="1237.2" cy="304.6" r="20.8" fill="none" stroke="#2e2e2e" stroke-width="1.1"/>
<circle cx="1237.2" cy="413.2" r="20.8" fill="#BEBEBE"/><path d="M1237.2 413.2L1258 413.2A20.8 20.8 0 0 0 1249.1 396.2Z" fill="#FFFF00"/><path d="M1237.2 413.2L1249.1 396.2A20.8 20.8 0 0 0 1217.7 420.3Z" fill="#00BFFF"/><path d="M1237.2 413.2L1217.7 420.3A20.8 20.8 0 0 0 1258 413.2Z" fill="#BEBEBE"/><path d="M1237.2 413.2L1258 413.2M1237.2 413.2L1249.1 396.2M1237.2 413.2L1217.7 420.3" stroke="#111" stroke-width=".7" fill="none"/><circle cx="1237.2" cy="413.2" r="20.8" fill="none" stroke="#2e2e2e" stroke-width="1.1"/>
<circle cx="1573.2" cy="400.3" r="20.8" fill="#00BFFF"/><path d="M1573.2 400.3L1594 400.3A20.8 20.8 0 1 0 1593.7 403.9Z" fill="#00BFFF"/><path d="M1573.2 400.3L1593.7 403.9A20.8 20.8 0 0 0 1594 400.3Z" fill="#000000"/><path d="M1573.2 400.3L1594 400.3M1573.2 400.3L1593.7 403.9" stroke="#111" stroke-width=".7" fill="none"/><circle cx="1573.2" cy="400.3" r="20.8" fill="none" stroke="#2e2e2e" stroke-width="1.1"/>
<circle cx="1573.2" cy="426.1" r="20.8" fill="#00BFFF"/><path d="M1573.2 426.1L1594 426.1A20.8 20.8 0 1 0 1593.7 429.7Z" fill="#00BFFF"/><path d="M1573.2 426.1L1593.7 429.7A20.8 20.8 0 0 0 1594 426.1Z" fill="#000000"/><path d="M1573.2 426.1L1594 426.1M1573.2 426.1L1593.7 429.7" stroke="#111" stroke-width=".7" fill="none"/><circle cx="1573.2" cy="426.1" r="20.8" fill="none" stroke="#2e2e2e" stroke-width="1.1"/>
<circle cx="1252.2" cy="247.5" r="20.8" fill="#BEBEBE"/><path d="M1252.2 247.5L1273 247.5A20.8 20.8 0 0 0 1264.1 230.5Z" fill="#FFFF00"/><path d="M1252.2 247.5L1264.1 230.5A20.8 20.8 0 0 0 1259.3 227.9Z" fill="#228B22"/><path d="M1252.2 247.5L1259.3 227.9A20.8 20.8 0 1 0 1248.6 268Z" fill="#BEBEBE"/><path d="M1252.2 247.5L1248.6 268A20.8 20.8 0 0 0 1264.1 264.5Z" fill="#595959"/><path d="M1252.2 247.5L1253.6 268.2M1252.2 247.5L1260.4 266.6" stroke="#111" stroke-width=".6" fill="none"/><path d="M1252.2 247.5L1264.1 264.5A20.8 20.8 0 0 0 1273 247.5Z" fill="#000000"/><path d="M1252.2 247.5L1267.6 261.5M1252.2 247.5L1271.1 256.1M1252.2 247.5L1272 253.8" stroke="#4a4a4a" stroke-width=".6" fill="none"/><path d="M1252.2 247.5L1273 247.5M1252.2 247.5L1264.1 230.5M1252.2 247.5L1259.3 227.9M1252.2 247.5L1248.6 268M1252.2 247.5L1264.1 264.5" stroke="#111" stroke-width=".7" fill="none"/><circle cx="1252.2" cy="247.5" r="20.8" fill="none" stroke="#2e2e2e" stroke-width="1.1"/>
<circle cx="1252.2" cy="361.7" r="20.8" fill="#BEBEBE"/><path d="M1252.2 361.7L1273 361.7A20.8 20.8 0 0 0 1270.2 351.3Z" fill="#FFFF00"/><path d="M1252.2 361.7L1270.2 351.3A20.8 20.8 0 0 0 1259.3 342.2Z" fill="#FFA500"/><path d="M1252.2 361.7L1259.3 342.2A20.8 20.8 0 0 0 1252.2 340.9Z" fill="#00BFFF"/><path d="M1252.2 361.7L1252.2 340.9A20.8 20.8 0 1 0 1270.2 372.1Z" fill="#BEBEBE"/><path d="M1252.2 361.7L1270.2 372.1A20.8 20.8 0 0 0 1272.1 367.6Z" fill="#595959"/><path d="M1252.2 361.7L1272.1 367.6A20.8 20.8 0 0 0 1273 361.7Z" fill="#000000"/><path d="M1252.2 361.7L1272.8 364.9" stroke="#4a4a4a" stroke-width=".6" fill="none"/><path d="M1252.2 361.7L1273 361.7M1252.2 361.7L1270.2 351.3M1252.2 361.7L1259.3 342.2M1252.2 361.7L1252.2 340.9M1252.2 361.7L1270.2 372.1M1252.2 361.7L1272.1 367.6" stroke="#111" stroke-width=".7" fill="none"/><circle cx="1252.2" cy="361.7" r="20.8" fill="none" stroke="#2e2e2e" stroke-width="1.1"/>
<circle cx="1573.2" cy="348.9" r="20.8" fill="#FFA500"/><path d="M1573.2 348.9L1594 348.9A20.8 20.8 0 1 0 1592.1 357.6Z" fill="#FFA500"/><path d="M1573.2 348.9L1592.1 357.6A20.8 20.8 0 0 0 1593.4 353.8Z" fill="#595959"/><path d="M1573.2 348.9L1593.4 353.8A20.8 20.8 0 0 0 1594 348.9Z" fill="#000000"/><path d="M1573.2 348.9L1594 348.9M1573.2 348.9L1592.1 357.6M1573.2 348.9L1593.4 353.8" stroke="#111" stroke-width=".7" fill="none"/><circle cx="1573.2" cy="348.9" r="20.8" fill="none" stroke="#2e2e2e" stroke-width="1.1"/>
<circle cx="1573.2" cy="374.6" r="20.8" fill="#BEBEBE"/><path d="M1573.2 374.6L1594 374.6A20.8 20.8 0 1 0 1592.1 383.4Z" fill="#BEBEBE"/><path d="M1573.2 374.6L1592.1 383.4A20.8 20.8 0 0 0 1593.4 379.5Z" fill="#595959"/><path d="M1573.2 374.6L1593.4 379.5A20.8 20.8 0 0 0 1594 374.6Z" fill="#000000"/><path d="M1573.2 374.6L1594 374.6M1573.2 374.6L1592.1 383.4M1573.2 374.6L1593.4 379.5" stroke="#111" stroke-width=".7" fill="none"/><circle cx="1573.2" cy="374.6" r="20.8" fill="none" stroke="#2e2e2e" stroke-width="1.1"/>
<circle cx="1266.5" cy="191.2" r="20.8" fill="#BEBEBE"/><path d="M1266.5 191.2L1287.3 191.2A20.8 20.8 0 0 0 1281.2 176.5Z" fill="#FFFF00"/><path d="M1266.5 191.2L1281.2 176.5A20.8 20.8 0 0 0 1275.3 172.3Z" fill="#00BFFF"/><path d="M1266.5 191.2L1275.3 172.3A20.8 20.8 0 0 0 1268.3 170.5Z" fill="#228B22"/><path d="M1266.5 191.2L1268.3 170.5A20.8 20.8 0 1 0 1273.6 210.7Z" fill="#BEBEBE"/><path d="M1266.5 191.2L1273.6 210.7A20.8 20.8 0 0 0 1282.8 204.1Z" fill="#595959"/><path d="M1266.5 191.2L1278.3 208.3" stroke="#111" stroke-width=".6" fill="none"/><path d="M1266.5 191.2L1282.8 204.1A20.8 20.8 0 0 0 1287.3 191.2Z" fill="#000000"/><path d="M1266.5 191.2L1285.1 200.5M1266.5 191.2L1287 194.8" stroke="#4a4a4a" stroke-width=".6" fill="none"/><path d="M1266.5 191.2L1287.3 191.2M1266.5 191.2L1281.2 176.5M1266.5 191.2L1275.3 172.3M1266.5 191.2L1268.3 170.5M1266.5 191.2L1273.6 210.7M1266.5 191.2L1282.8 204.1" stroke="#111" stroke-width=".7" fill="none"/><circle cx="1266.5" cy="191.2" r="20.8" fill="none" stroke="#2e2e2e" stroke-width="1.1"/>
<circle cx="1266.5" cy="303.8" r="20.8" fill="#BEBEBE"/><path d="M1266.5 303.8L1287.3 303.8A20.8 20.8 0 0 0 1279.9 287.9Z" fill="#FFFF00"/><path d="M1266.5 303.8L1279.9 287.9A20.8 20.8 0 0 0 1266.5 283Z" fill="#228B22"/><path d="M1266.5 303.8L1266.5 283A20.8 20.8 0 1 0 1279.9 319.7Z" fill="#BEBEBE"/><path d="M1266.5 303.8L1279.9 319.7A20.8 20.8 0 0 0 1284.9 313.4Z" fill="#595959"/><path d="M1266.5 303.8L1282.5 317.1" stroke="#111" stroke-width=".6" fill="none"/><path d="M1266.5 303.8L1284.9 313.4A20.8 20.8 0 0 0 1287.3 303.8Z" fill="#000000"/><path d="M1266.5 303.8L1286.6 309.1" stroke="#4a4a4a" stroke-width=".6" fill="none"/><path d="M1266.5 303.8L1287.3 303.8M1266.5 303.8L1279.9 287.9M1266.5 303.8L1266.5 283M1266.5 303.8L1279.9 319.7M1266.5 303.8L1284.9 313.4" stroke="#111" stroke-width=".7" fill="none"/><circle cx="1266.5" cy="303.8" r="20.8" fill="none" stroke="#2e2e2e" stroke-width="1.1"/>
<circle cx="1401.2" cy="284.5" r="20.8" fill="#228B22"/><path d="M1401.2 284.5L1422 284.5A20.8 20.8 0 0 0 1421.8 281.6Z" fill="#FFA500"/><path d="M1401.2 284.5L1421.8 281.6A20.8 20.8 0 0 0 1421 278.1Z" fill="#00BFFF"/><path d="M1401.2 284.5L1421 278.1A20.8 20.8 0 1 0 1394.1 304Z" fill="#228B22"/><path d="M1401.2 284.5L1394.1 304A20.8 20.8 0 0 0 1417.1 297.9Z" fill="#BEBEBE"/><path d="M1401.2 284.5L1417.1 297.9A20.8 20.8 0 0 0 1420.5 292.3Z" fill="#595959"/><path d="M1401.2 284.5L1418.9 295.4" stroke="#111" stroke-width=".6" fill="none"/><path d="M1401.2 284.5L1420.5 292.3A20.8 20.8 0 0 0 1422 284.5Z" fill="#000000"/><path d="M1401.2 284.5L1421.6 288.7" stroke="#4a4a4a" stroke-width=".6" fill="none"/><path d="M1401.2 284.5L1422 284.5M1401.2 284.5L1421.8 281.6M1401.2 284.5L1421 278.1M1401.2 284.5L1394.1 304M1401.2 284.5L1417.1 297.9M1401.2 284.5L1420.5 292.3" stroke="#111" stroke-width=".7" fill="none"/><circle cx="1401.2" cy="284.5" r="20.8" fill="none" stroke="#2e2e2e" stroke-width="1.1"/>
<circle cx="1401.2" cy="323.1" r="20.8" fill="#BEBEBE"/><path d="M1401.2 323.1L1422 323.1A20.8 20.8 0 0 0 1421.3 317.7Z" fill="#FFFF00"/><path d="M1401.2 323.1L1421.3 317.7A20.8 20.8 0 0 0 1420.7 316Z" fill="#228B22"/><path d="M1401.2 323.1L1420.7 316A20.8 20.8 0 1 0 1394.1 342.7Z" fill="#BEBEBE"/><path d="M1401.2 323.1L1394.1 342.7A20.8 20.8 0 0 0 1419.2 333.5Z" fill="#595959"/><path d="M1401.2 323.1L1419.2 333.5A20.8 20.8 0 0 0 1421.1 329Z" fill="#595959"/><path d="M1401.2 323.1L1421.1 329A20.8 20.8 0 0 0 1422 323.1Z" fill="#000000"/><path d="M1401.2 323.1L1421.8 326.3" stroke="#4a4a4a" stroke-width=".6" fill="none"/><path d="M1401.2 323.1L1422 323.1M1401.2 323.1L1421.3 317.7M1401.2 323.1L1420.7 316M1401.2 323.1L1394.1 342.7M1401.2 323.1L1419.2 333.5M1401.2 323.1L1421.1 329" stroke="#111" stroke-width=".7" fill="none"/><circle cx="1401.2" cy="323.1" r="20.8" fill="none" stroke="#2e2e2e" stroke-width="1.1"/>
<circle cx="1621.5" cy="271.6" r="20.8" fill="#228B22"/><path d="M1621.5 271.6L1642.3 271.6A20.8 20.8 0 1 0 1642.3 272Z" fill="#228B22"/><path d="M1621.5 271.6L1642.3 272A20.8 20.8 0 0 0 1642.3 271.6Z" fill="#000000"/><path d="M1621.5 271.6L1642.3 271.6M1621.5 271.6L1642.3 272" stroke="#111" stroke-width=".7" fill="none"/><circle cx="1621.5" cy="271.6" r="20.8" fill="none" stroke="#2e2e2e" stroke-width="1.1"/>
<circle cx="1621.5" cy="297.4" r="20.8" fill="#228B22"/><path d="M1621.5 297.4L1642.3 297.4A20.8 20.8 0 1 0 1642.3 297.7Z" fill="#228B22"/><path d="M1621.5 297.4L1642.3 297.7A20.8 20.8 0 0 0 1642.3 297.4Z" fill="#000000"/><path d="M1621.5 297.4L1642.3 297.4M1621.5 297.4L1642.3 297.7" stroke="#111" stroke-width=".7" fill="none"/><circle cx="1621.5" cy="297.4" r="20.8" fill="none" stroke="#2e2e2e" stroke-width="1.1"/>
<circle cx="1412.2" cy="155.8" r="20.8" fill="#FFFF00"/><path d="M1412.2 155.8L1433 155.8A20.8 20.8 0 0 0 1412.2 135Z" fill="#FFFF00"/><path d="M1412.2 155.8L1412.2 135A20.8 20.8 0 0 0 1392.1 150.4Z" fill="#FFA500"/><path d="M1412.2 155.8L1392.1 150.4A20.8 20.8 0 0 0 1405.1 175.3Z" fill="#228B22"/><path d="M1412.2 155.8L1405.1 175.3A20.8 20.8 0 0 0 1415.8 176.3Z" fill="#BEBEBE"/><path d="M1412.2 155.8L1415.8 176.3A20.8 20.8 0 0 0 1427.2 170.2Z" fill="#595959"/><path d="M1412.2 155.8L1419.7 175.2M1412.2 155.8L1424.6 172.5" stroke="#111" stroke-width=".6" fill="none"/><path d="M1412.2 155.8L1427.2 170.2A20.8 20.8 0 0 0 1433 155.8Z" fill="#000000"/><path d="M1412.2 155.8L1430.1 166.3M1412.2 155.8L1432.6 159.9" stroke="#4a4a4a" stroke-width=".6" fill="none"/><path d="M1412.2 155.8L1433 155.8M1412.2 155.8L1412.2 135M1412.2 155.8L1392.1 150.4M1412.2 155.8L1405.1 175.3M1412.2 155.8L1415.8 176.3M1412.2 155.8L1427.2 170.2" stroke="#111" stroke-width=".7" fill="none"/><circle cx="1412.2" cy="155.8" r="20.8" fill="none" stroke="#2e2e2e" stroke-width="1.1"/>
<circle cx="1412.2" cy="226.6" r="20.8" fill="#595959"/><path d="M1412.2 226.6L1433 226.6A20.8 20.8 0 0 0 1432.3 221.2Z" fill="#FFFF00"/><path d="M1412.2 226.6L1432.3 221.2A20.8 20.8 0 0 0 1429.2 214.6Z" fill="#00BFFF"/><path d="M1412.2 226.6L1429.2 214.6A20.8 20.8 0 0 0 1422.6 208.6Z" fill="#228B22"/><path d="M1412.2 226.6L1422.6 208.6A20.8 20.8 0 0 0 1391.7 223Z" fill="#BEBEBE"/><path d="M1412.2 226.6L1391.7 223A20.8 20.8 0 1 0 1433 226.6Z" fill="#595959"/><path d="M1412.2 226.6L1391.5 228.3M1412.2 226.6L1393.4 235.4M1412.2 226.6L1394.8 237.9M1412.2 226.6L1399.8 243.3M1412.2 226.6L1406.4 246.5M1412.2 226.6L1409.2 247.2M1412.2 226.6L1416.5 246.9M1412.2 226.6L1423.3 244.2M1412.2 226.6L1425.6 242.5M1412.2 226.6L1430.3 236.8M1412.2 226.6L1431.6 234.2" stroke="#111" stroke-width=".6" fill="none"/><path d="M1412.2 226.6L1433 226.6M1412.2 226.6L1432.3 221.2M1412.2 226.6L1429.2 214.6M1412.2 226.6L1422.6 208.6M1412.2 226.6L1391.7 223" stroke="#111" stroke-width=".7" fill="none"/><circle cx="1412.2" cy="226.6" r="20.8" fill="none" stroke="#2e2e2e" stroke-width="1.1"/>
<circle cx="1495.4" cy="207.3" r="20.8" fill="#595959"/><path d="M1495.4 207.3L1516.2 207.3A20.8 20.8 0 0 0 1514.9 200.2Z" fill="#BEBEBE"/><path d="M1495.4 207.3L1514.9 200.2A20.8 20.8 0 0 0 1488.3 187.7Z" fill="#BEBEBE"/><path d="M1495.4 207.3L1488.3 187.7A20.8 20.8 0 1 0 1516.2 207.3Z" fill="#595959"/><path d="M1495.4 207.3L1483.6 190.1M1495.4 207.3L1478.4 195.2M1495.4 207.3L1477 197.6M1495.4 207.3L1474.8 204.6M1495.4 207.3L1475.1 211.8M1495.4 207.3L1475.9 214.5M1495.4 207.3L1479.6 220.8M1495.4 207.3L1485.2 225.4M1495.4 207.3L1487.7 226.6M1495.4 207.3L1494.8 228.1M1495.4 207.3L1497.7 227.9M1495.4 207.3L1504.6 225.9M1495.4 207.3L1510.5 221.6M1495.4 207.3L1512.3 219.4M1495.4 207.3L1515.4 212.9" stroke="#111" stroke-width=".6" fill="none"/><path d="M1495.4 207.3L1516.2 207.3M1495.4 207.3L1514.9 200.2M1495.4 207.3L1488.3 187.7" stroke="#111" stroke-width=".7" fill="none"/><circle cx="1495.4" cy="207.3" r="20.8" fill="none" stroke="#2e2e2e" stroke-width="1.1"/>
<circle cx="1495.4" cy="245.9" r="20.8" fill="#00BFFF"/><path d="M1495.4 245.9L1516.2 245.9A20.8 20.8 0 1 0 1514.9 253Z" fill="#00BFFF"/><path d="M1495.4 245.9L1514.9 253A20.8 20.8 0 0 0 1515.9 249.5Z" fill="#BEBEBE"/><path d="M1495.4 245.9L1515.9 249.5A20.8 20.8 0 0 0 1516.2 245.9Z" fill="#000000"/><path d="M1495.4 245.9L1516.2 245.9M1495.4 245.9L1514.9 253M1495.4 245.9L1515.9 249.5" stroke="#111" stroke-width=".7" fill="none"/><circle cx="1495.4" cy="245.9" r="20.8" fill="none" stroke="#2e2e2e" stroke-width="1.1"/>
<circle cx="1524.3" cy="194.4" r="20.8" fill="#BEBEBE"/><path d="M1524.3 194.4L1545.1 194.4A20.8 20.8 0 0 0 1518.9 174.3Z" fill="#228B22"/><path d="M1524.3 194.4L1518.9 174.3A20.8 20.8 0 1 0 1531.4 213.9Z" fill="#BEBEBE"/><path d="M1524.3 194.4L1531.4 213.9A20.8 20.8 0 0 0 1545.1 194.4Z" fill="#595959"/><path d="M1524.3 194.4L1545.1 194.4M1524.3 194.4L1518.9 174.3M1524.3 194.4L1531.4 213.9" stroke="#111" stroke-width=".7" fill="none"/><circle cx="1524.3" cy="194.4" r="20.8" fill="none" stroke="#2e2e2e" stroke-width="1.1"/>
<circle cx="1524.3" cy="220.1" r="20.8" fill="#595959"/><path d="M1524.3 220.1L1545.1 220.1A20.8 20.8 0 0 0 1542.3 209.7Z" fill="#228B22"/><path d="M1524.3 220.1L1542.3 209.7A20.8 20.8 0 0 0 1506.3 209.7Z" fill="#BEBEBE"/><path d="M1524.3 220.1L1506.3 209.7A20.8 20.8 0 1 0 1545.1 220.1Z" fill="#595959"/><path d="M1524.3 220.1L1504.3 214.4M1524.3 220.1L1503.5 221.3M1524.3 220.1L1503.9 224M1524.3 220.1L1506.3 230.5M1524.3 220.1L1510.7 235.9M1524.3 220.1L1512.9 237.5M1524.3 220.1L1519.3 240.3M1524.3 220.1L1526.2 240.9M1524.3 220.1L1528.9 240.4M1524.3 220.1L1535.4 237.8M1524.3 220.1L1537.6 236.2M1524.3 220.1L1542.1 230.9M1524.3 220.1L1544.7 224.4" stroke="#111" stroke-width=".6" fill="none"/><path d="M1524.3 220.1L1545.1 220.1M1524.3 220.1L1542.3 209.7M1524.3 220.1L1506.3 209.7" stroke="#111" stroke-width=".7" fill="none"/><circle cx="1524.3" cy="220.1" r="20.8" fill="none" stroke="#2e2e2e" stroke-width="1.1"/>
<circle cx="1621.5" cy="142.9" r="20.8" fill="#595959"/><path d="M1621.5 142.9L1642.3 142.9A20.8 20.8 0 1 0 1642.3 143.3Z" fill="#595959"/><path d="M1621.5 142.9L1642.3 143.3A20.8 20.8 0 0 0 1642.3 142.9Z" fill="#000000"/><path d="M1621.5 142.9L1642.3 142.9M1621.5 142.9L1642.3 143.3" stroke="#111" stroke-width=".7" fill="none"/><circle cx="1621.5" cy="142.9" r="20.8" fill="none" stroke="#2e2e2e" stroke-width="1.1"/>
<circle cx="1621.5" cy="168.7" r="20.8" fill="#228B22"/><path d="M1621.5 168.7L1642.3 168.7A20.8 20.8 0 1 0 1642.3 169Z" fill="#228B22"/><path d="M1621.5 168.7L1642.3 169A20.8 20.8 0 0 0 1642.3 168.7Z" fill="#000000"/><path d="M1621.5 168.7L1642.3 168.7M1621.5 168.7L1642.3 169" stroke="#111" stroke-width=".7" fill="none"/><circle cx="1621.5" cy="168.7" r="20.8" fill="none" stroke="#2e2e2e" stroke-width="1.1"/>
<circle cx="1412.2" cy="40" r="20.8" fill="#FFA500"/><path d="M1412.2 40L1433 40A20.8 20.8 0 1 0 1432.3 45.3Z" fill="#FFA500"/><path d="M1412.2 40L1432.3 45.3A20.8 20.8 0 0 0 1433 40Z" fill="#000000"/><path d="M1412.2 40L1432.8 42.9" stroke="#4a4a4a" stroke-width=".6" fill="none"/><path d="M1412.2 40L1433 40M1412.2 40L1432.3 45.3" stroke="#111" stroke-width=".7" fill="none"/><circle cx="1412.2" cy="40" r="20.8" fill="none" stroke="#2e2e2e" stroke-width="1.1"/>
<circle cx="1412.2" cy="97.9" r="20.8" fill="#FFA500"/><path d="M1412.2 97.9L1433 97.9A20.8 20.8 0 1 0 1400.3 114.9Z" fill="#FFA500"/><path d="M1412.2 97.9L1400.3 114.9A20.8 20.8 0 0 0 1403.4 116.7Z" fill="#BEBEBE"/><path d="M1412.2 97.9L1403.4 116.7A20.8 20.8 0 0 0 1433 97.9Z" fill="#595959"/><path d="M1412.2 97.9L1433 97.9M1412.2 97.9L1400.3 114.9M1412.2 97.9L1403.4 116.7" stroke="#111" stroke-width=".7" fill="none"/><circle cx="1412.2" cy="97.9" r="20.8" fill="none" stroke="#2e2e2e" stroke-width="1.1"/>
<circle cx="1464.4" cy="78.6" r="20.8" fill="#FFA500"/><path d="M1464.4 78.6L1485.2 78.6A20.8 20.8 0 1 0 1444.9 85.7Z" fill="#FFA500"/><path d="M1464.4 78.6L1444.9 85.7A20.8 20.8 0 0 0 1447.4 90.5Z" fill="#BEBEBE"/><path d="M1464.4 78.6L1447.4 90.5A20.8 20.8 0 0 0 1485.2 78.6Z" fill="#595959"/><path d="M1464.4 78.6L1485.2 78.6M1464.4 78.6L1444.9 85.7M1464.4 78.6L1447.4 90.5" stroke="#111" stroke-width=".7" fill="none"/><circle cx="1464.4" cy="78.6" r="20.8" fill="none" stroke="#2e2e2e" stroke-width="1.1"/>
<circle cx="1464.4" cy="117.2" r="20.8" fill="#FFA500"/><path d="M1464.4 117.2L1485.2 117.2A20.8 20.8 0 1 0 1484.9 120.8Z" fill="#FFA500"/><path d="M1464.4 117.2L1484.9 120.8A20.8 20.8 0 0 0 1485.2 117.2Z" fill="#000000"/><path d="M1464.4 117.2L1485.2 117.2M1464.4 117.2L1484.9 120.8" stroke="#111" stroke-width=".7" fill="none"/><circle cx="1464.4" cy="117.2" r="20.8" fill="none" stroke="#2e2e2e" stroke-width="1.1"/>
<circle cx="1542.9" cy="65.7" r="20.8" fill="#BEBEBE"/><path d="M1542.9 65.7L1563.7 65.7A20.8 20.8 0 0 0 1562.4 58.6Z" fill="#FFA500"/><path d="M1542.9 65.7L1562.4 58.6A20.8 20.8 0 1 0 1562.4 72.8Z" fill="#BEBEBE"/><path d="M1542.9 65.7L1562.4 72.8A20.8 20.8 0 0 0 1563.7 65.7Z" fill="#000000"/><path d="M1542.9 65.7L1563.3 69.6" stroke="#4a4a4a" stroke-width=".6" fill="none"/><path d="M1542.9 65.7L1563.7 65.7M1542.9 65.7L1562.4 58.6M1542.9 65.7L1562.4 72.8" stroke="#111" stroke-width=".7" fill="none"/><circle cx="1542.9" cy="65.7" r="20.8" fill="none" stroke="#2e2e2e" stroke-width="1.1"/>
<circle cx="1542.9" cy="91.4" r="20.8" fill="#FFA500"/><path d="M1542.9 91.4L1563.7 91.4A20.8 20.8 0 1 0 1563 96.8Z" fill="#FFA500"/><path d="M1542.9 91.4L1563 96.8A20.8 20.8 0 0 0 1563.7 91.4Z" fill="#000000"/><path d="M1542.9 91.4L1563.5 94.3" stroke="#4a4a4a" stroke-width=".6" fill="none"/><path d="M1542.9 91.4L1563.7 91.4M1542.9 91.4L1563 96.8" stroke="#111" stroke-width=".7" fill="none"/><circle cx="1542.9" cy="91.4" r="20.8" fill="none" stroke="#2e2e2e" stroke-width="1.1"/>
</g>
<g id="labels" transform="scale(1.115 1)" font-family="'Liberation Sans',sans-serif" font-style="italic" font-size="13.9" word-spacing=".5" fill="#000" stroke="#000" stroke-width=".22">
<text x="1467.2" y="46">Sternarchorhynchus mesensis</text>
<text x="1465.8" y="71.5">Sternarchorhynchus higuchii</text>
<text x="1463.1" y="95.8">Sternarchorhynchus schwassmanni</text>
<text x="1463.1" y="121">Sternarchorhynchus kokraimoro</text>
<text x="1480.9" y="145.3">Sternarchorhynchus starksi</text>
<text x="1480" y="171.8">Sternarchorhynchus montanus</text>
<text x="1463.6" y="200.1">Sternarchorhynchus cramptoni</text>
<text x="1463.6" y="224.4">Sternarchorhynchus retzeri</text>
<text x="1462.7" y="248.5">Sternarchorhynchus roseni</text>
<text x="1479.1" y="278.5">Sternarchorhynchus hagedornae</text>
<text x="1477.8" y="303.2">Sternarchorhynchus stewarti</text>
<text x="1464.5" y="327.7">Sternarchorhynchus galibi</text>
<text x="1462.1" y="352.1">Sternarchorhynchus villasboasi</text>
<text x="1462.1" y="377.6">Sternarchorhynchus jaimei</text>
<text x="1462.1" y="406.3">Sternarchorhynchus marreroi</text>
<text x="1462.1" y="432.3">Sternarchorhynchus yepezi</text>
<text x="1462.1" y="457">Sternarchorhynchus mareikeae</text>
<text x="1462.1" y="483.5">Sternarchorhynchus mormyrus</text>
<text x="1462.1" y="507.5">Sternarchorhynchus inpai</text>
<text x="1462.1" y="534.3">Sternarchorhynchus goeldii</text>
<text x="1462.1" y="562.5">Sternarchorhynchus oxyrhynchus</text>
<text x="1462.1" y="587.7">Tenebrosternarchus preto</text>
<text x="1462.1" y="611.3">Porotergus duende</text>
<text x="1462.1" y="637.2">Apteronotus apurensis</text>
<text x="1462.1" y="665.8">Apteronotus macrolepis</text>
<text x="1462.1" y="688.9">Apteronotus paranaensis</text>
<text x="1462.1" y="716">Porotergus gymnotus</text>
<text x="1462.1" y="741">Apteronotus bonapartii</text>
<text x="1462.1" y="766.6">Porotergus gimbeli</text>
<text x="1462.1" y="793.7">Compsaraia iara</text>
<text x="1462.1" y="818.6">Compsaraia compsa</text>
<text x="1462.1" y="842.9">Compsaraia samueli</text>
<text x="1462.1" y="869.4">Melanosternarchus amaru</text>
<text x="1462.1" y="895.4">Pariosternarchus amazonensis</text>
<text x="1462.1" y="922.8">Sternarchogiton porcinum</text>
<text x="1462.1" y="948.5">Sternarchogiton zuanoni</text>
<text x="1462.1" y="973.7">Sternarchogiton labiatus</text>
<text x="1462.1" y="999.7">Sternarchogiton nattereri</text>
<text x="1462.1" y="1024">Sternarchella sima</text>
<text x="1462.1" y="1049">Sternarchella orinoco</text>
<text x="1462.1" y="1076.3">Sternarchella duccis</text>
<text x="1462.1" y="1098.2">Sternarchella orthos</text>
<text x="1462.1" y="1125.8">Sternarchella raptor</text>
<text x="1462.1" y="1152.4">Sternarchella calhamazon</text>
<text x="1462.1" y="1179.2">Sternarchella patriciae</text>
<text x="1462.1" y="1202.9">Sternarchella rex</text>
<text x="1462.1" y="1228.7">Sternarchella schotti</text>
<text x="1462.1" y="1256.5">Platyurosternarchus macrostoma</text>
<text x="1462.1" y="1280.4">Platyurosternarchus crypticus</text>
<text x="1462.1" y="1308.8">Apteronotus eschmeyeri</text>
<text x="1462.1" y="1332.8">Apteronotus cuchillo</text>
<text x="1462.1" y="1360">Apteronotus magdalenensis</text>
<text x="1462.1" y="1386.5">Apteronotus galvisi</text>
<text x="1462.1" y="1410.9">Apteronotus ferrarisi</text>
<text x="1462.1" y="1439.3">Apteronotus anu</text>
<text x="1462.1" y="1460.4">Apteronotus rostratus</text>
<text x="1462.1" y="1486.9">Apteronotus baniwa</text>
<text x="1462.1" y="1513.2">Apteronotus pemon</text>
<text x="1462.1" y="1539.7">Apteronotus leptorhynchus</text>
<text x="1462.1" y="1564.8">Apteronotus lindalvae</text>
<text x="1462.1" y="1589.9">Apteronotus caudimaculosus</text>
<text x="1462.1" y="1617.5">Apteronotus camposdapazi</text>
<text x="1462.1" y="1642.6">Apteronotus albifrons</text>
<text x="1462.1" y="1668.8">Apteronotus milesi</text>
<text x="1462.1" y="1695.6">Apteronotus spurrellii</text>
<text x="1462.1" y="1721.7">Apteronotus mariae</text>
<text x="1462.1" y="1746">Megadontognathus cuyuniensis</text>
<text x="1460.6" y="1769.9">Megadontognathus kaitukaensis</text>
<text x="1462.1" y="1795.6">Apteronotus acidops</text>
<text x="1462.1" y="1819.4">Apteronotus brasiliensis</text>
<text x="1462.1" y="1844.6">Tembeassu marauna</text>
<text x="1462.1" y="1873.2">Parapteronotus hasemani</text>
<text x="1462.1" y="1898.3">Adontosternarchus sachsi</text>
<text x="1462.1" y="1925">Adontosternarchus duartei</text>
<text x="1462.1" y="1950.3">Adontosternarchus clarkae</text>
<text x="1462.1" y="1977.4">Adontosternarchus devenanzii</text>
<text x="1462.1" y="2003.9">Adontosternarchus nebulosus</text>
<text x="1462.1" y="2028.9">Adontosternarchus balaenops</text>
<text x="1462.1" y="2054.3">Apteronotus magoi</text>
<text x="1462.1" y="2079">Apteronotus cuchillejo</text>
<text x="1462.1" y="2105.8">Orthosternarchus tamandua</text>
<text x="1462.1" y="2129.3">Sternarchorhamphus muelleri</text>
</g>
<g id="axis">
<path d="M1622 2207V2220.5M1382.6 2207V2220.5M1143.2 2207V2220.5M903.8 2207V2220.5M664.4 2207V2220.5M425 2207V2220.5M185.6 2207V2220.5" stroke="#808080" stroke-width="1.5" fill="none"/>
<path d="M11 2207H1623" stroke="#000" stroke-width="6.2" fill="none"/>
<g font-family="'Liberation Sans',sans-serif" font-size="46.5" fill="#000" text-anchor="middle">
<text x="1622" y="2283.5">0</text>
<text x="1381.2" y="2283.5">5</text>
<text x="1142.4" y="2283.5">10</text>
<text x="900" y="2283.5">15</text>
<text x="663.9" y="2283.5">20</text>
<text x="428" y="2283.5">25</text>
<text x="183.1" y="2283.5">30</text>
</g>
<text x="614.7" y="2349.5" font-family="'Liberation Sans',sans-serif" font-size="64" textLength="570" lengthAdjust="spacingAndGlyphs" fill="#000">Millions of years ago</text>
</g>
</svg></body></html>
